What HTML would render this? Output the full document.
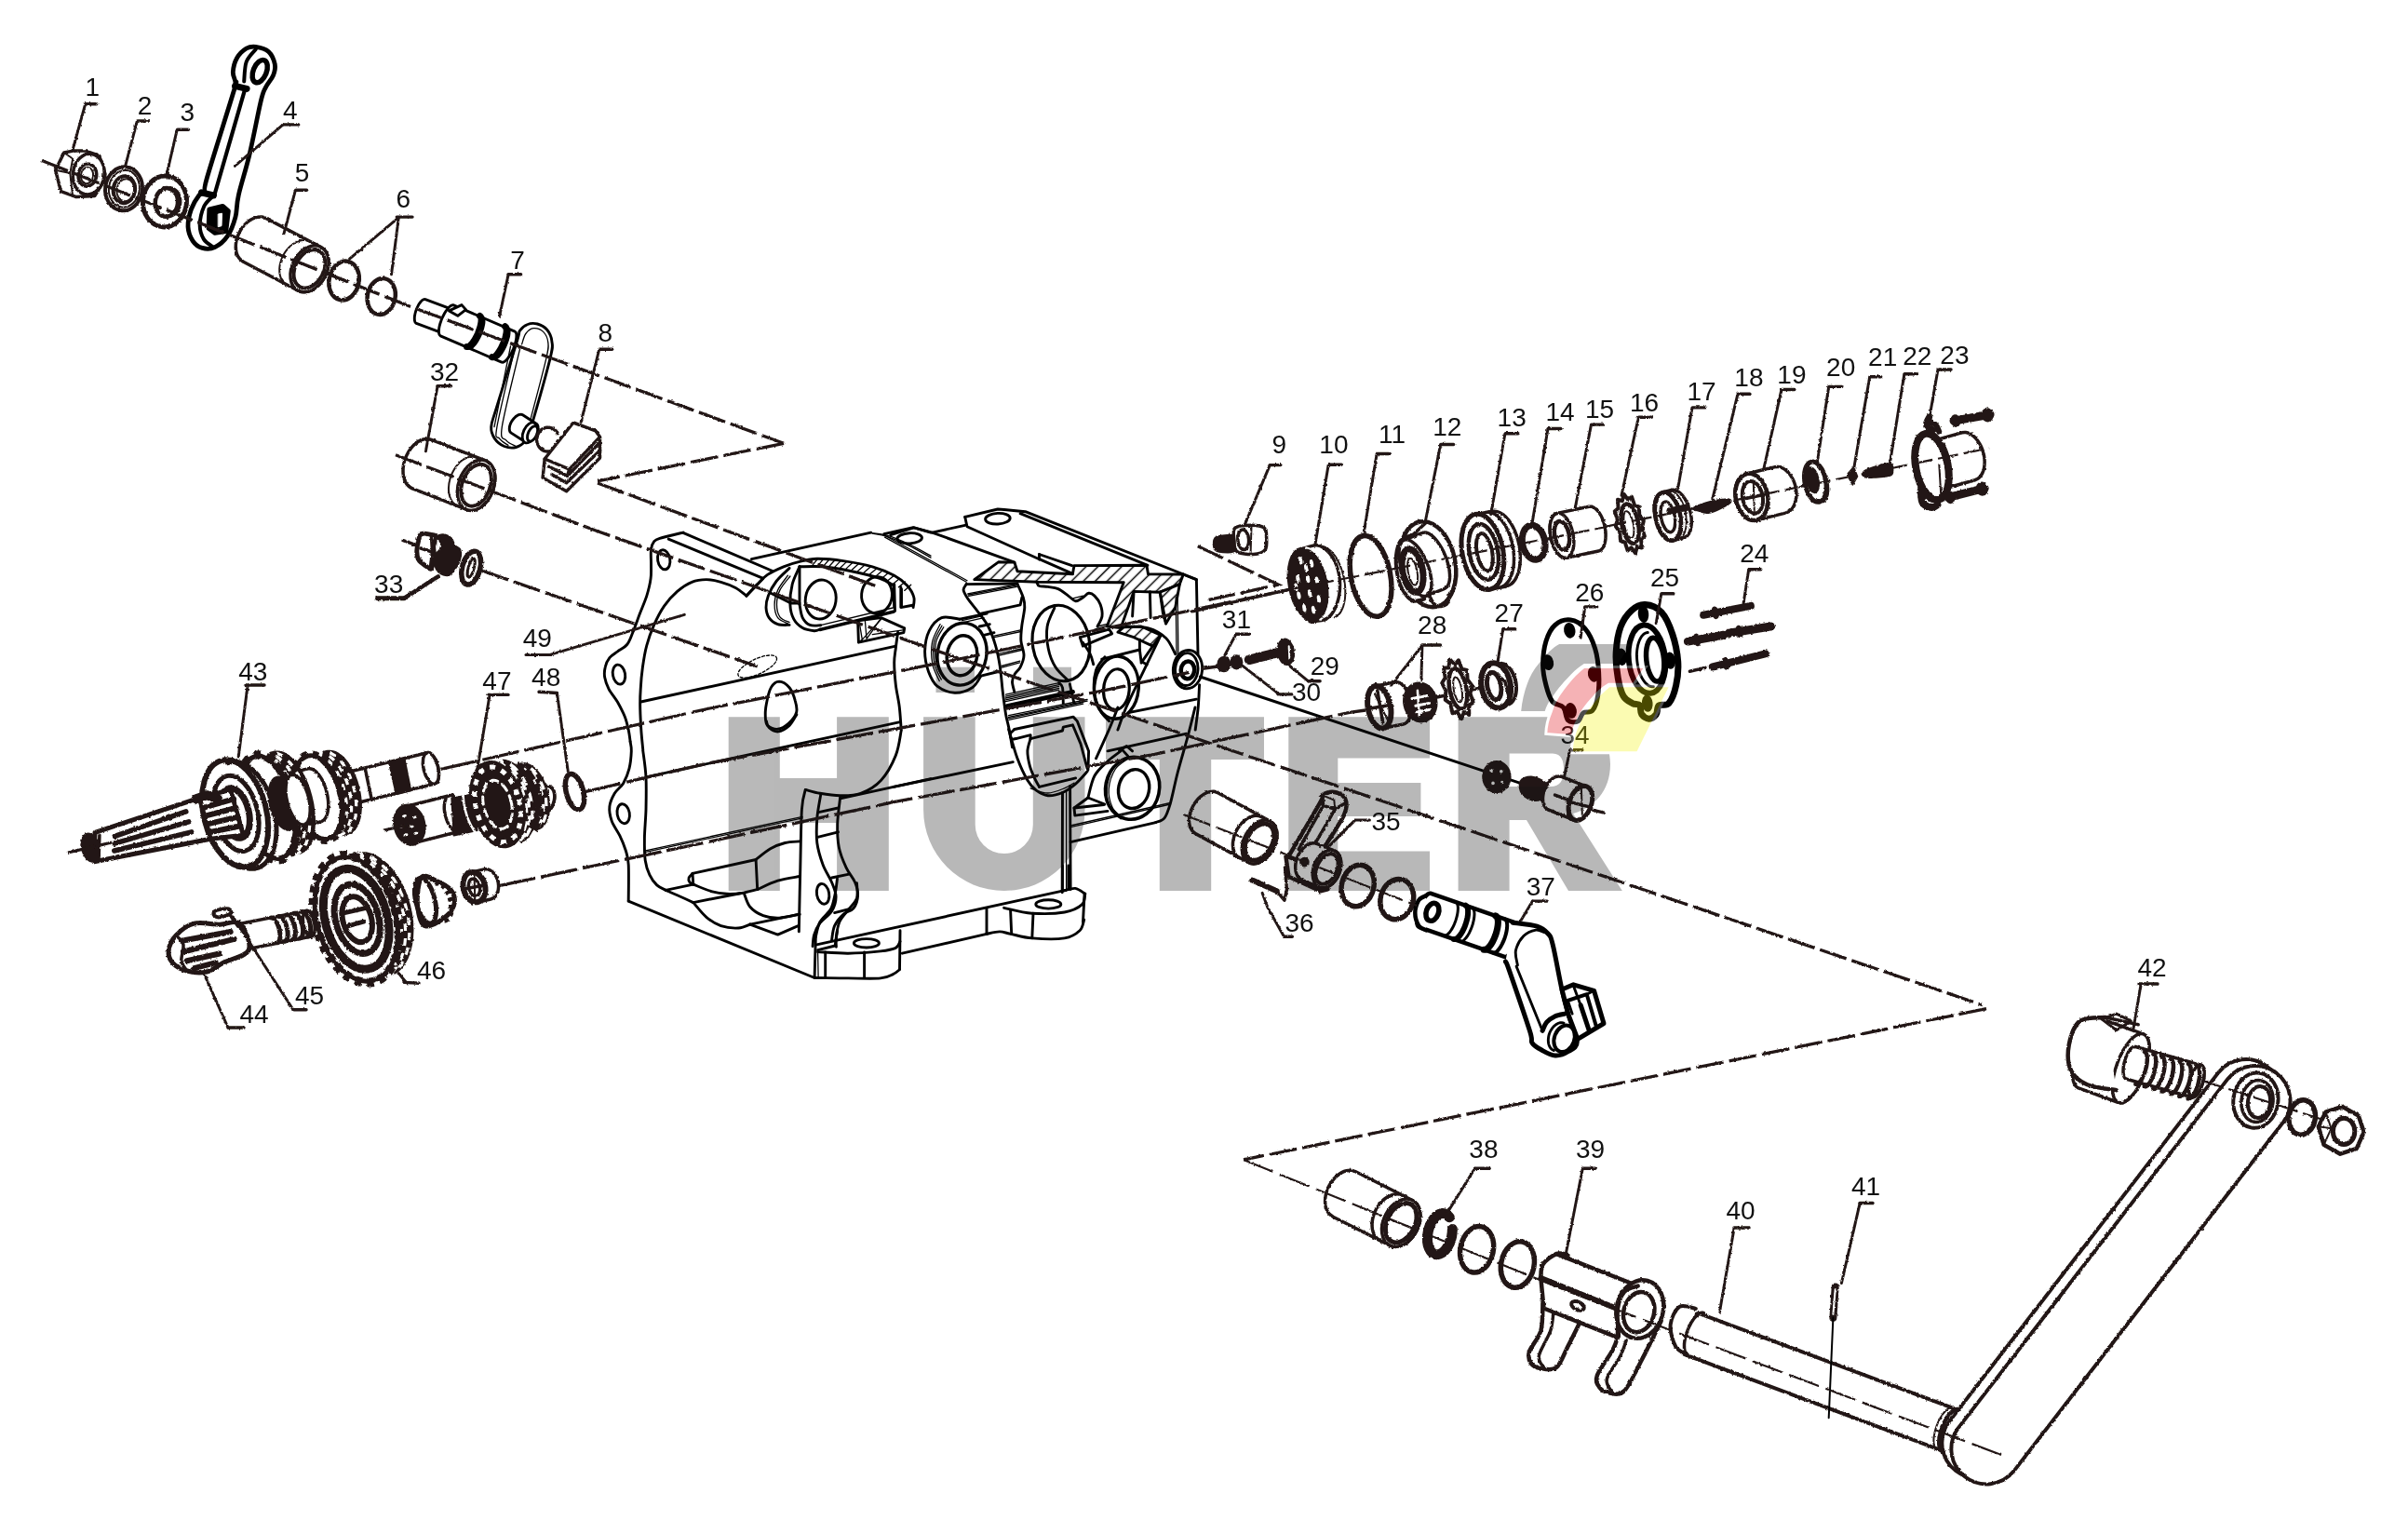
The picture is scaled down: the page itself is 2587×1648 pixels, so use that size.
<!DOCTYPE html>
<html><head><meta charset="utf-8"><title>Parts diagram</title>
<style>
html,body{margin:0;padding:0;background:#fff;}
body{width:2587px;height:1648px;overflow:hidden;font-family:"Liberation Sans",sans-serif;}
svg{display:block;will-change:transform;}
.k{fill:none;stroke:#000;stroke-width:2.9;stroke-linecap:round;stroke-linejoin:round;}
.kt{fill:none;stroke:#000;stroke-width:1.3;stroke-linecap:round;stroke-linejoin:round;}
.kw{fill:#fff;stroke:#000;stroke-width:2.9;stroke-linecap:round;stroke-linejoin:round;}
.s{fill:none;stroke:#231815;stroke-width:3.5;stroke-linecap:round;stroke-linejoin:round;}
.sw{fill:#fff;stroke:#231815;stroke-width:3.5;stroke-linecap:round;stroke-linejoin:round;}
.st{fill:none;stroke:#231815;stroke-width:2;stroke-linecap:round;stroke-linejoin:round;}
.sb{fill:#231815;stroke:#231815;stroke-width:2;stroke-linejoin:round;}
.d{fill:none;stroke:#231815;stroke-width:3.3;stroke-dasharray:30 6;stroke-linecap:butt;}
.dt{fill:none;stroke:#231815;stroke-width:2.2;stroke-dasharray:22 6;}
.ld{fill:none;stroke:#231815;stroke-width:3;stroke-linecap:round;}
.lb{font-family:"Liberation Sans",sans-serif;font-size:28px;fill:#111;}
</style></head><body>
<svg width="2587" height="1648" viewBox="0 0 2587 1648">
<rect width="2587" height="1648" fill="#fff"/>
<defs><filter id="rough" filterUnits="userSpaceOnUse" x="0" y="0" width="2587" height="1648"><feTurbulence type="fractalNoise" baseFrequency="0.35" numOctaves="2" seed="7" result="n"/><feDisplacementMap in="SourceGraphic" in2="n" scale="2.6" xChannelSelector="R" yChannelSelector="G"/></filter></defs>
<g id="10_topleft"><g filter="url(#rough)"><path class="sw" d="M59.6 182.8L68.8 164.0L78.2 162.1L91.9 162.1L106.6 167.2L113.0 187.1L111.5 194.9L101.7 210.6L82.1 211.6L65.5 205.7Z" />
<path class="st" d="M68.8 164.0L78.2 170.5L75.3 186.1L59.6 182.8" />
<path class="st" d="M75.3 186.1L78.2 211.0" />
<ellipse class="sw" cx="95.2" cy="187.1" rx="16.8" ry="21.9" transform="rotate(8 95.2 187.1)" />
<ellipse class="s" cx="93.9" cy="188.1" rx="9.8" ry="12.1" transform="rotate(8 93.9 188.1)" />
<ellipse class="st" cx="93.5" cy="188.5" rx="6.6" ry="8.8" transform="rotate(8 93.5 188.5)" />
<ellipse class="sw" cx="133.0" cy="202.8" rx="19.9" ry="23.5" transform="rotate(8 133.0 202.8)" style="stroke-width:4"/>
<ellipse class="st" cx="133.4" cy="202.8" rx="16.4" ry="19.9" transform="rotate(8 133.4 202.8)" />
<ellipse class="s" cx="133.4" cy="203.7" rx="11.7" ry="14.5" transform="rotate(8 133.4 203.7)" style="stroke-width:4"/>
<ellipse class="st" cx="134.9" cy="204.3" rx="9.4" ry="12.1" transform="rotate(8 134.9 204.3)" />
<ellipse class="sw" cx="177.0" cy="216.5" rx="23.5" ry="27.4" transform="rotate(5 177.0 216.5)" style="stroke-width:5"/>
<ellipse class="s" cx="178.9" cy="217.4" rx="12.1" ry="15.3" transform="rotate(5 178.9 217.4)" style="stroke-width:4.5"/>
<path class="s" d="M182.8 201.8C183.2 201.9 184.4 202.1 185.1 202.3C185.9 202.6 186.6 203.0 187.3 203.4C188.0 203.8 188.7 204.4 189.3 205.0C189.9 205.6 190.5 206.3 191.0 207.0C191.5 207.8 191.9 208.6 192.3 209.5C192.6 210.3 192.9 211.3 193.2 212.2C193.4 213.1 193.5 214.1 193.6 215.1C193.7 216.1 193.7 217.1 193.6 218.1C193.5 219.1 193.3 220.1 193.1 221.0C192.8 222.0 192.5 222.9 192.1 223.8C191.8 224.7 191.3 225.6 190.8 226.4C190.3 227.1 189.7 227.9 189.1 228.5C188.5 229.2 187.8 229.8 187.1 230.3C186.4 230.8 185.6 231.2 184.9 231.5C184.1 231.8 183.3 232.0 182.5 232.2C181.8 232.3 180.6 232.2 180.2 232.2" />
<path class="sw" d="M344.8 265.5C345.4 266.0 347.5 267.2 348.6 268.5C349.7 269.7 350.6 271.3 351.3 272.9C352.0 274.6 352.5 276.5 352.8 278.4C353.0 280.4 353.1 282.5 352.9 284.6C352.6 286.8 352.2 289.0 351.5 291.1C350.9 293.3 350.0 295.5 348.9 297.5C347.8 299.5 346.6 301.5 345.2 303.2C343.8 305.0 342.2 306.6 340.6 308.0C338.9 309.4 337.1 310.6 335.4 311.5C333.6 312.4 331.8 313.0 330.0 313.4C328.3 313.7 326.5 313.8 324.8 313.6C323.2 313.4 320.9 312.4 320.2 312.2L261.5 281.3C260.9 280.8 258.8 279.5 257.7 278.2C256.6 277.0 255.6 275.5 254.9 273.8C254.2 272.2 253.7 270.3 253.5 268.3C253.2 266.4 253.2 264.2 253.4 262.1C253.6 260.0 254.1 257.7 254.7 255.6C255.4 253.5 256.3 251.3 257.4 249.3C258.4 247.2 259.7 245.3 261.1 243.5C262.5 241.8 264.1 240.1 265.7 238.7C267.3 237.4 269.1 236.2 270.9 235.3C272.6 234.4 274.5 233.7 276.2 233.4C278.0 233.0 279.8 232.9 281.4 233.1C283.1 233.3 285.3 234.3 286.1 234.6Z" />
<ellipse class="sw" cx="332.5" cy="288.8" rx="18.6" ry="26.4" transform="rotate(27.8 332.5 288.8)"/>
<path class="st" d="M308.4 306.3C307.9 305.9 306.3 305.0 305.4 304.2C304.6 303.3 303.7 302.3 303.1 301.2C302.4 300.1 301.8 298.9 301.4 297.6C300.9 296.2 300.6 294.8 300.4 293.3C300.2 291.9 300.2 290.3 300.2 288.7C300.3 287.1 300.5 285.5 300.8 283.9C301.2 282.3 301.6 280.6 302.2 279.0C302.8 277.4 303.5 275.8 304.3 274.3C305.1 272.8 306.0 271.3 307.0 269.9C308.0 268.5 309.1 267.2 310.3 266.0C311.4 264.8 312.6 263.7 313.9 262.8C315.2 261.8 316.5 261.0 317.8 260.3C319.1 259.6 320.5 259.1 321.8 258.7C323.2 258.3 324.5 258.1 325.8 258.1C327.1 258.0 328.4 258.1 329.6 258.4C330.8 258.6 332.5 259.4 333.0 259.6" />
<path class="s" d="M346.0 295.9C345.1 297.1 342.9 300.9 341.0 302.8C339.2 304.7 336.9 306.4 334.8 307.5C332.6 308.7 330.3 309.3 328.2 309.4C326.1 309.5 324.0 309.1 322.3 308.2C320.5 307.3 319.0 305.8 317.9 304.0C316.8 302.2 316.0 299.9 315.7 297.5C315.4 295.1 315.5 292.3 316.1 289.7C316.6 287.0 317.7 284.2 319.0 281.7C320.3 279.2 322.0 276.8 323.9 274.8C325.8 272.9 328.0 271.2 330.1 270.1C332.3 269.0 334.7 268.3 336.7 268.2C338.8 268.1 341.0 268.5 342.7 269.4C344.4 270.3 346.0 271.9 347.1 273.6C348.2 275.4 348.9 277.8 349.2 280.1C349.5 282.5 349.4 285.3 348.8 288.0C348.3 290.6 346.4 294.6 346.0 295.9" style="stroke-width:4"/>
<ellipse class="sw" cx="369.6" cy="301.5" rx="16.0" ry="21.1" transform="rotate(12 369.6 301.5)" style="stroke-width:4.5"/>
<ellipse class="sw" cx="409.7" cy="318.5" rx="14.9" ry="19.6" transform="rotate(12 409.7 318.5)" style="stroke-width:4.5"/></g>
<g><path class="kw" d="M252.9 88.5C252.7 85.1 250.1 81.8 250.3 77.5C250.6 73.1 252.2 66.4 254.6 62.2C257.0 58.0 261.4 54.0 264.7 52.0C268.1 50.1 271.0 49.8 274.9 50.3C278.9 50.9 285.1 52.3 288.5 55.4C291.9 58.5 294.4 64.7 295.3 69.0C296.1 73.2 295.3 76.6 293.6 80.8C291.9 85.1 287.3 89.6 285.1 94.4C282.8 99.2 282.8 97.8 280.0 109.7C277.2 121.5 272.1 148.9 268.1 165.6C264.2 182.3 258.8 198.4 256.3 209.7C253.7 221.0 254.9 226.0 252.9 233.4C250.9 240.7 248.1 248.4 244.4 253.7C240.7 259.1 235.4 263.5 230.8 265.6C226.3 267.7 221.2 267.6 217.3 266.4C213.3 265.3 209.7 262.6 207.1 258.8C204.6 255.0 202.3 249.2 202.0 243.6C201.8 237.9 203.4 230.6 205.4 224.9C207.4 219.3 211.5 212.8 213.9 209.7C216.3 206.6 218.4 209.4 219.8 206.3C221.2 203.2 217.1 209.1 222.4 191.0C227.6 172.9 246.1 114.9 251.2 97.8C256.3 80.7 253.0 91.9 252.9 88.5Z" style="stroke-width:4.8"/>
<path class="k" d="M263.1 96.1L230.8 208.0" style="stroke-width:4.2"/>
<path class="k" d="M252.5 92.4L265.1 95.4" style="stroke-width:7"/>
<path class="k" d="M216.4 206.8L229.5 210.0" style="stroke-width:7"/>
<ellipse class="k" cx="279.2" cy="76.6" rx="7.1" ry="12.7" transform="rotate(22 279.2 76.6)" style="stroke-width:5.5"/>
<path class="k" d="M274.9 52.9C273.2 55.1 266.9 60.6 264.7 66.4C262.6 72.2 262.6 84.1 262.2 87.6" style="stroke-width:4"/>
<path class="k" d="M229.5 210.0C227.8 211.9 221.8 216.2 219.3 221.5C216.9 226.8 214.8 235.9 214.7 241.9C214.7 247.8 216.6 253.2 219.0 257.1C221.4 261.1 227.5 264.2 229.2 265.6" style="stroke-width:4"/>
<path class="k" d="M224.9 224.9L239.3 221.5L245.3 226.6L242.7 248.6L230.8 250.3L224.1 245.3Z" style="stroke-width:5;fill:#000"/>
<path class="k" d="M234.6 230.0L238.5 229.2L238.0 242.7L234.6 243.6Z" style="stroke-width:1;fill:#fff;stroke:#fff"/>
<text class="lb" x="99.3" y="103.0" font-size="27" text-anchor="middle" >1</text></g>
<g filter="url(#rough)"><path class="ld" d="M91.9 111.8L103.7 111.8" style="stroke-width:3.4"/>
<path class="ld" d="M91.5 112.4L78.2 160.7" /></g>
<g><text class="lb" x="155.5" y="123.0" font-size="27" text-anchor="middle" >2</text></g>
<g filter="url(#rough)"><path class="ld" d="M147.7 130.0L159.4 130.0" style="stroke-width:3.4"/>
<path class="ld" d="M147.1 130.8L134.9 177.3" /></g>
<g><text class="lb" x="201.4" y="130.4" font-size="27" text-anchor="middle" >3</text></g>
<g filter="url(#rough)"><path class="ld" d="M190.7 139.2L202.4 139.2" style="stroke-width:3.4"/>
<path class="ld" d="M190.1 139.8L178.9 188.1" /></g>
<g><text class="lb" x="311.9" y="128.1" font-size="27" text-anchor="middle" >4</text></g>
<g filter="url(#rough)"><path class="ld" d="M304.1 133.9L320.7 133.9" style="stroke-width:3.4"/>
<path class="ld" d="M304.1 133.9L252.3 178.3" /></g>
<g><text class="lb" x="324.6" y="194.9" font-size="27" text-anchor="middle" >5</text></g>
<g filter="url(#rough)"><path class="ld" d="M317.8 204.3L329.5 204.3" style="stroke-width:3.4"/>
<path class="ld" d="M317.2 205.1L305.1 250.7" /></g>
<g><text class="lb" x="433.2" y="222.7" font-size="27" text-anchor="middle" >6</text></g>
<g filter="url(#rough)"><path class="ld" d="M426.3 233.1L443.0 233.1" style="stroke-width:3.4"/>
<path class="ld" d="M428.3 233.7L375.5 278.1" />
<path class="ld" d="M428.3 233.7L420.5 294.7" /></g>
<g><path class="kw" d="M483.1 331.4C483.3 331.6 483.9 331.9 484.2 332.3C484.5 332.8 484.7 333.3 484.9 334.0C485.0 334.7 485.1 335.6 485.1 336.5C485.1 337.4 485.0 338.4 484.9 339.4C484.7 340.5 484.5 341.6 484.2 342.7C483.9 343.8 483.5 345.0 483.1 346.1C482.7 347.2 482.2 348.4 481.7 349.4C481.2 350.4 480.6 351.4 480.0 352.3C479.5 353.2 478.8 354.0 478.2 354.7C477.7 355.4 477.0 355.9 476.5 356.4C475.9 356.8 475.3 357.1 474.8 357.2C474.3 357.3 473.6 357.2 473.4 357.2L447.3 347.4C447.1 347.2 446.5 346.9 446.2 346.5C445.9 346.0 445.7 345.4 445.5 344.7C445.4 344.0 445.3 343.2 445.3 342.3C445.3 341.4 445.3 340.4 445.5 339.3C445.7 338.3 445.9 337.2 446.2 336.0C446.5 334.9 446.8 333.8 447.3 332.6C447.7 331.5 448.2 330.4 448.7 329.4C449.2 328.3 449.8 327.3 450.3 326.4C450.9 325.6 451.5 324.7 452.1 324.1C452.7 323.4 453.3 322.8 453.9 322.4C454.5 322.0 455.1 321.7 455.6 321.6C456.1 321.4 456.8 321.6 457.0 321.6Z" />
<path class="kw" d="M553.1 356.2C553.3 356.4 554.0 356.8 554.3 357.3C554.6 357.9 554.8 358.7 554.9 359.5C554.9 360.4 554.9 361.5 554.8 362.6C554.7 363.8 554.5 365.1 554.2 366.4C553.9 367.8 553.5 369.2 553.0 370.6C552.6 372.1 552.0 373.5 551.4 375.0C550.8 376.4 550.1 377.8 549.4 379.2C548.6 380.5 547.9 381.8 547.1 382.9C546.3 384.0 545.5 385.1 544.8 385.9C544.0 386.8 543.2 387.5 542.5 388.1C541.8 388.6 541.1 389.0 540.5 389.2C539.9 389.3 539.2 389.1 538.9 389.1L473.2 360.8C473.0 360.6 472.3 360.2 472.1 359.6C471.8 359.0 471.6 358.3 471.5 357.4C471.4 356.5 471.4 355.4 471.5 354.3C471.6 353.1 471.8 351.8 472.1 350.5C472.4 349.2 472.8 347.7 473.3 346.3C473.8 344.9 474.3 343.4 474.9 342.0C475.6 340.5 476.3 339.1 477.0 337.8C477.7 336.5 478.5 335.2 479.2 334.0C480.0 332.9 480.8 331.9 481.5 331.0C482.3 330.1 483.1 329.4 483.8 328.9C484.5 328.3 485.2 328.0 485.8 327.8C486.4 327.6 487.1 327.8 487.4 327.8Z" />
<path class="kw" d="M482.4 333.9L496.0 327.6L500.5 332.6L491.8 339.3L482.4 333.9Z" />
<path class="k" d="M515.5 339.5C515.6 339.6 516.1 339.8 516.3 340.2C516.5 340.5 516.7 341.0 516.9 341.5C517.0 342.1 517.1 342.7 517.1 343.4C517.1 344.1 517.0 344.9 517.0 345.8C516.9 346.6 516.7 347.6 516.5 348.6C516.3 349.5 516.1 350.6 515.8 351.6C515.5 352.6 515.1 353.7 514.7 354.8C514.3 355.9 513.9 357.0 513.5 358.1C513.0 359.2 512.5 360.2 512.0 361.3C511.5 362.3 510.9 363.3 510.4 364.2C509.9 365.2 509.3 366.1 508.7 366.9C508.2 367.7 507.6 368.5 507.0 369.1C506.5 369.8 505.9 370.4 505.4 370.9C504.9 371.4 504.4 371.7 503.9 372.0C503.4 372.3 503.0 372.5 502.6 372.6C502.2 372.6 501.6 372.5 501.5 372.5" style="stroke-width:7"/>
<path class="k" d="M518.4 340.7C518.5 340.8 519.0 341.1 519.2 341.4C519.5 341.8 519.7 342.2 519.8 342.8C519.9 343.3 520.0 344.0 520.0 344.7C520.0 345.4 520.0 346.2 519.9 347.0C519.8 347.9 519.6 348.8 519.4 349.8C519.2 350.8 519.0 351.8 518.7 352.9C518.4 353.9 518.0 355.0 517.7 356.1C517.3 357.2 516.8 358.3 516.4 359.3C515.9 360.4 515.4 361.5 514.9 362.5C514.4 363.5 513.9 364.6 513.3 365.5C512.8 366.4 512.2 367.3 511.6 368.2C511.1 369.0 510.5 369.7 510.0 370.4C509.4 371.1 508.9 371.6 508.3 372.1C507.8 372.6 507.3 373.0 506.8 373.3C506.3 373.6 505.9 373.8 505.5 373.8C505.1 373.9 504.6 373.7 504.4 373.7" />
<path class="k" d="M542.6 350.7C542.7 350.8 543.2 351.1 543.4 351.4C543.7 351.8 543.8 352.2 544.0 352.8C544.1 353.3 544.2 354.0 544.2 354.7C544.2 355.4 544.2 356.2 544.1 357.1C544.0 357.9 543.8 358.8 543.6 359.8C543.4 360.8 543.2 361.8 542.9 362.9C542.6 363.9 542.2 365.0 541.8 366.1C541.5 367.2 541.0 368.3 540.6 369.3C540.1 370.4 539.6 371.5 539.1 372.5C538.6 373.6 538.1 374.6 537.5 375.5C537.0 376.4 536.4 377.3 535.8 378.2C535.3 379.0 534.7 379.7 534.2 380.4C533.6 381.1 533.1 381.7 532.5 382.1C532.0 382.6 531.5 383.0 531.0 383.3C530.5 383.6 530.1 383.8 529.7 383.8C529.3 383.9 528.8 383.8 528.6 383.7" style="stroke-width:7"/>
<path class="k" d="M545.5 352.0C545.7 352.1 546.1 352.4 546.4 352.7C546.6 353.0 546.8 353.5 546.9 354.0C547.0 354.6 547.1 355.2 547.1 355.9C547.1 356.6 547.1 357.4 547.0 358.3C546.9 359.2 546.8 360.1 546.6 361.1C546.4 362.0 546.1 363.1 545.8 364.1C545.5 365.2 545.2 366.3 544.8 367.3C544.4 368.4 544.0 369.5 543.5 370.6C543.0 371.7 542.5 372.8 542.0 373.8C541.5 374.8 541.0 375.8 540.4 376.8C539.9 377.7 539.3 378.6 538.8 379.4C538.2 380.2 537.6 381.0 537.1 381.7C536.5 382.3 536.0 382.9 535.5 383.4C534.9 383.9 534.4 384.3 533.9 384.5C533.5 384.8 533.0 385.0 532.6 385.1C532.2 385.2 531.7 385.0 531.5 385.0" />
<path class="kw" d="M555.4 366.8C559.6 353.1 556.6 358.4 558.5 355.3C560.4 352.3 563.7 349.7 566.9 348.5C570.0 347.2 573.8 347.1 577.3 348.0C580.8 349.0 585.1 351.2 587.7 354.3C590.3 357.4 592.4 361.6 592.9 366.8C593.5 372.0 594.7 369.9 590.9 385.6C587.0 401.2 574.3 446.1 570.0 460.7C565.7 475.3 567.4 469.9 564.8 473.2C562.2 476.5 558.2 479.5 554.4 480.5C550.5 481.5 545.7 481.0 541.8 479.5C538.0 477.9 533.8 474.6 531.4 471.1C529.1 467.6 527.3 464.2 527.7 458.6C528.0 453.0 528.9 453.0 533.5 437.7C538.1 422.4 551.2 380.5 555.4 366.8Z" />
<path class="kt" d="M560.6 369.9C561.3 368.0 562.7 361.4 564.8 358.5C566.9 355.6 570.0 353.0 573.1 352.6C576.3 352.3 581.0 353.8 583.6 356.4C586.2 358.9 588.3 363.0 588.8 367.9C589.3 372.7 589.8 371.9 586.7 385.6C583.6 399.3 572.8 439.5 570.0 450.3" />
<path class="kt" d="M558.5 375.2C555.3 389.1 541.8 442.3 539.3 458.6C536.9 474.9 541.4 469.7 543.9 473.2C546.4 476.7 552.6 478.4 554.4 479.5" />
<path class="kt" d="M553.3 373.1C550.1 387.3 536.7 442.3 533.9 458.6C531.1 474.9 534.6 467.8 536.6 471.1C538.6 474.4 544.5 477.2 546.0 478.4" />
<path class="kt" d="M548.5 372.0L531.0 458.6" />
<path class="kw" d="M576.2 455.2C576.4 455.4 577.1 455.9 577.4 456.4C577.7 456.9 577.9 457.5 578.0 458.2C578.1 458.9 578.2 459.6 578.1 460.4C578.1 461.2 577.9 462.1 577.7 463.0C577.4 463.8 577.1 464.7 576.7 465.6C576.3 466.5 575.8 467.4 575.3 468.2C574.7 469.1 574.1 469.9 573.5 470.6C572.8 471.3 572.2 472.0 571.5 472.6C570.8 473.2 570.0 473.7 569.3 474.1C568.6 474.5 567.9 474.7 567.3 474.9C566.6 475.1 566.0 475.1 565.4 475.0C564.8 475.0 564.1 474.6 563.8 474.5L549.2 465.1C549.0 464.9 548.3 464.4 548.0 463.9C547.7 463.4 547.5 462.8 547.4 462.1C547.3 461.5 547.2 460.7 547.3 459.9C547.4 459.1 547.5 458.2 547.7 457.4C548.0 456.5 548.3 455.6 548.7 454.7C549.1 453.8 549.6 452.9 550.1 452.1C550.7 451.2 551.3 450.4 551.9 449.7C552.6 449.0 553.3 448.3 553.9 447.7C554.6 447.1 555.4 446.6 556.1 446.2C556.8 445.9 557.5 445.6 558.1 445.4C558.8 445.3 559.5 445.2 560.0 445.3C560.6 445.3 561.3 445.7 561.6 445.8Z" />
<ellipse class="kw" cx="569.0" cy="464.9" rx="6.7" ry="11.7" transform="rotate(25 569.0 464.9)" />
<ellipse class="kw" cx="572.1" cy="465.9" rx="4.6" ry="8.8" transform="rotate(25 572.1 465.9)" /></g>
<g filter="url(#rough)"><path class="s" d="M594.8 483.4C594.3 483.6 592.7 484.5 591.5 484.7C590.4 485.0 589.2 485.1 588.0 485.1C586.8 485.0 585.6 484.7 584.5 484.3C583.4 483.8 582.3 483.2 581.4 482.4C580.5 481.7 579.6 480.7 578.9 479.7C578.3 478.7 577.7 477.5 577.3 476.3C576.9 475.1 576.7 473.8 576.7 472.6C576.6 471.3 576.8 470.0 577.1 468.8C577.4 467.6 577.9 466.4 578.5 465.3C579.1 464.3 579.9 463.3 580.8 462.4C581.7 461.6 582.7 460.9 583.8 460.4C584.9 459.9 586.0 459.5 587.2 459.3C588.4 459.2 589.6 459.2 590.7 459.4C591.9 459.6 593.1 460.0 594.1 460.6C595.2 461.1 596.2 461.9 597.0 462.7C597.9 463.6 598.9 465.2 599.3 465.7" />
<path class="sw" d="M615.9 454.0L639.9 462.8L644.5 469.4L611.7 504.1L585.2 493.0Z" />
<path class="s" d="M585.2 493.0L583.1 513.2L608.6 527.8L644.5 492.0L644.5 469.4" />
<path class="s" d="M589.8 501.4L609.6 511.2L643.6 476.3" />
<path class="s" d="M592.9 509.7L608.6 518.7L644.5 484.0" />
<path class="s" d="M611.7 504.1L609.6 511.2" />
<path class="sw" d="M521.7 494.9C522.4 495.3 524.7 496.4 525.9 497.5C527.2 498.7 528.3 500.2 529.1 501.8C530.0 503.4 530.7 505.4 531.1 507.4C531.6 509.4 531.8 511.6 531.8 513.9C531.8 516.1 531.6 518.6 531.1 520.9C530.7 523.2 530.0 525.7 529.1 527.9C528.2 530.2 527.1 532.5 525.9 534.5C524.7 536.5 523.2 538.5 521.7 540.2C520.2 541.8 518.5 543.3 516.8 544.5C515.1 545.7 513.3 546.7 511.6 547.3C509.8 547.9 508.0 548.3 506.3 548.3C504.7 548.3 502.3 547.6 501.5 547.4L443.1 524.9C442.4 524.5 440.1 523.4 438.9 522.3C437.6 521.1 436.5 519.7 435.7 518.0C434.8 516.4 434.1 514.5 433.6 512.4C433.2 510.4 433.0 508.2 433.0 505.9C433.0 503.7 433.2 501.3 433.6 498.9C434.1 496.6 434.8 494.2 435.7 491.9C436.6 489.6 437.7 487.4 438.9 485.3C440.1 483.3 441.6 481.3 443.1 479.7C444.6 478.0 446.3 476.5 448.0 475.3C449.7 474.1 451.5 473.1 453.2 472.5C455.0 471.9 456.8 471.5 458.4 471.5C460.1 471.5 462.5 472.2 463.3 472.4Z" />
<ellipse class="sw" cx="511.6" cy="521.2" rx="18.8" ry="28.2" transform="rotate(21.1 511.6 521.2)"/>
<path class="st" d="M492.1 543.9C491.6 543.6 489.9 542.9 488.9 542.1C487.9 541.3 487.0 540.4 486.2 539.3C485.4 538.3 484.7 537.1 484.1 535.7C483.5 534.4 483.0 533.0 482.7 531.5C482.3 529.9 482.1 528.3 482.0 526.6C481.9 525.0 482.0 523.2 482.2 521.5C482.3 519.7 482.6 517.9 483.1 516.2C483.5 514.4 484.0 512.6 484.7 510.9C485.3 509.2 486.1 507.5 487.0 505.9C487.9 504.3 488.8 502.8 489.9 501.3C490.9 499.9 492.1 498.6 493.2 497.4C494.4 496.2 495.7 495.2 497.0 494.3C498.2 493.4 499.6 492.6 500.9 492.0C502.2 491.4 503.5 491.0 504.8 490.8C506.1 490.5 507.4 490.4 508.7 490.5C509.9 490.6 511.7 491.2 512.3 491.3" />
<path class="s" d="M525.6 526.6C524.9 527.9 523.0 532.2 521.3 534.5C519.7 536.8 517.6 538.9 515.6 540.4C513.6 541.9 511.3 543.0 509.2 543.4C507.2 543.8 505.0 543.7 503.2 543.0C501.4 542.3 499.7 541.0 498.5 539.3C497.3 537.6 496.3 535.2 495.8 532.8C495.3 530.3 495.1 527.4 495.4 524.5C495.7 521.7 496.5 518.6 497.6 515.8C498.6 513.0 500.2 510.2 501.8 507.9C503.5 505.5 505.6 503.4 507.6 501.9C509.6 500.5 511.9 499.4 514.0 499.0C516.0 498.5 518.2 498.7 520.0 499.4C521.8 500.0 523.5 501.4 524.7 503.1C525.9 504.8 526.9 507.1 527.4 509.6C527.9 512.0 528.1 515.0 527.8 517.8C527.5 520.6 526.0 525.1 525.6 526.6" style="stroke-width:4"/></g>
<g><text class="lb" x="556.0" y="288.6" font-size="27" text-anchor="middle" >7</text></g>
<g filter="url(#rough)"><path class="ld" d="M546.0 294.8L559.6 294.8" style="stroke-width:3.4"/>
<path class="ld" d="M546.0 295.5L536.6 339.7" /></g>
<g><text class="lb" x="650.3" y="366.8" font-size="27" text-anchor="middle" >8</text></g>
<g filter="url(#rough)"><path class="ld" d="M644.1 375.2L657.6 375.2" style="stroke-width:3.4"/>
<path class="ld" d="M643.6 376.0L624.2 453.4" /></g>
<g><text class="lb" x="477.6" y="408.5" font-size="27" text-anchor="middle" >32</text></g>
<g filter="url(#rough)"><path class="ld" d="M469.9 414.8L484.5 414.8" style="stroke-width:3.4"/>
<path class="ld" d="M469.9 415.8L457.4 484.7" />
<path class="d" d="M45.0 172.5L440.0 329.0L842.0 476.3" />
<path class="d" d="M842.0 476.3L642.0 517.0" /></g></g>
<g id="20_housing"><g><path class="k" d="M733.9 572.1C729.7 573.1 714.1 576.7 708.8 578.3C703.6 580.0 704.1 580.0 702.6 581.9C701.0 583.9 700.0 586.1 699.5 590.1C698.9 594.0 699.5 600.5 699.5 605.7C699.4 610.9 699.9 615.6 699.1 621.4C698.4 627.1 696.8 633.6 694.8 640.1C692.7 646.6 689.4 653.9 686.9 660.5C684.5 667.0 682.1 673.9 679.9 679.2C677.7 684.6 676.4 689.1 673.6 692.5C670.9 696.0 666.6 697.5 663.5 699.9C660.3 702.2 657.1 703.8 654.9 706.6C652.6 709.4 651.0 713.3 650.2 716.8C649.3 720.3 649.0 723.8 649.7 727.7C650.4 731.7 651.8 735.8 654.1 740.3C656.4 744.7 660.6 749.4 663.5 754.3C666.3 759.3 669.3 765.0 671.3 770.0C673.2 774.9 674.2 779.6 675.2 784.1C676.2 788.5 676.8 794.5 677.1 796.6" />
<ellipse class="k" cx="713.2" cy="601.3" rx="6.6" ry="10.6" transform="rotate(-10 713.2 601.3)" />
<ellipse class="k" cx="665.0" cy="724.6" rx="6.6" ry="10.6" transform="rotate(-10 665.0 724.6)" />
<path class="k" d="M733.9 572.4L830.1 613.5" />
<path class="k" d="M718.2 579.1L819.9 621.4L801.9 640.1" />
<path class="k" d="M807.4 600.7L935.7 572.1" />
<path class="kt" d="M935.7 572.4C938.6 572.9 946.1 573.2 952.9 575.2C959.7 577.2 968.5 580.9 976.4 584.6C984.2 588.2 996.1 595.0 1000.0 597.1" />
<path class="kt" d="M937.3 573.2C939.9 573.7 946.4 574.1 952.9 576.3C959.4 578.5 968.5 582.3 976.4 586.2C984.2 590.0 996.1 597.0 1000.0 599.1" />
<path class="k" d="M949.8 573.6L981.1 566.6L1000.0 572.1" />
<path class="k" d="M801.9 640.1C800.0 638.7 794.8 634.0 790.2 631.5C785.6 629.0 779.8 626.8 774.5 625.3C769.3 623.8 764.1 622.6 758.9 622.6C753.7 622.6 748.5 623.1 743.3 625.3C738.0 627.4 732.6 631.1 727.6 635.4C722.7 639.7 717.7 645.1 713.5 651.1C709.4 657.1 705.7 664.4 702.6 671.4C699.5 678.5 696.8 685.8 694.8 693.3C692.7 700.9 691.5 709.0 690.4 716.8C689.3 724.6 688.6 733.2 688.2 740.3C687.7 747.3 687.6 751.7 687.7 759.0C687.8 766.3 688.3 776.2 688.8 784.1C689.3 791.9 690.5 802.3 690.8 806.0" />
<path class="k" d="M801.9 640.1C803.9 638.0 809.9 631.4 813.7 627.6C817.4 623.8 819.9 620.6 824.6 617.4C829.3 614.3 836.1 611.2 841.8 608.8C847.6 606.5 853.0 604.8 859.0 603.4C865.0 601.9 870.0 600.4 877.8 600.2C885.6 600.1 896.1 601.1 906.0 602.6C915.9 604.0 928.1 606.2 937.3 608.8C946.4 611.4 954.5 614.8 960.7 618.2C967.0 621.6 971.3 625.3 974.8 629.2C978.3 633.1 980.8 637.8 981.8 641.7C982.9 645.6 981.2 650.8 981.1 652.6" />
<path class="k" d="M688.5 754.0L962.3 694.1" />
<path class="k" d="M859.0 608.8C863.2 608.8 874.9 608.1 884.1 608.8C893.2 609.6 903.6 611.4 913.8 613.5C924.0 615.6 937.3 618.7 945.1 621.4C952.9 624.0 958.1 627.9 960.7 629.2" />
<path class="k" d="M848.1 610.4C845.7 612.8 837.8 619.5 834.0 624.5C830.2 629.4 827.2 635.4 825.4 640.1C823.6 644.8 822.9 648.7 823.0 652.6C823.2 656.6 824.1 660.6 826.2 663.6C828.3 666.6 831.9 669.3 835.6 670.6C839.2 671.9 846.0 671.3 848.1 671.4" />
<path class="kt" d="M846.5 618.2C844.7 620.8 838.0 628.7 835.6 633.9C833.2 639.1 832.1 644.6 832.1 649.5C832.1 654.5 833.2 660.2 835.6 663.6C838.0 667.0 844.7 668.8 846.5 669.9" />
<path class="kt" d="M848.9 619.0C847.0 621.5 840.3 628.8 837.9 633.9C835.5 639.0 834.5 644.7 834.5 649.5C834.5 654.3 835.6 659.6 837.9 662.8C840.2 666.0 846.4 667.6 848.1 668.6" />
<path class="k" d="M859.0 608.8C857.7 612.0 852.9 620.8 851.2 627.6C849.5 634.4 848.6 643.3 848.9 649.5C849.1 655.8 850.6 661.0 852.8 665.2C855.0 669.3 858.5 672.5 862.2 674.5C865.8 676.6 871.6 677.4 874.7 677.7C877.8 677.9 879.9 676.4 880.9 676.1" />
<path class="k" d="M859.0 608.8L859.0 649.5" />
<path class="k" d="M859.0 649.5C859.6 651.9 860.3 659.9 862.2 663.6C864.0 667.2 866.7 670.1 870.0 671.4C873.2 672.8 879.8 671.7 881.7 671.7" />
<path class="k" d="M827.7 637.0L849.6 648.0L859.0 648.0" />
<ellipse class="k" cx="881.7" cy="644.0" rx="16.4" ry="21.1" transform="rotate(8 881.7 644.0)" />
<ellipse class="k" cx="942.0" cy="639.3" rx="16.4" ry="19.6" transform="rotate(5 942.0 639.3)" />
<path class="k" d="M880.9 676.1L960.7 656.6" />
<path class="kt" d="M881.7 671.7L959.2 653.0" />
<path class="kt" d="M880.9 677.7L960.7 658.1" />
<path class="k" d="M960.7 627.6L961.5 656.6" />
<path class="kt" d="M959.2 627.6L959.9 653.0" />
<path class="k" d="M967.8 630.7L967.8 652.6L980.3 650.3" />
<path class="kt" d="M969.3 632.3L969.3 651.1" />
<path class="kt" d="M871.6 608.8L878.6 600.2" />
<path class="kt" d="M877.8 608.8L884.8 600.4" />
<path class="kt" d="M884.1 608.8L891.1 600.7" />
<path class="kt" d="M890.3 609.0L897.4 601.3" />
<path class="kt" d="M896.6 609.4L903.6 602.1" />
<path class="kt" d="M902.8 610.0L909.9 603.1" />
<path class="kt" d="M909.1 610.9L916.1 604.3" />
<path class="kt" d="M915.4 612.1L922.4 605.7" />
<path class="kt" d="M921.6 613.5L928.7 607.3" />
<path class="kt" d="M927.9 615.2L934.9 609.2" />
<path class="kt" d="M934.1 617.2L941.2 611.3" />
<path class="kt" d="M940.4 619.4L947.4 613.6" />
<path class="kt" d="M946.6 621.9L953.7 616.1" />
<path class="kt" d="M952.9 624.6L959.9 618.8" />
<path class="kt" d="M959.2 627.6L966.2 621.7" />
<path class="kt" d="M965.4 630.8L972.5 624.9" />
<path class="kt" d="M971.7 634.4L978.7 628.2" />
<path class="k" d="M921.6 666.7L946.6 663.6L971.7 674.9L970.9 679.6L922.4 690.2Z" />
<path class="kt" d="M923.2 668.3L926.3 687.1L946.6 665.2" />
<path class="kt" d="M929.4 666.7L931.0 686.3L937.3 677.7L946.6 663.9" />
<path class="kt" d="M922.4 690.2L926.3 687.1" />
<path class="kt" d="M937.3 681.6L970.1 676.9" />
<path class="k" d="M964.6 679.2C964.2 682.1 962.9 691.0 962.3 696.5C961.6 701.9 960.7 705.6 960.7 712.1C960.7 718.6 961.4 727.7 962.3 735.6C963.2 743.4 965.2 751.0 966.2 759.0C967.2 767.1 967.9 779.9 968.2 784.1" />
<ellipse class="kt" cx="813.7" cy="716.0" rx="22.7" ry="8.1" transform="rotate(-25 813.7 716.0)" stroke-dasharray="3 2"/>
<path class="k" d="M837.1 732.1C833.9 732.1 830.8 734.4 828.5 738.4C826.2 742.3 824.4 750.6 823.4 755.9C822.3 761.2 822.1 766.1 822.3 770.0C822.5 773.9 822.4 777.2 824.6 779.4C826.8 781.6 831.8 783.7 835.6 783.3C839.3 782.9 844.0 780.0 847.3 777.0C850.6 774.0 854.4 769.3 855.6 765.3C856.8 761.3 855.6 757.2 854.3 752.8C853.1 748.3 851.0 742.1 848.1 738.7C845.2 735.3 840.4 732.2 837.1 732.1Z" />
<path class="k" d="M823.4 774.7C823.8 775.9 824.0 779.8 826.2 781.7C828.3 783.6 832.7 786.3 836.3 785.9C840.0 785.6 844.8 782.4 848.1 779.4C851.3 776.3 854.6 769.6 855.9 767.6" />
<path class="k" d="M677.1 796.8C677.3 798.5 678.5 802.1 678.3 806.9C678.1 811.8 677.4 820.0 676.0 825.7C674.6 831.4 672.3 836.9 669.7 841.4C667.1 845.8 662.8 848.1 660.3 852.3C657.9 856.5 655.4 861.4 654.9 866.4C654.3 871.3 655.4 876.8 657.2 882.0C659.0 887.2 663.3 892.5 665.8 897.7C668.3 902.9 670.5 908.1 672.1 913.3C673.6 918.5 674.7 919.8 675.2 929.0C675.7 938.1 675.2 961.6 675.2 968.1" />
<path class="k" d="M675.2 968.1L875.1 1050.5" />
<ellipse class="k" cx="669.7" cy="874.2" rx="6.6" ry="10.6" transform="rotate(-10 669.7 874.2)" />
<path class="k" d="M690.8 806.9C691.4 811.6 693.5 824.7 694.0 835.1C694.5 845.5 694.2 858.6 694.0 869.5C693.7 880.5 692.5 891.7 692.4 900.8C692.3 909.9 692.3 917.8 693.2 924.3C694.1 930.8 695.8 935.5 697.9 939.9C700.0 944.4 702.8 948.1 705.7 950.9C708.6 953.6 713.5 955.4 715.1 956.3" />
<path class="k" d="M694.0 834.8L967.0 775.6" />
<path class="kt" d="M692.4 914.1L862.2 877.3" />
<path class="kt" d="M692.4 915.7L862.2 878.9" />
<path class="k" d="M968.2 785.0C967.2 789.5 965.9 802.8 962.3 811.6C958.7 820.5 952.9 831.4 946.6 838.2C940.4 845.0 932.0 849.6 924.7 852.3C917.4 855.0 910.1 854.7 902.8 854.7C895.5 854.7 887.2 853.4 880.9 852.3C874.7 851.3 867.9 849.0 865.3 848.4" />
<path class="k" d="M865.3 848.4C864.6 851.9 862.3 855.6 861.4 869.5C860.5 883.5 860.3 910.2 859.8 932.1C859.3 954.0 858.5 989.5 858.3 1000.9" />
<path class="k" d="M881.7 853.9C881.1 858.0 878.5 870.3 877.8 878.9C877.2 887.5 876.8 897.2 877.8 905.5C878.9 913.8 881.5 921.9 884.1 929.0C886.7 936.0 891.1 942.0 893.5 947.7C895.8 953.5 898.1 958.2 898.1 963.4C898.1 968.6 896.3 974.3 893.5 979.0C890.6 983.7 884.1 987.4 880.9 991.6C877.8 995.7 876.0 999.9 874.7 1004.1C873.4 1008.2 873.4 1014.5 873.1 1016.6" />
<path class="k" d="M902.8 855.4C902.3 860.4 900.0 876.0 899.7 885.2C899.5 894.3 899.7 902.4 901.3 910.2C902.8 918.0 906.2 925.8 909.1 932.1C912.0 938.4 916.4 942.8 918.5 947.7C920.6 952.7 921.9 957.1 921.6 961.8C921.4 966.5 919.5 972.5 916.9 975.9C914.3 979.3 909.4 979.0 906.0 982.2C902.6 985.3 898.7 990.0 896.6 994.7C894.5 999.4 894.0 1007.7 893.5 1010.3" />
<path class="k" d="M879.4 872.6L900.5 868.0" />
<path class="k" d="M879.4 899.2L900.5 893.8" />
<path class="k" d="M893.5 943.0L912.2 939.1" />
<path class="k" d="M896.6 980.6L912.2 976.7" />
<ellipse class="k" cx="884.1" cy="960.3" rx="6.6" ry="11.0" transform="rotate(-10 884.1 960.3)" />
<path class="k" d="M902.8 857.8L1000.0 836.7" />
<path class="k" d="M744.0 938.4L812.1 923.5L813.7 955.6" />
<path class="k" d="M812.1 923.5C814.7 921.5 822.5 914.8 827.7 911.8C833.0 908.8 838.2 906.8 843.4 905.5C848.6 904.2 856.4 904.2 859.0 903.9" />
<path class="k" d="M813.7 955.6C817.3 954.0 828.0 948.5 835.6 946.2C843.1 943.8 855.1 942.3 859.0 941.5" />
<path class="k" d="M744.0 938.4C743.4 939.1 740.7 941.5 740.1 943.0C739.6 944.6 740.1 946.6 740.9 947.7C741.7 948.9 744.2 949.7 744.8 950.1" />
<path class="k" d="M744.0 938.4L744.8 950.1" />
<path class="k" d="M744.8 950.1C748.2 951.4 759.2 956.2 765.2 957.9C771.2 959.6 775.6 960.0 780.8 960.3C786.0 960.5 791.0 960.3 796.5 959.5C801.9 958.7 810.8 956.2 813.7 955.6" />
<path class="k" d="M715.1 956.3L744.8 950.1" />
<path class="k" d="M715.1 956.3C717.2 957.3 722.7 959.6 727.6 961.8C732.6 964.0 742.0 968.3 744.8 969.6" />
<path class="k" d="M744.8 969.6L796.5 959.5" />
<path class="k" d="M744.8 969.6C747.2 972.3 753.9 981.1 758.9 985.3C763.9 989.5 768.8 992.7 774.5 994.7C780.3 996.6 788.1 997.3 793.3 997.0C798.5 996.8 803.8 993.8 805.8 993.1" />
<path class="k" d="M799.6 960.3C800.6 962.6 802.5 970.4 805.8 974.3C809.2 978.3 814.7 981.8 819.9 983.7C825.1 985.7 830.6 986.3 837.1 986.1C843.6 985.8 855.4 982.8 859.0 982.2" />
<path class="k" d="M805.8 993.1L859.0 982.2" />
<path class="k" d="M805.8 993.1L835.6 1004.1L857.5 994.7" />
<path class="k" d="M878.6 1022.6C884.0 1022.8 899.9 1024.3 911.2 1024.2C922.4 1024.1 937.5 1022.8 946.0 1021.9C954.6 1020.9 958.8 1020.1 962.3 1018.4C965.8 1016.6 966.2 1012.6 967.0 1011.4" />
<path class="k" d="M967.0 999.8L966.5 1041.6" />
<path class="k" d="M875.1 1050.5C881.1 1050.5 899.3 1050.9 911.2 1050.9C923.0 1051.0 937.9 1051.7 946.0 1050.9C954.2 1050.2 956.6 1047.8 960.0 1046.3C963.4 1044.7 965.4 1042.4 966.5 1041.6" />
<path class="k" d="M886.7 1023.0L886.7 1049.8" />
<path class="k" d="M928.6 1023.0L928.6 1050.5" />
<path class="kt" d="M878.6 1022.6L879.1 1049.8" />
<ellipse class="k" cx="930.9" cy="1013.3" rx="13.5" ry="4.7" transform="rotate(0 930.9 1013.3)" />
<path class="k" d="M875.1 1050.5L876.3 1006.7" />
<path class="k" d="M877.4 1014.9L1143.7 956.7" />
<path class="k" d="M878.6 1020.7L897.2 1016.0L899.5 999.8" />
<path class="k" d="M969.3 1024.2L1060.0 1003.3" />
<path class="k" d="M1060.0 976.5L1060.0 1003.3" />
<path class="k" d="M1060.0 1003.3C1062.3 1002.9 1069.7 1000.9 1074.0 1000.9C1078.2 1000.9 1079.8 1002.1 1085.6 1003.3C1091.4 1004.4 1099.1 1007.1 1108.8 1007.9C1118.5 1008.7 1135.2 1009.3 1143.7 1007.9C1152.2 1006.6 1156.5 1003.1 1160.0 999.8C1163.5 996.5 1163.9 990.1 1164.7 988.1" />
<path class="k" d="M1165.1 960.2L1163.5 990.5" />
<path class="k" d="M1085.6 977.7L1086.7 1003.3" />
<path class="k" d="M1110.0 981.2L1108.8 1007.9" />
<path class="k" d="M1078.6 975.3C1083.6 976.3 1098.0 980.4 1108.8 981.2C1119.7 981.9 1134.8 981.6 1143.7 980.0C1152.6 978.4 1158.6 975.2 1162.3 971.9C1166.0 968.6 1165.2 962.2 1165.8 960.2" />
<path class="k" d="M1143.7 956.7C1145.7 956.4 1151.7 953.8 1155.3 954.4C1159.0 955.0 1164.1 959.3 1165.8 960.2" />
<ellipse class="k" cx="1126.3" cy="971.4" rx="13.5" ry="4.7" transform="rotate(0 1126.3 971.4)" />
<path class="k" d="M899.5 944.0C899.1 946.7 898.4 954.8 897.2 960.2C896.0 965.7 895.3 971.5 892.6 976.5C889.8 981.6 883.6 985.4 880.9 990.5C878.2 995.5 877.1 1004.0 876.3 1006.7" />
<path class="k" d="M920.5 948.6C920.5 951.3 922.0 960.0 920.5 964.9C918.9 969.7 914.3 973.4 911.2 977.7C908.1 981.9 904.0 985.6 901.9 990.5C899.7 995.3 899.0 1002.3 898.4 1006.7C897.8 1011.2 898.4 1015.5 898.4 1017.2" />
<path class="k" d="M1141.4 930.0L1141.4 957.4" />
<path class="k" d="M1147.9 930.0L1147.9 955.6" />
<defs><pattern id="hat" width="9" height="9" patternUnits="userSpaceOnUse" patternTransform="rotate(-45)"><rect width="9" height="9" fill="#fff"/><line x1="0" y1="4.5" x2="9" y2="4.5" stroke="#000" stroke-width="1.5"/></pattern></defs>
<path class="k" d="M1046.8 622.6L1072.6 603.8L1089.9 604.1L1093.0 613.8L1152.4 616.7L1154.0 607.6L1231.9 607.3L1233.5 616.7L1271.3 617.0L1267.4 627.6L1246.3 636.2L1218.1 635.4L1204.1 674.5L1189.2 673.0L1207.2 625.7L1114.9 625.3Z" style="fill:url(#hat)"/>
<path class="k" d="M1246.3 636.2L1267.4 627.6L1262.7 652.6L1252.6 669.9L1249.4 658.9Z" style="fill:url(#hat)"/>
<path class="k" d="M1200.9 679.2L1207.2 673.8L1226.0 673.0L1247.1 682.4L1238.5 694.1L1218.1 684.7Z" style="fill:url(#hat)"/>
<path class="k" d="M956.9 574.7L981.9 566.9L1001.5 572.1L1089.9 604.1" />
<path class="k" d="M1001.5 572.1L1036.7 564.3" />
<path class="kt" d="M950.6 575.2L1039.0 623.7" />
<path class="kt" d="M950.6 577.1L1038.2 625.3" />
<ellipse class="k" cx="977.2" cy="578.3" rx="13.3" ry="5.6" transform="rotate(-3 977.2 578.3)" />
<path class="k" d="M1036.7 555.3L1071.9 547.0L1078.9 547.5L1101.6 549.7L1285.4 622.6" />
<path class="k" d="M1096.1 551.7L1233.0 607.3" />
<path class="k" d="M1036.7 555.3L1039.0 565.8L1116.5 600.7" />
<path class="k" d="M1116.5 595.5L1116.5 601.0" />
<path class="k" d="M1116.5 595.5L1151.7 607.6" />
<path class="k" d="M1116.5 600.7L1152.4 616.3" />
<ellipse class="k" cx="1071.9" cy="557.2" rx="13.3" ry="5.8" transform="rotate(-3 1071.9 557.2)" />
<path class="k" d="M1271.3 617.0L1285.4 622.6L1287.0 702.7" />
<path class="kt" d="M1263.2 641.7L1264.0 702.7" />
<path class="kt" d="M1265.1 641.7L1265.9 702.7" />
<path class="k" d="M1218.1 635.4L1216.6 662.0" />
<path class="k" d="M1235.4 635.7L1236.1 663.6" />
<path class="k" d="M1246.3 636.2L1252.6 669.9" />
<ellipse class="k" cx="1276.0" cy="719.1" rx="15.6" ry="20.7" transform="rotate(5 1276.0 719.1)" />
<ellipse class="k" cx="1274.8" cy="719.1" rx="12.2" ry="17.5" transform="rotate(5 1274.8 719.1)" />
<ellipse class="k" cx="1276.0" cy="719.9" rx="7.2" ry="9.4" transform="rotate(5 1276.0 719.9)" style="stroke-width:4.5"/>
<path class="k" d="M1031.2 665.2C1027.9 664.9 1017.1 661.5 1011.6 663.6C1006.2 665.7 1001.3 671.7 998.3 677.7C995.3 683.7 993.8 692.3 993.6 699.6C993.5 706.9 995.3 715.2 997.5 721.5C999.8 727.7 1002.2 733.3 1006.9 737.1C1011.6 740.9 1019.5 743.9 1025.7 744.2C1032.0 744.4 1039.8 741.7 1044.5 738.7C1049.2 735.7 1052.3 728.3 1053.9 726.2" />
<path class="kt" d="M1010.1 670.6C1008.6 673.9 1002.8 683.0 1001.5 690.2C1000.1 697.4 1000.6 706.8 1001.9 713.7C1003.2 720.6 1008.1 728.7 1009.3 731.7" />
<path class="kt" d="M1011.9 672.2C1010.5 675.2 1004.8 683.3 1003.5 690.2C1002.2 697.1 1002.7 707.0 1004.0 713.7C1005.3 720.3 1010.1 727.4 1011.3 730.1" />
<path class="kt" d="M1013.8 673.8C1012.4 676.5 1006.8 683.5 1005.5 690.2C1004.2 696.8 1004.7 707.3 1006.0 713.7C1007.3 720.1 1012.1 726.0 1013.4 728.5" />
<ellipse class="k" cx="1033.5" cy="702.7" rx="26.3" ry="33.6" transform="rotate(10 1033.5 702.7)" style="stroke-width:3.4"/>
<ellipse class="k" cx="1033.5" cy="704.3" rx="16.1" ry="21.6" transform="rotate(10 1033.5 704.3)" style="stroke-width:3.4"/>
<path class="k" d="M1031.2 665.2L1060.1 659.2" />
<path class="k" d="M1052.3 673.0L1063.3 670.6" />
<path class="k" d="M1056.2 682.7L1068.0 679.7" />
<path class="kt" d="M1033.5 666.7L1055.4 661.7" />
<path class="kt" d="M1035.1 668.6L1057.0 663.6" />
<path class="k" d="M1053.9 726.2L1072.6 721.5" />
<path class="k" d="M1038.2 627.6C1037.7 628.7 1034.8 631.3 1035.1 633.9C1035.4 636.5 1037.2 639.3 1039.8 643.3C1042.4 647.2 1047.1 652.4 1050.7 657.3C1054.4 662.3 1058.6 667.0 1061.7 673.0C1064.8 679.0 1067.4 686.3 1069.5 693.3C1071.6 700.4 1072.9 706.9 1074.2 715.2C1075.5 723.6 1076.3 734.8 1077.3 743.4C1078.4 752.0 1079.4 760.6 1080.5 766.9C1081.5 773.1 1082.4 774.9 1083.6 780.9C1084.8 786.9 1086.9 799.2 1087.5 802.8" />
<path class="k" d="M1038.2 627.6L1093.0 627.0" />
<path class="kt" d="M1039.8 637.8L1091.4 627.9" />
<path class="kt" d="M1040.1 639.0L1091.7 629.2" />
<path class="kt" d="M1040.7 640.3L1092.4 630.4" />
<path class="k" d="M1053.9 659.2L1096.1 649.8L1098.0 641.7" />
<path class="k" d="M1093.0 627.3C1094.0 629.7 1097.9 637.5 1099.2 641.7C1100.5 645.9 1101.1 647.4 1100.8 652.6C1100.5 657.9 1098.3 667.0 1097.7 673.0C1097.0 679.0 1096.5 683.4 1096.9 688.6C1097.3 693.8 1100.2 699.6 1100.0 704.3C1099.9 709.0 1097.8 713.4 1096.1 716.8C1094.4 720.2 1091.3 722.0 1089.9 724.6C1088.4 727.2 1087.5 729.3 1087.5 732.4C1087.5 735.6 1089.5 741.6 1089.9 743.4" />
<path class="kt" d="M1068.0 683.2L1096.4 676.9" />
<path class="kt" d="M1068.3 684.7L1096.7 678.5" />
<path class="kt" d="M1072.3 702.7L1099.2 696.5" />
<path class="kt" d="M1072.6 704.3L1099.2 698.0" />
<path class="kt" d="M1076.1 715.5L1095.8 710.2" />
<path class="kt" d="M1076.4 717.1L1095.5 711.8" />
<ellipse class="k" cx="1139.9" cy="691.0" rx="30.5" ry="41.0" transform="rotate(-10 1139.9 691.0)" style="stroke-width:3.2"/>
<path class="k" d="M1132.9 653.0C1131.6 656.3 1126.2 665.7 1125.1 673.0C1123.9 680.2 1124.7 689.2 1126.2 696.5C1127.6 703.8 1130.4 711.0 1134.0 716.8C1137.6 722.6 1145.4 728.8 1147.7 731.2" />
<path class="k" d="M1114.1 626.0C1114.5 626.6 1114.5 628.8 1116.5 629.5C1118.4 630.2 1122.5 629.9 1125.8 630.4C1129.2 631.0 1133.1 631.0 1136.8 632.6C1140.4 634.2 1144.6 637.9 1147.7 640.1C1150.9 642.3 1153.0 645.4 1155.6 645.8C1158.2 646.1 1161.0 643.4 1163.4 642.0C1165.7 640.6 1167.6 637.6 1169.6 637.3C1171.7 637.0 1173.8 638.1 1175.9 640.1C1178.0 642.2 1180.8 645.9 1182.2 649.5C1183.5 653.2 1184.6 658.1 1184.0 662.0C1183.5 665.9 1179.9 671.2 1179.0 673.0" />
<path class="kt" d="M1152.7 642.8L1163.4 640.1" />
<path class="k" d="M1163.4 690.2C1164.7 692.3 1169.3 698.8 1171.2 702.7C1173.1 706.6 1174.1 711.8 1174.7 713.7" />
<path class="k" d="M1160.3 684.7L1191.6 676.1L1194.7 680.8L1163.4 694.1Z" />
<path class="kt" d="M1179.0 673.0L1191.6 669.9" />
<path class="kt" d="M1175.9 676.1L1190.0 672.2" />
<ellipse class="k" cx="1199.4" cy="738.7" rx="23.8" ry="33.6" transform="rotate(5 1199.4 738.7)" style="stroke-width:3.4"/>
<path class="k" d="M1186.9 705.8C1185.3 708.2 1179.3 713.7 1177.5 719.9C1175.6 726.2 1174.8 736.1 1175.6 743.4C1176.4 750.7 1179.5 758.5 1182.2 763.7C1184.8 768.9 1190.0 772.9 1191.6 774.7" />
<ellipse class="k" cx="1199.4" cy="740.6" rx="13.8" ry="21.9" transform="rotate(5 1199.4 740.6)" style="stroke-width:3.2"/>
<path class="k" d="M1183.7 708.2L1224.4 698.0L1226.0 710.5L1232.2 714.0" />
<path class="k" d="M1224.4 687.1L1224.4 698.0" />
<path class="k" d="M1210.3 673.0C1214.2 673.3 1226.8 672.8 1233.8 674.9C1240.8 676.9 1247.7 680.9 1252.6 685.5C1257.4 690.1 1261.0 699.8 1262.7 702.7" />
<path class="k" d="M1247.1 682.4C1244.1 688.6 1235.2 707.1 1229.1 719.9C1223.0 732.7 1215.0 748.3 1210.3 759.0C1205.6 769.7 1202.5 779.9 1200.9 784.1" />
<path class="k" d="M1238.5 694.1L1226.0 712.1" />
<path class="kt" d="M1080.5 746.2L1137.6 733.7" />
<path class="kt" d="M1080.5 748.1L1137.6 735.6" />
<path class="kt" d="M1080.5 750.0L1137.6 737.4" />
<path class="kt" d="M1080.5 751.8L1137.6 739.3" />
<path class="kt" d="M1080.5 753.7L1137.6 741.2" />
<path class="k" d="M1137.6 733.7C1138.2 734.5 1140.7 735.0 1141.5 738.7C1142.3 742.4 1142.1 753.0 1142.3 755.9" />
<path class="k" d="M1149.3 734.8L1154.0 755.9" />
<path class="k" d="M1082.0 758.7L1152.4 743.4" style="stroke-width:5"/>
<path class="kt" d="M1083.6 768.7L1168.1 751.5" />
<path class="kt" d="M1083.6 770.3L1168.1 753.1" />
<path class="k" d="M1213.5 765.3L1285.4 751.2" />
<path class="k" d="M1288.6 735.6C1288.3 739.5 1288.0 751.0 1287.3 759.0C1286.6 767.1 1284.7 779.9 1284.2 784.1" />
<path class="k" d="M1083.6 783.5C1085.2 788.7 1089.6 805.6 1093.0 814.8C1096.4 823.9 1100.5 832.5 1103.9 838.2C1107.3 844.0 1109.7 846.4 1113.3 849.2C1117.0 851.9 1121.1 854.3 1125.8 854.7C1130.5 855.0 1136.5 853.6 1141.5 851.5C1146.4 849.4 1151.1 845.9 1155.6 842.1C1160.0 838.4 1166.0 831.1 1168.1 828.8" />
<path class="kt" d="M1107.1 846.8C1110.2 847.7 1119.6 852.1 1125.8 852.0C1132.1 851.9 1139.9 848.2 1144.6 846.4C1149.3 844.5 1152.4 841.9 1154.0 841.0" />
<path class="kt" d="M1083.6 771.7L1163.4 754.5" />
<path class="kt" d="M1083.9 773.3L1163.7 756.1" />
<path class="k" d="M1089.9 783.5L1153.2 770.2L1157.4 774.9L1169.6 806.9L1168.9 827.3" />
<path class="k" d="M1107.1 793.6L1141.5 785.0L1142.3 781.1L1152.4 778.8L1161.0 799.1L1168.1 825.7" />
<path class="k" d="M1091.4 793.6L1107.1 789.7L1107.1 793.6" />
<path class="k" d="M1107.1 793.6C1106.5 795.9 1104.1 802.1 1103.9 806.9C1103.8 811.8 1105.0 817.6 1106.3 822.6C1107.6 827.5 1110.1 832.9 1111.8 836.7C1113.5 840.4 1115.7 843.8 1116.5 845.3" />
<path class="k" d="M1089.9 783.5C1089.1 784.3 1086.0 786.5 1085.5 788.2C1085.0 789.9 1085.7 792.7 1086.7 793.6C1087.7 794.6 1090.6 793.6 1091.4 793.6" />
<path class="k" d="M1116.5 845.3L1155.6 835.9" />
<path class="k" d="M960.0 845.3L1088.3 818.7" />
<path class="k" d="M1141.5 851.5L1141.2 958.7" />
<path class="k" d="M1149.6 844.5L1150.1 955.6" />
<path class="kt" d="M1145.6 850.0L1145.6 957.4" />
<ellipse class="k" cx="1216.6" cy="846.8" rx="28.9" ry="33.6" transform="rotate(12 1216.6 846.8)" style="stroke-width:3.6"/>
<ellipse class="k" cx="1218.1" cy="847.6" rx="16.4" ry="21.1" transform="rotate(12 1218.1 847.6)" style="stroke-width:3.4"/>
<path class="kt" d="M1210.3 814.0C1208.0 815.9 1199.8 820.1 1196.2 825.7C1192.7 831.3 1189.7 840.6 1189.2 847.6C1188.7 854.7 1190.6 862.6 1193.1 868.0C1195.6 873.3 1202.2 877.7 1204.1 879.7" />
<path class="kt" d="M1211.9 815.1C1209.6 817.0 1201.6 821.1 1198.1 826.5C1194.7 831.9 1191.8 840.8 1191.2 847.6C1190.7 854.4 1192.6 862.0 1195.0 867.2C1197.4 872.3 1203.9 876.7 1205.6 878.6" />
<path class="k" d="M1204.1 806.9C1201.7 808.8 1194.7 813.5 1190.0 817.9C1185.3 822.3 1179.4 827.0 1175.9 833.5C1172.4 840.1 1170.0 853.1 1168.9 857.0" />
<path class="k" d="M1168.9 857.0L1154.0 868.0L1154.8 876.1L1190.0 871.4" />
<path class="k" d="M1154.0 868.0L1186.1 864.5" />
<path class="k" d="M1168.9 857.0L1186.9 864.0" />
<path class="k" d="M1202.5 806.2L1210.3 801.5L1216.6 806.9" />
<path class="k" d="M1205.6 805.4L1211.9 812.4" />
<path class="k" d="M1283.9 760.0C1282.6 765.2 1279.2 779.6 1276.0 791.3C1272.9 803.0 1268.2 818.4 1265.1 830.4C1262.0 842.4 1259.6 855.2 1257.3 863.3C1254.9 871.3 1253.6 875.5 1251.0 878.9C1248.4 882.3 1243.2 882.8 1241.6 883.6" />
<path class="k" d="M1241.6 883.6L1150.1 904.7" />
<path class="k" d="M1190.0 806.9L1274.5 788.2" />
<path class="k" d="M1200.9 760.0C1199.4 763.9 1195.5 774.3 1191.6 783.5C1187.6 792.6 1179.8 809.5 1177.5 814.8" />
<path class="kt" d="M1150.1 887.0L1257.3 862.5" />
<path class="kt" d="M1150.1 888.6L1257.3 864.0" /></g></g>
<g id="30_right"><g filter="url(#rough)"><path class="sb" d="M1305.4 577.9C1307.7 575.3 1315.4 575.1 1319.1 574.9C1322.9 574.8 1326.4 574.3 1327.9 576.9C1329.4 579.5 1329.4 587.8 1327.9 590.6C1326.4 593.4 1322.9 593.5 1319.1 593.5C1315.4 593.5 1307.7 593.2 1305.4 590.6C1303.1 588.0 1303.1 580.5 1305.4 577.9Z" />
<path class="sw" d="M1326.9 567.1C1330.0 564.3 1339.3 564.2 1344.5 564.2C1349.8 564.2 1355.6 565.0 1358.2 567.1C1360.9 569.2 1360.4 573.0 1360.6 576.9C1360.7 580.8 1361.6 587.5 1359.2 590.6C1356.9 593.7 1351.5 595.2 1346.5 595.5C1341.4 595.8 1332.3 595.0 1328.9 592.5C1325.5 590.1 1326.3 585.0 1326.0 580.8C1325.6 576.6 1323.8 569.9 1326.9 567.1Z" />
<ellipse class="s" cx="1335.7" cy="579.8" rx="5.9" ry="10.8" transform="rotate(-5 1335.7 579.8)" />
<path class="st" d="M1344.5 565.2L1343.6 594.5" />
<path class="sw" d="M1397.3 590.6C1400.3 589.8 1409.7 585.0 1414.9 585.7C1420.2 586.4 1424.9 590.1 1428.6 594.5C1432.4 598.9 1435.6 605.6 1437.4 612.1C1439.2 618.6 1439.9 626.8 1439.4 633.6C1438.9 640.5 1436.9 648.0 1434.5 653.2C1432.1 658.4 1429.3 662.5 1424.7 664.9C1420.2 667.3 1410.1 667.3 1407.1 667.8" />
<ellipse class="sb" cx="1405.2" cy="628.1" rx="20.5" ry="40.1" transform="rotate(-11 1405.2 628.1)" />
<ellipse class="st" cx="1397.3" cy="602.3" rx="2.0" ry="4.3" transform="rotate(-11 1397.3 602.3)" style="fill:#fff;stroke:none"/>
<ellipse class="st" cx="1409.1" cy="605.3" rx="2.0" ry="4.3" transform="rotate(-11 1409.1 605.3)" style="fill:#fff;stroke:none"/>
<ellipse class="st" cx="1394.4" cy="621.9" rx="2.0" ry="4.3" transform="rotate(-11 1394.4 621.9)" style="fill:#fff;stroke:none"/>
<ellipse class="st" cx="1405.2" cy="621.9" rx="2.0" ry="4.3" transform="rotate(-11 1405.2 621.9)" style="fill:#fff;stroke:none"/>
<ellipse class="st" cx="1414.9" cy="623.8" rx="2.0" ry="4.3" transform="rotate(-11 1414.9 623.8)" style="fill:#fff;stroke:none"/>
<ellipse class="st" cx="1395.4" cy="639.5" rx="2.0" ry="4.3" transform="rotate(-11 1395.4 639.5)" style="fill:#fff;stroke:none"/>
<ellipse class="st" cx="1407.1" cy="637.5" rx="2.0" ry="4.3" transform="rotate(-11 1407.1 637.5)" style="fill:#fff;stroke:none"/>
<ellipse class="st" cx="1416.9" cy="643.4" rx="2.0" ry="4.3" transform="rotate(-11 1416.9 643.4)" style="fill:#fff;stroke:none"/>
<ellipse class="st" cx="1401.3" cy="653.2" rx="2.0" ry="4.3" transform="rotate(-11 1401.3 653.2)" style="fill:#fff;stroke:none"/>
<ellipse class="st" cx="1411.0" cy="655.1" rx="2.0" ry="4.3" transform="rotate(-11 1411.0 655.1)" style="fill:#fff;stroke:none"/>
<ellipse class="st" cx="1403.2" cy="610.1" rx="2.0" ry="4.3" transform="rotate(-11 1403.2 610.1)" style="fill:#fff;stroke:none"/>
<ellipse class="st" cx="1392.5" cy="630.7" rx="2.0" ry="4.3" transform="rotate(-11 1392.5 630.7)" style="fill:#fff;stroke:none"/>
<path class="s" d="M1403.1 588.3C1403.7 588.5 1405.6 588.9 1406.8 589.4C1408.1 590.0 1409.3 590.8 1410.6 591.7C1411.8 592.6 1413.0 593.8 1414.2 595.1C1415.4 596.4 1416.6 597.8 1417.6 599.4C1418.7 601.0 1419.8 602.8 1420.8 604.7C1421.7 606.5 1422.6 608.5 1423.4 610.6C1424.3 612.7 1425.0 614.8 1425.6 617.1C1426.3 619.3 1426.8 621.5 1427.3 623.8C1427.7 626.1 1428.1 628.4 1428.3 630.7C1428.5 633.0 1428.7 635.3 1428.7 637.5C1428.7 639.7 1428.6 641.9 1428.4 644.0C1428.2 646.1 1427.9 648.2 1427.5 650.0C1427.1 651.9 1426.5 653.7 1425.9 655.4C1425.3 657.0 1424.6 658.5 1423.8 659.9C1423.0 661.2 1422.1 662.4 1421.2 663.4C1420.3 664.4 1418.7 665.4 1418.2 665.8" style="stroke:#fff;stroke-width:2"/>
<path class="st" d="M1419.0 586.8C1419.6 586.9 1421.4 587.0 1422.7 587.4C1424.0 587.8 1425.3 588.5 1426.5 589.3C1427.8 590.2 1429.1 591.2 1430.3 592.4C1431.5 593.7 1432.7 595.1 1433.8 596.7C1435.0 598.3 1436.1 600.1 1437.1 602.0C1438.1 603.8 1439.1 605.9 1439.9 608.0C1440.8 610.1 1441.5 612.4 1442.2 614.7C1442.9 616.9 1443.5 619.3 1443.9 621.7C1444.4 624.0 1444.7 626.4 1445.0 628.8C1445.2 631.2 1445.3 633.6 1445.3 635.8C1445.3 638.1 1445.2 640.4 1445.0 642.5C1444.7 644.6 1444.4 646.7 1443.9 648.6C1443.5 650.5 1442.9 652.3 1442.2 653.9C1441.5 655.5 1440.8 656.9 1439.9 658.2C1439.0 659.4 1438.1 660.5 1437.1 661.4C1436.1 662.2 1434.4 663.0 1433.8 663.3" />
<ellipse class="sw" cx="1472.6" cy="618.9" rx="21.1" ry="44.0" transform="rotate(-11 1472.6 618.9)" style="stroke-width:5.5"/>
<ellipse class="sw" cx="1534.2" cy="606.2" rx="29.3" ry="46.5" transform="rotate(-11 1534.2 606.2)" style="stroke-width:4.5"/>
<path class="sw" d="M1516.6 574.9C1514.7 575.9 1507.7 577.2 1504.9 580.8C1502.1 584.4 1500.7 590.6 1500.0 596.5C1499.4 602.3 1499.9 609.8 1501.0 616.0C1502.1 622.2 1504.1 628.7 1506.9 633.6C1509.6 638.5 1513.7 643.7 1517.6 645.3C1521.5 647.0 1528.2 643.7 1530.3 643.4" style="stroke-width:4"/>
<path class="sw" d="M1532.5 640.1C1531.9 640.2 1530.2 640.6 1528.8 640.4C1527.5 640.2 1526.0 639.5 1524.6 638.6C1523.1 637.7 1521.5 636.4 1520.0 634.9C1518.5 633.4 1517.0 631.5 1515.5 629.5C1514.1 627.5 1512.7 625.2 1511.4 622.8C1510.1 620.4 1508.9 617.8 1507.8 615.2C1506.8 612.6 1505.9 609.9 1505.2 607.3C1504.5 604.7 1503.9 602.0 1503.5 599.6C1503.2 597.1 1503.0 594.7 1503.1 592.6C1503.1 590.4 1503.4 588.4 1503.8 586.7C1504.2 585.1 1504.9 583.6 1505.7 582.5C1506.5 581.4 1508.1 580.6 1508.6 580.2L1528.1 572.4C1528.7 572.3 1530.5 571.8 1531.8 572.1C1533.1 572.3 1534.6 572.9 1536.1 573.8C1537.5 574.7 1539.1 576.0 1540.6 577.5C1542.1 579.1 1543.7 580.9 1545.1 582.9C1546.6 585.0 1548.0 587.3 1549.3 589.7C1550.6 592.0 1551.8 594.7 1552.8 597.2C1553.9 599.8 1554.8 602.6 1555.5 605.2C1556.2 607.8 1556.8 610.4 1557.1 612.9C1557.5 615.4 1557.6 617.8 1557.6 619.9C1557.5 622.1 1557.3 624.1 1556.8 625.7C1556.4 627.4 1555.8 628.9 1555.0 629.9C1554.2 631.0 1552.6 631.9 1552.1 632.3Z" />
<ellipse class="sw" cx="1520.5" cy="610.1" rx="13.7" ry="32.3" transform="rotate(158.2 1520.5 610.1)"/>
<ellipse class="s" cx="1517.6" cy="613.1" rx="10.8" ry="23.5" transform="rotate(-11 1517.6 613.1)" style="stroke-width:7"/>
<ellipse class="st" cx="1517.6" cy="614.1" rx="4.9" ry="14.7" transform="rotate(-11 1517.6 614.1)" />
<path class="s" d="M1534.2 637.5C1535.5 639.6 1538.8 648.3 1542.1 650.2C1545.3 652.2 1551.2 651.4 1553.8 649.3C1556.4 647.1 1557.1 639.5 1557.7 637.5" style="stroke-width:4"/>
<path class="s" d="M1517.6 574.9L1532.3 561.3" />
<path class="sw" d="M1600.5 633.3C1599.6 633.2 1596.7 633.5 1594.7 633.0C1592.7 632.4 1590.7 631.4 1588.7 629.9C1586.8 628.5 1584.9 626.6 1583.1 624.3C1581.3 622.1 1579.6 619.5 1578.1 616.6C1576.6 613.8 1575.2 610.6 1574.1 607.3C1573.0 604.0 1572.0 600.5 1571.4 597.0C1570.7 593.5 1570.3 589.9 1570.1 586.4C1570.0 583.0 1570.1 579.5 1570.5 576.3C1570.8 573.1 1571.5 570.0 1572.3 567.3C1573.1 564.6 1574.3 562.1 1575.5 560.0C1576.8 558.0 1578.4 556.2 1580.0 555.0C1581.6 553.8 1584.4 553.0 1585.3 552.6L1602.9 549.3C1603.9 549.3 1606.8 549.0 1608.7 549.6C1610.7 550.1 1612.7 551.2 1614.7 552.6C1616.6 554.1 1618.6 556.0 1620.3 558.2C1622.1 560.4 1623.8 563.1 1625.3 565.9C1626.8 568.8 1628.2 572.0 1629.3 575.2C1630.4 578.5 1631.4 582.1 1632.0 585.5C1632.7 589.0 1633.1 592.7 1633.3 596.1C1633.4 599.6 1633.3 603.1 1633.0 606.3C1632.6 609.5 1632.0 612.6 1631.1 615.3C1630.3 618.0 1629.2 620.5 1627.9 622.5C1626.6 624.6 1625.1 626.3 1623.4 627.5C1621.8 628.8 1619.0 629.6 1618.1 630.0Z" />
<ellipse class="sw" cx="1592.9" cy="592.9" rx="21.9" ry="41.1" transform="rotate(169.3 1592.9 592.9)"/>
<ellipse class="s" cx="1592.9" cy="592.9" rx="21.9" ry="41.1" transform="rotate(-11 1592.9 592.9)" style="stroke-width:5"/>
<ellipse class="s" cx="1593.9" cy="592.9" rx="15.3" ry="30.3" transform="rotate(-11 1593.9 592.9)" style="stroke-width:4.5"/>
<ellipse class="s" cx="1594.9" cy="593.3" rx="8.2" ry="20.5" transform="rotate(-11 1594.9 593.3)" style="stroke-width:4"/>
<path class="s" d="M1597.7 550.1C1598.4 550.2 1600.5 550.2 1601.9 550.6C1603.3 551.1 1604.7 551.7 1606.1 552.6C1607.5 553.4 1609.0 554.5 1610.3 555.8C1611.6 557.1 1613.0 558.6 1614.2 560.3C1615.5 561.9 1616.7 563.8 1617.8 565.7C1618.9 567.7 1619.9 569.9 1620.9 572.1C1621.8 574.3 1622.6 576.7 1623.4 579.0C1624.1 581.4 1624.7 583.9 1625.2 586.4C1625.6 588.9 1626.0 591.4 1626.2 593.9C1626.5 596.4 1626.6 598.9 1626.5 601.3C1626.5 603.7 1626.4 606.1 1626.1 608.3C1625.8 610.6 1625.3 612.7 1624.8 614.7C1624.3 616.7 1623.6 618.6 1622.8 620.3C1622.1 622.0 1621.2 623.6 1620.2 624.9C1619.2 626.2 1618.1 627.4 1617.0 628.3C1615.9 629.2 1614.0 630.0 1613.3 630.4" />
<ellipse class="sw" cx="1647.7" cy="582.8" rx="12.1" ry="18.6" transform="rotate(-11 1647.7 582.8)" style="stroke-width:7"/>
<path class="sw" d="M1683.0 599.3C1682.5 599.2 1680.9 599.4 1679.8 599.1C1678.7 598.8 1677.5 598.1 1676.4 597.3C1675.3 596.5 1674.2 595.3 1673.2 594.0C1672.1 592.7 1671.1 591.1 1670.2 589.5C1669.3 587.8 1668.5 585.9 1667.8 583.9C1667.1 582.0 1666.6 579.9 1666.1 577.8C1665.7 575.8 1665.4 573.6 1665.2 571.6C1665.1 569.5 1665.0 567.4 1665.2 565.5C1665.3 563.7 1665.6 561.8 1666.0 560.2C1666.4 558.6 1667.0 557.1 1667.7 555.9C1668.3 554.7 1669.2 553.6 1670.0 552.9C1670.9 552.1 1672.4 551.7 1672.9 551.4L1707.1 544.2C1707.7 544.2 1709.3 544.0 1710.4 544.3C1711.5 544.7 1712.7 545.3 1713.8 546.1C1714.9 547.0 1716.0 548.1 1717.0 549.4C1718.1 550.7 1719.1 552.3 1720.0 554.0C1720.8 555.6 1721.7 557.5 1722.4 559.5C1723.0 561.4 1723.6 563.5 1724.1 565.6C1724.5 567.7 1724.8 569.8 1725.0 571.9C1725.1 573.9 1725.1 576.0 1725.0 577.9C1724.9 579.8 1724.6 581.6 1724.2 583.2C1723.8 584.8 1723.2 586.3 1722.5 587.6C1721.8 588.8 1721.0 589.8 1720.2 590.6C1719.3 591.3 1717.7 591.8 1717.3 592.0Z" />
<ellipse class="sw" cx="1678.0" cy="575.3" rx="12.1" ry="24.4" transform="rotate(168.1 1678.0 575.3)"/>
<ellipse class="s" cx="1678.0" cy="575.3" rx="7.8" ry="15.6" transform="rotate(-11 1678.0 575.3)" style="stroke-width:4.5"/>
<path class="sw" d="M1765.8 559.7L1764.0 567.1L1766.9 576.0L1763.1 579.3L1763.7 588.6L1758.9 587.1L1757.0 594.3L1752.5 588.3L1748.7 591.5L1745.7 582.7L1741.0 581.0L1740.3 571.7L1735.9 565.5L1737.7 558.2L1734.8 549.3L1738.6 546.0L1738.0 536.7L1742.8 538.2L1744.7 531.0L1749.1 536.9L1753.0 533.7L1756.0 542.6L1760.7 544.3L1761.4 553.6Z" style="stroke-width:4"/>
<ellipse class="s" cx="1751.2" cy="562.6" rx="8.8" ry="21.5" transform="rotate(-11 1751.2 562.6)" style="stroke-width:4.5"/>
<ellipse class="st" cx="1749.9" cy="563.6" rx="4.9" ry="14.7" transform="rotate(-11 1749.9 563.6)" />
<path class="sw" d="M1798.9 580.3C1798.3 580.3 1796.5 580.6 1795.3 580.3C1794.1 580.0 1792.8 579.5 1791.5 578.6C1790.3 577.8 1789.0 576.6 1787.8 575.3C1786.6 574.0 1785.4 572.3 1784.3 570.6C1783.2 568.8 1782.2 566.8 1781.3 564.8C1780.5 562.7 1779.7 560.5 1779.1 558.3C1778.5 556.1 1778.0 553.8 1777.7 551.6C1777.4 549.4 1777.3 547.2 1777.3 545.1C1777.4 543.1 1777.6 541.0 1777.9 539.3C1778.3 537.5 1778.8 535.9 1779.5 534.5C1780.1 533.1 1781.0 532.0 1781.9 531.1C1782.8 530.3 1784.5 529.6 1785.0 529.3L1795.7 526.4C1796.3 526.4 1798.1 526.1 1799.3 526.4C1800.5 526.6 1801.8 527.2 1803.1 528.1C1804.3 528.9 1805.6 530.1 1806.8 531.4C1808.0 532.7 1809.2 534.4 1810.3 536.1C1811.4 537.9 1812.4 539.9 1813.3 541.9C1814.1 544.0 1814.9 546.2 1815.5 548.4C1816.1 550.6 1816.6 552.9 1816.9 555.1C1817.2 557.3 1817.3 559.5 1817.3 561.6C1817.2 563.6 1817.0 565.6 1816.7 567.4C1816.3 569.2 1815.8 570.8 1815.1 572.2C1814.4 573.5 1813.6 574.7 1812.7 575.6C1811.8 576.4 1810.1 577.1 1809.6 577.4Z" />
<ellipse class="sw" cx="1791.9" cy="554.8" rx="13.3" ry="26.4" transform="rotate(164.7 1791.9 554.8)"/>
<ellipse class="s" cx="1791.9" cy="554.8" rx="13.3" ry="26.4" transform="rotate(-11 1791.9 554.8)" style="stroke-width:4.5"/>
<ellipse class="s" cx="1791.9" cy="555.4" rx="7.4" ry="16.6" transform="rotate(-11 1791.9 555.4)" />
<path class="st" d="M1795.1 527.5C1795.5 527.6 1796.7 527.8 1797.5 528.2C1798.3 528.6 1799.1 529.1 1799.9 529.7C1800.7 530.4 1801.5 531.1 1802.3 532.0C1803.1 532.8 1803.8 533.8 1804.5 534.8C1805.3 535.9 1805.9 537.1 1806.6 538.3C1807.2 539.5 1807.8 540.8 1808.3 542.2C1808.9 543.6 1809.3 545.0 1809.8 546.4C1810.2 547.9 1810.5 549.4 1810.8 550.9C1811.1 552.4 1811.4 553.9 1811.5 555.4C1811.7 556.9 1811.8 558.5 1811.8 559.9C1811.8 561.4 1811.7 562.8 1811.6 564.2C1811.5 565.6 1811.3 566.9 1811.0 568.2C1810.8 569.4 1810.4 570.6 1810.0 571.7C1809.6 572.7 1809.2 573.7 1808.7 574.6C1808.2 575.5 1807.6 576.3 1807.0 576.9C1806.4 577.6 1805.3 578.3 1805.0 578.5" />
<path class="s" d="M1793.9 548.9L1811.5 545.0" style="stroke-width:7"/>
<path class="sb" d="M1819.3 546.0C1820.6 544.5 1827.1 541.8 1833.0 540.1C1838.9 538.5 1850.1 536.4 1854.5 536.2C1858.9 536.1 1860.4 537.5 1859.4 539.2C1858.4 540.8 1852.7 544.1 1848.6 546.0C1844.6 548.0 1838.9 550.4 1834.9 550.9C1831.0 551.4 1827.8 549.8 1825.2 548.9C1822.6 548.1 1818.0 547.5 1819.3 546.0Z" />
<path class="sw" d="M1887.9 558.6C1887.2 558.6 1884.9 559.0 1883.4 558.8C1881.9 558.6 1880.3 558.1 1878.8 557.3C1877.3 556.6 1875.7 555.5 1874.3 554.2C1873.0 553.0 1871.6 551.4 1870.4 549.8C1869.3 548.1 1868.2 546.2 1867.3 544.2C1866.4 542.3 1865.7 540.1 1865.2 538.0C1864.6 535.9 1864.3 533.6 1864.2 531.5C1864.0 529.3 1864.1 527.1 1864.4 525.1C1864.6 523.1 1865.1 521.1 1865.8 519.3C1866.4 517.6 1867.3 515.9 1868.3 514.6C1869.3 513.2 1870.4 512.0 1871.7 511.1C1873.0 510.2 1875.1 509.5 1875.8 509.2L1906.1 501.8C1906.9 501.7 1909.1 501.3 1910.7 501.5C1912.2 501.8 1913.8 502.3 1915.3 503.0C1916.8 503.8 1918.3 504.8 1919.7 506.1C1921.1 507.4 1922.5 508.9 1923.6 510.6C1924.8 512.2 1925.9 514.1 1926.8 516.1C1927.6 518.1 1928.4 520.2 1928.9 522.4C1929.4 524.5 1929.8 526.7 1929.9 528.9C1930.0 531.0 1930.0 533.2 1929.7 535.3C1929.4 537.3 1928.9 539.3 1928.3 541.0C1927.6 542.8 1926.8 544.4 1925.8 545.8C1924.8 547.2 1923.6 548.4 1922.4 549.2C1921.1 550.1 1918.9 550.8 1918.2 551.1Z" />
<ellipse class="sw" cx="1881.9" cy="533.9" rx="17.2" ry="25.4" transform="rotate(166.2 1881.9 533.9)"/>
<ellipse class="s" cx="1881.9" cy="533.9" rx="17.2" ry="25.4" transform="rotate(-11 1881.9 533.9)" style="stroke-width:4.5"/>
<ellipse class="s" cx="1882.9" cy="534.3" rx="10.8" ry="17.6" transform="rotate(-11 1882.9 534.3)" style="stroke-width:4"/>
<path class="s" d="M1872.1 536.2L1895.6 531.3" />
<path class="st" d="M1883.8 518.6L1884.8 549.9" />
<ellipse class="sw" cx="1950.3" cy="517.7" rx="11.3" ry="21.9" transform="rotate(-11 1950.3 517.7)" style="stroke-width:5"/>
<ellipse class="sb" cx="1947.4" cy="515.7" rx="6.3" ry="13.7" transform="rotate(-11 1947.4 515.7)" />
<path class="s" d="M1955.5 504.0C1955.8 504.3 1956.7 505.1 1957.3 505.8C1957.8 506.5 1958.4 507.3 1958.9 508.2C1959.5 509.0 1960.0 510.0 1960.4 511.0C1960.9 512.0 1961.3 513.1 1961.7 514.2C1962.0 515.4 1962.4 516.5 1962.6 517.7C1962.9 518.9 1963.1 520.1 1963.3 521.3C1963.4 522.5 1963.5 523.7 1963.6 524.9C1963.6 526.0 1963.6 527.2 1963.5 528.3C1963.4 529.3 1963.3 530.4 1963.1 531.4C1962.9 532.3 1962.6 533.2 1962.3 534.0C1962.0 534.8 1961.6 535.6 1961.2 536.2C1960.8 536.8 1960.4 537.4 1959.9 537.8C1959.4 538.2 1958.9 538.5 1958.3 538.7C1957.8 538.9 1957.2 538.9 1956.6 538.9C1956.0 538.8 1955.4 538.7 1954.8 538.4C1954.2 538.1 1953.3 537.4 1953.0 537.2" />
<path class="sb" d="M1984.6 509.8L1991.4 502.0L1995.3 511.8L1990.4 520.6Z" />
<path class="sb" d="M2002.2 506.9C2003.6 505.2 2008.2 503.5 2012.9 502.0C2017.6 500.5 2027.1 497.6 2030.5 498.1C2033.9 498.6 2033.4 502.8 2033.4 504.9C2033.4 507.1 2033.9 509.5 2030.5 510.8C2027.1 512.1 2017.3 512.5 2012.9 512.8C2008.5 513.0 2005.9 513.4 2004.1 512.4C2002.3 511.4 2000.7 508.6 2002.2 506.9Z" />
<path class="sw" d="M2107.5 464.9C2108.2 464.8 2110.3 464.4 2111.8 464.6C2113.3 464.8 2114.9 465.3 2116.4 466.0C2117.9 466.8 2119.5 467.8 2120.9 469.1C2122.3 470.4 2123.7 472.0 2124.9 473.7C2126.1 475.4 2127.3 477.3 2128.2 479.3C2129.2 481.4 2130.0 483.6 2130.6 485.8C2131.2 488.0 2131.7 490.3 2131.9 492.5C2132.2 494.7 2132.2 497.0 2132.0 499.1C2131.9 501.2 2131.5 503.2 2131.0 505.1C2130.4 506.9 2129.7 508.6 2128.8 510.0C2127.9 511.5 2126.8 512.7 2125.7 513.7C2124.5 514.6 2122.4 515.4 2121.8 515.7L2090.5 524.5C2089.7 524.5 2087.6 525.0 2086.1 524.8C2084.6 524.6 2083.0 524.1 2081.5 523.3C2080.0 522.6 2078.5 521.5 2077.1 520.2C2075.6 519.0 2074.3 517.4 2073.0 515.7C2071.8 514.0 2070.7 512.0 2069.7 510.0C2068.8 508.0 2067.9 505.8 2067.3 503.6C2066.7 501.4 2066.2 499.1 2066.0 496.8C2065.8 494.6 2065.7 492.4 2065.9 490.3C2066.0 488.2 2066.4 486.1 2066.9 484.3C2067.5 482.5 2068.2 480.7 2069.1 479.3C2070.0 477.9 2071.1 476.6 2072.3 475.7C2073.4 474.7 2075.5 474.0 2076.2 473.7Z" />
<path class="s" d="M2071.6 452.1C2072.9 452.8 2077.4 454.1 2079.4 456.1C2081.4 458.0 2082.7 462.6 2083.3 463.9" style="stroke-width:6"/>
<ellipse class="sw" cx="2075.5" cy="501.4" rx="17.2" ry="36.2" transform="rotate(-11 2075.5 501.4)" style="stroke-width:8"/>
<path class="s" d="M2063.8 526.5C2064.1 528.7 2063.8 537.0 2065.7 540.1C2067.7 543.2 2072.9 544.7 2075.5 545.0C2078.1 545.4 2080.4 542.6 2081.4 542.1" style="stroke-width:8"/>
<path class="s" d="M2072.6 448.2C2072.1 449.5 2069.0 453.8 2069.6 456.1C2070.3 458.3 2075.3 460.9 2076.5 461.9" style="stroke-width:7"/>
<path class="st" d="M2083.3 499.1L2085.3 532.3" />
<path class="s" d="M2099.0 452.1L2138.1 445.3" style="stroke-width:9"/>
<ellipse class="sb" cx="2135.1" cy="445.9" rx="5.5" ry="6.6" transform="rotate(-11 2135.1 445.9)" />
<ellipse class="sb" cx="2100.9" cy="452.1" rx="4.3" ry="5.9" transform="rotate(-11 2100.9 452.1)" />
<path class="s" d="M2093.1 534.3L2132.2 524.5" style="stroke-width:9"/>
<ellipse class="sb" cx="2129.3" cy="525.1" rx="5.5" ry="6.6" transform="rotate(-11 2129.3 525.1)" />
<ellipse class="sb" cx="2095.0" cy="534.3" rx="4.3" ry="5.9" transform="rotate(-11 2095.0 534.3)" />
<path class="s" d="M1280.0 657.1L1383.7 633.6" style="stroke-width:3.5"/>
<path class="d" d="M1286.8 586.7L1373.5 628.1L1298.6 644.4" />
<path class="dt" d="M1383.7 633.6L1729.8 565.2" stroke-dasharray="40 8"/>
<path class="dt" d="M1725.4 565.6L2137.1 481.5" stroke-dasharray="46 9"/></g>
<g><text class="lb" x="1374.3" y="486.9" font-size="27" text-anchor="middle" >9</text></g>
<g filter="url(#rough)"><path class="ld" d="M1364.1 499.6L1375.8 499.6" style="stroke-width:3.4"/>
<path class="ld" d="M1364.1 500.2L1336.7 565.2" /></g>
<g><text class="lb" x="1432.9" y="486.5" font-size="27" text-anchor="middle" >10</text></g>
<g filter="url(#rough)"><path class="ld" d="M1427.7 499.3L1441.3 499.3" style="stroke-width:3.4"/>
<path class="ld" d="M1427.1 499.8L1413.0 584.7" /></g>
<g><text class="lb" x="1495.5" y="476.2" font-size="27" text-anchor="middle" >11</text></g>
<g filter="url(#rough)"><path class="ld" d="M1479.5 487.5L1493.2 487.5" style="stroke-width:3.4"/>
<path class="ld" d="M1479.1 488.1L1464.8 574.9" /></g>
<g><text class="lb" x="1554.8" y="467.8" font-size="27" text-anchor="middle" >12</text></g>
<g filter="url(#rough)"><path class="ld" d="M1547.9 477.5L1561.6 477.5" style="stroke-width:3.4"/>
<path class="ld" d="M1547.5 478.1L1531.3 560.3" /></g>
<g><text class="lb" x="1624.2" y="458.0" font-size="27" text-anchor="middle" >13</text></g>
<g filter="url(#rough)"><path class="ld" d="M1617.4 465.8L1631.0 465.8" style="stroke-width:3.4"/>
<path class="ld" d="M1616.8 466.4L1601.7 552.5" /></g>
<g><text class="lb" x="1676.0" y="452.1" font-size="27" text-anchor="middle" >14</text></g>
<g filter="url(#rough)"><path class="ld" d="M1663.3 460.5L1677.0 460.5" style="stroke-width:3.4"/>
<path class="ld" d="M1662.9 461.1L1645.7 564.2" /></g>
<g><text class="lb" x="1718.6" y="449.2" font-size="27" text-anchor="middle" >15</text></g>
<g filter="url(#rough)"><path class="ld" d="M1709.8 456.1L1722.5 456.1" style="stroke-width:3.4"/>
<path class="ld" d="M1709.4 456.6L1692.2 546.0" /></g>
<g><text class="lb" x="1766.5" y="442.4" font-size="27" text-anchor="middle" >16</text></g>
<g filter="url(#rough)"><path class="ld" d="M1760.6 448.2L1774.3 448.2" style="stroke-width:3.4"/>
<path class="ld" d="M1760.2 448.8L1742.0 532.3" /></g>
<g><text class="lb" x="1828.1" y="429.6" font-size="27" text-anchor="middle" >17</text></g>
<g filter="url(#rough)"><path class="ld" d="M1818.3 437.9L1832.0 437.9" style="stroke-width:3.4"/>
<path class="ld" d="M1817.9 438.4L1802.7 524.5" /></g>
<g><text class="lb" x="1878.9" y="414.6" font-size="27" text-anchor="middle" >18</text></g>
<g filter="url(#rough)"><path class="ld" d="M1867.2 423.2L1879.9 423.2" style="stroke-width:3.4"/>
<path class="ld" d="M1866.8 423.8L1839.8 536.2" /></g>
<g><text class="lb" x="1924.9" y="411.5" font-size="27" text-anchor="middle" >19</text></g>
<g filter="url(#rough)"><path class="ld" d="M1914.1 418.5L1927.8 418.5" style="stroke-width:3.4"/>
<path class="ld" d="M1913.8 419.1L1894.6 504.9" /></g>
<g><text class="lb" x="1977.7" y="403.6" font-size="27" text-anchor="middle" >20</text></g>
<g filter="url(#rough)"><path class="ld" d="M1965.0 415.4L1978.7 415.4" style="stroke-width:3.4"/>
<path class="ld" d="M1964.6 416.0L1952.3 497.1" /></g>
<g><text class="lb" x="2022.7" y="392.5" font-size="27" text-anchor="middle" >21</text></g>
<g filter="url(#rough)"><path class="ld" d="M2009.0 404.8L2020.7 404.8" style="stroke-width:3.4"/>
<path class="ld" d="M2008.6 405.4L1991.4 504.9" /></g>
<g><text class="lb" x="2059.8" y="391.9" font-size="27" text-anchor="middle" >22</text></g>
<g filter="url(#rough)"><path class="ld" d="M2046.2 401.7L2058.9 401.7" style="stroke-width:3.4"/>
<path class="ld" d="M2045.8 402.3L2030.5 497.1" /></g>
<g><text class="lb" x="2099.9" y="390.5" font-size="27" text-anchor="middle" >23</text></g>
<g filter="url(#rough)"><path class="ld" d="M2082.3 397.0L2096.0 397.0" style="stroke-width:3.4"/>
<path class="ld" d="M2081.9 397.6L2072.6 450.2" /></g></g>
<g id="40_mid"><g><path class="k" d="M1687.3 666.0C1692.7 666.6 1698.5 670.2 1702.9 675.4C1707.3 680.5 1711.3 689.1 1713.7 696.9C1716.1 704.7 1717.1 713.8 1717.6 722.3C1718.1 730.8 1717.8 740.9 1716.6 747.7C1715.5 754.6 1713.4 760.4 1710.8 763.4C1708.2 766.4 1703.6 763.8 1701.0 765.7C1698.4 767.7 1697.9 773.8 1695.1 775.1C1692.4 776.4 1687.0 776.1 1684.4 773.6C1681.8 771.0 1682.3 763.2 1679.5 759.9C1676.7 756.5 1670.8 757.6 1667.7 753.6C1664.6 749.6 1662.6 742.5 1660.9 736.0C1659.2 729.5 1657.6 722.3 1657.6 714.5C1657.6 706.7 1658.7 696.2 1660.9 689.1C1663.1 681.9 1666.3 675.3 1670.7 671.5C1675.1 667.6 1681.9 665.3 1687.3 666.0Z" style="stroke-width:5"/>
<ellipse class="k" cx="1686.3" cy="677.3" rx="4.7" ry="7.0" transform="rotate(-11 1686.3 677.3)" style="fill:#000"/>
<ellipse class="k" cx="1662.9" cy="711.6" rx="4.7" ry="7.0" transform="rotate(-11 1662.9 711.6)" style="fill:#000"/>
<ellipse class="k" cx="1712.1" cy="724.3" rx="4.7" ry="7.0" transform="rotate(-11 1712.1 724.3)" style="fill:#000"/>
<ellipse class="k" cx="1687.7" cy="763.4" rx="4.7" ry="7.0" transform="rotate(-11 1687.7 763.4)" style="fill:#000"/>
<path class="k" d="M1767.5 649.6C1772.9 649.9 1780.2 652.5 1785.1 657.8C1790.0 663.1 1793.9 672.5 1796.8 681.3C1799.8 690.1 1802.0 701.5 1802.7 710.6C1803.3 719.7 1802.4 728.5 1800.7 736.0C1799.1 743.5 1796.0 751.9 1792.9 755.6C1789.8 759.2 1784.4 755.9 1782.2 757.9C1779.9 759.9 1781.0 765.3 1779.2 767.7C1777.4 770.1 1774.0 772.3 1771.4 772.2C1768.8 772.1 1765.2 769.7 1763.6 767.3C1761.9 764.9 1763.2 759.5 1761.6 757.5C1760.0 755.6 1756.7 757.2 1753.8 755.6C1750.9 753.9 1746.6 752.3 1744.0 747.7C1741.4 743.2 1739.5 736.0 1738.2 728.2C1736.8 720.4 1735.7 709.9 1736.2 700.8C1736.7 691.7 1738.3 680.9 1741.1 673.4C1743.9 665.9 1748.4 659.8 1752.8 655.8C1757.2 651.9 1762.1 649.2 1767.5 649.6Z" style="stroke-width:7"/>
<ellipse class="k" cx="1769.4" cy="708.2" rx="19.6" ry="36.8" transform="rotate(-6 1769.4 708.2)" style="stroke-width:6"/>
<ellipse class="k" cx="1778.2" cy="708.6" rx="9.4" ry="23.5" transform="rotate(-6 1778.2 708.6)" style="stroke-width:5.5"/>
<path class="k" d="M1776.4 737.8C1775.9 737.8 1774.5 737.8 1773.5 737.5C1772.5 737.3 1771.6 736.8 1770.6 736.2C1769.7 735.5 1768.7 734.7 1767.8 733.7C1766.9 732.8 1766.0 731.6 1765.2 730.3C1764.4 729.1 1763.6 727.6 1762.9 726.1C1762.2 724.6 1761.6 722.9 1761.0 721.2C1760.5 719.5 1760.0 717.7 1759.6 715.8C1759.3 714.0 1759.0 712.1 1758.8 710.2C1758.6 708.3 1758.5 706.3 1758.4 704.4C1758.4 702.6 1758.5 700.7 1758.7 698.9C1758.9 697.1 1759.2 695.3 1759.5 693.7C1759.9 692.1 1760.3 690.5 1760.9 689.1C1761.4 687.7 1762.0 686.4 1762.7 685.2C1763.4 684.1 1764.1 683.1 1764.9 682.3C1765.7 681.4 1766.6 680.8 1767.5 680.3C1768.4 679.8 1769.8 679.6 1770.3 679.5" />
<ellipse class="k" cx="1765.5" cy="659.7" rx="4.3" ry="7.8" transform="rotate(-6 1765.5 659.7)" style="fill:#000"/>
<ellipse class="k" cx="1742.1" cy="705.7" rx="4.3" ry="7.8" transform="rotate(-6 1742.1 705.7)" style="fill:#000"/>
<ellipse class="k" cx="1794.3" cy="709.6" rx="4.3" ry="7.8" transform="rotate(-6 1794.3 709.6)" style="fill:#000"/>
<ellipse class="k" cx="1769.8" cy="755.6" rx="4.3" ry="7.8" transform="rotate(-6 1769.8 755.6)" style="fill:#000"/></g>
<g filter="url(#rough)"><path class="s" d="M1830.1 660.7L1880.9 650.9" style="stroke-width:8"/>
<ellipse class="sb" cx="1842.8" cy="658.3" rx="2.7" ry="5.9" transform="rotate(-11 1842.8 658.3)" />
<path class="s" d="M1813.4 689.1L1851.6 682.2" style="stroke-width:9"/>
<ellipse class="sb" cx="1823.0" cy="687.4" rx="2.7" ry="5.9" transform="rotate(-11 1823.0 687.4)" />
<path class="s" d="M1857.4 680.3L1902.4 673.0" style="stroke-width:9"/>
<ellipse class="sb" cx="1868.7" cy="678.5" rx="2.7" ry="5.9" transform="rotate(-11 1868.7 678.5)" />
<path class="s" d="M1839.8 716.5L1896.6 702.4" style="stroke-width:8"/>
<ellipse class="sb" cx="1854.0" cy="712.9" rx="2.7" ry="5.9" transform="rotate(-11 1854.0 712.9)" />
<path class="s" d="M1815.4 721.3L1832.0 717.4" />
<ellipse class="sw" cx="1607.1" cy="736.4" rx="15.6" ry="24.4" transform="rotate(-11 1607.1 736.4)" style="stroke-width:6"/>
<path class="s" d="M1613.0 712.8C1613.5 712.9 1614.7 713.1 1615.5 713.4C1616.3 713.7 1617.1 714.1 1617.9 714.6C1618.7 715.1 1619.5 715.7 1620.3 716.4C1621.0 717.1 1621.8 718.0 1622.5 718.8C1623.2 719.7 1623.8 720.7 1624.4 721.7C1625.0 722.8 1625.6 723.9 1626.1 725.0C1626.6 726.2 1627.1 727.4 1627.4 728.6C1627.8 729.9 1628.1 731.1 1628.4 732.4C1628.6 733.7 1628.8 735.0 1628.9 736.3C1629.0 737.6 1629.1 738.9 1629.0 740.1C1629.0 741.4 1628.9 742.6 1628.7 743.8C1628.6 745.0 1628.3 746.1 1628.0 747.2C1627.7 748.3 1627.3 749.3 1626.9 750.3C1626.4 751.2 1625.9 752.1 1625.4 752.8C1624.8 753.6 1624.2 754.3 1623.6 754.9C1622.9 755.5 1621.8 756.1 1621.5 756.3" style="stroke-width:4"/>
<ellipse class="s" cx="1605.2" cy="737.0" rx="7.4" ry="14.7" transform="rotate(-11 1605.2 737.0)" style="stroke-width:5"/>
<path class="s" d="M1605.2 722.3L1616.9 732.1L1620.8 747.7" />
<path class="sw" d="M1581.8 736.9L1579.5 744.8L1582.7 754.8L1578.1 757.8L1578.3 768.0L1572.8 765.1L1570.0 772.3L1565.4 764.4L1560.5 766.3L1558.2 755.9L1552.7 751.9L1553.5 742.4L1549.2 733.8L1552.7 728.0L1551.0 717.6L1556.3 717.5L1557.6 708.4L1562.9 714.0L1566.9 709.3L1570.5 718.8L1575.9 719.9L1576.7 730.3Z" style="stroke-width:4"/>
<ellipse class="s" cx="1566.4" cy="739.9" rx="9.0" ry="21.9" transform="rotate(-11 1566.4 739.9)" style="stroke-width:4.5"/>
<ellipse class="st" cx="1566.1" cy="740.9" rx="4.3" ry="13.7" transform="rotate(-11 1566.1 740.9)" />
<path class="sw" d="M1486.3 782.3C1485.8 782.3 1484.2 782.5 1483.1 782.2C1482.0 781.9 1480.8 781.3 1479.8 780.5C1478.7 779.7 1477.6 778.6 1476.6 777.4C1475.6 776.1 1474.6 774.6 1473.8 773.1C1472.9 771.5 1472.1 769.7 1471.5 767.8C1470.8 766.0 1470.3 764.0 1469.9 762.1C1469.5 760.1 1469.2 758.1 1469.1 756.1C1469.0 754.2 1469.1 752.2 1469.2 750.4C1469.4 748.6 1469.7 746.9 1470.2 745.4C1470.6 743.8 1471.2 742.4 1471.9 741.3C1472.6 740.1 1473.4 739.1 1474.3 738.4C1475.2 737.7 1476.8 737.3 1477.3 737.1L1498.8 732.8C1499.3 732.8 1500.9 732.6 1502.0 732.9C1503.1 733.2 1504.2 733.8 1505.3 734.6C1506.4 735.4 1507.5 736.5 1508.5 737.7C1509.5 738.9 1510.5 740.4 1511.3 742.0C1512.2 743.6 1513.0 745.4 1513.6 747.2C1514.3 749.1 1514.8 751.1 1515.2 753.0C1515.6 755.0 1515.8 757.0 1516.0 758.9C1516.1 760.9 1516.0 762.8 1515.9 764.6C1515.7 766.4 1515.4 768.2 1514.9 769.7C1514.5 771.2 1513.9 772.6 1513.2 773.8C1512.5 774.9 1511.6 775.9 1510.7 776.6C1509.9 777.3 1508.3 777.8 1507.8 778.0Z" />
<ellipse class="sw" cx="1481.8" cy="759.7" rx="12.1" ry="23.1" transform="rotate(168.7 1481.8 759.7)"/>
<ellipse class="s" cx="1481.8" cy="759.7" rx="12.1" ry="23.1" transform="rotate(-11 1481.8 759.7)" style="stroke-width:6"/>
<path class="s" d="M1471.0 761.3L1494.5 757.3" />
<path class="s" d="M1479.8 741.7L1485.7 776.9" />
<path class="st" d="M1476.9 745.6L1490.6 773.0" />
<ellipse class="sb" cx="1525.8" cy="754.4" rx="17.6" ry="21.1" transform="rotate(-11 1525.8 754.4)" />
<path class="st" d="M1517.0 750.5L1532.6 747.6" style="stroke:#fff;stroke-width:3"/>
<path class="st" d="M1520.9 758.3L1535.6 755.4" style="stroke:#fff;stroke-width:3"/>
<path class="st" d="M1521.9 765.2L1536.5 762.2" style="stroke:#fff;stroke-width:3"/>
<path class="st" d="M1522.9 741.7L1524.8 769.1" style="stroke:#fff;stroke-width:2.5"/>
<ellipse class="sb" cx="1314.9" cy="713.5" rx="6.5" ry="7.8" transform="rotate(0 1314.9 713.5)" />
<ellipse class="sb" cx="1328.4" cy="711.4" rx="6.0" ry="7.1" transform="rotate(0 1328.4 711.4)" />
<path class="s" d="M1342.0 708.8L1373.3 701.0" style="stroke-width:10.5"/>
<ellipse class="sb" cx="1381.4" cy="700.3" rx="8.6" ry="13.8" transform="rotate(-8 1381.4 700.3)" />
<path class="st" d="M1384.7 694.2L1385.3 706.8" style="stroke:#fff;stroke-width:2"/>
<path class="s" d="M1291.9 718.2L1308.1 715.9" /></g>
<g><text class="lb" x="1328.4" y="674.9" font-size="27" text-anchor="middle" >31</text></g>
<g filter="url(#rough)"><path class="ld" d="M1327.9 681.2L1342.0 681.2" style="stroke-width:3.4"/>
<path class="ld" d="M1327.9 681.2L1315.9 703.6" /></g>
<g><text class="lb" x="1423.3" y="725.0" font-size="27" text-anchor="middle" >29</text></g>
<g filter="url(#rough)"><path class="ld" d="M1405.6 731.8L1418.1 731.8" style="stroke-width:3.4"/>
<path class="ld" d="M1405.6 731.8L1383.2 713.5" /></g>
<g><text class="lb" x="1403.5" y="753.2" font-size="27" text-anchor="middle" >30</text></g>
<g filter="url(#rough)"><path class="ld" d="M1374.3 745.9L1387.9 745.9" style="stroke-width:3.4"/>
<path class="ld" d="M1374.3 745.9L1334.7 715.1" /></g>
<g><path class="k" d="M1289.3 727.0L1633.4 841.4" /></g>
<g filter="url(#rough)"><ellipse class="sb" cx="1607.9" cy="834.6" rx="14.7" ry="16.6" transform="rotate(0 1607.9 834.6)" />
<ellipse class="st" cx="1602.1" cy="827.7" rx="1.8" ry="1.8" transform="rotate(0 1602.1 827.7)" style="fill:#fff;stroke:none"/>
<ellipse class="st" cx="1612.8" cy="828.7" rx="1.8" ry="1.8" transform="rotate(0 1612.8 828.7)" style="fill:#fff;stroke:none"/>
<ellipse class="st" cx="1604.0" cy="841.4" rx="1.8" ry="1.8" transform="rotate(0 1604.0 841.4)" style="fill:#fff;stroke:none"/>
<ellipse class="st" cx="1613.8" cy="840.5" rx="1.8" ry="1.8" transform="rotate(0 1613.8 840.5)" style="fill:#fff;stroke:none"/>
<path class="sb" d="M1633.4 839.5C1635.0 836.4 1640.5 834.3 1645.1 834.6C1649.6 834.9 1658.1 838.0 1660.7 841.4C1663.3 844.9 1662.7 852.0 1660.7 855.1C1658.8 858.2 1653.2 860.3 1649.0 860.0C1644.8 859.7 1637.9 856.6 1635.3 853.2C1632.7 849.7 1631.7 842.6 1633.4 839.5Z" />
<path class="sw" d="M1704.9 845.1C1705.3 845.4 1706.7 846.1 1707.5 846.8C1708.2 847.6 1708.9 848.6 1709.4 849.6C1709.9 850.7 1710.3 852.0 1710.6 853.4C1710.8 854.7 1710.9 856.2 1710.9 857.7C1710.8 859.3 1710.6 860.9 1710.3 862.5C1709.9 864.1 1709.4 865.7 1708.8 867.2C1708.2 868.8 1707.5 870.3 1706.6 871.7C1705.8 873.1 1704.8 874.4 1703.8 875.6C1702.8 876.7 1701.8 877.8 1700.7 878.6C1699.6 879.4 1698.4 880.1 1697.3 880.5C1696.2 881.0 1695.0 881.2 1693.9 881.3C1692.9 881.3 1691.4 880.9 1690.9 880.8L1663.5 870.0C1663.1 869.7 1661.7 869.1 1660.9 868.3C1660.2 867.6 1659.5 866.6 1659.0 865.5C1658.5 864.4 1658.1 863.1 1657.8 861.8C1657.6 860.4 1657.5 858.9 1657.5 857.4C1657.6 855.9 1657.8 854.2 1658.1 852.7C1658.5 851.1 1659.0 849.4 1659.6 847.9C1660.2 846.4 1660.9 844.8 1661.8 843.4C1662.6 842.0 1663.6 840.7 1664.6 839.6C1665.6 838.4 1666.6 837.4 1667.7 836.5C1668.8 835.7 1670.0 835.0 1671.1 834.6C1672.2 834.1 1673.4 833.9 1674.5 833.9C1675.5 833.8 1677.0 834.3 1677.5 834.4Z" />
<ellipse class="sw" cx="1697.9" cy="862.9" rx="11.7" ry="19.2" transform="rotate(21.4 1697.9 862.9)"/>
<ellipse class="s" cx="1697.9" cy="862.9" rx="11.7" ry="19.2" transform="rotate(20 1697.9 862.9)" style="stroke-width:5"/>
<path class="s" d="M1684.2 861.0L1707.7 866.9" />
<path class="st" d="M1698.9 847.3L1699.8 874.7" />
<path class="s" d="M1670.5 854.1L1684.2 859.0" />
<path class="s" d="M1711.6 870.4L1723.3 873.1" /></g>
<g><text class="lb" x="1692.0" y="798.8" font-size="27" text-anchor="middle" >34</text></g>
<g filter="url(#rough)"><path class="ld" d="M1687.1 805.8L1699.8 805.8" style="stroke-width:3.4"/>
<path class="ld" d="M1686.5 806.6L1680.3 835.6" />
<path class="s" d="M1541.4 749.5L1552.2 747.2" />
<path class="s" d="M1582.5 740.7L1592.3 738.8" /></g>
<g><text class="lb" x="1884.8" y="604.0" font-size="27" text-anchor="middle" >24</text></g>
<g filter="url(#rough)"><path class="ld" d="M1879.0 611.8L1891.7 611.8" style="stroke-width:3.4"/>
<path class="ld" d="M1878.6 612.4L1873.1 648.0" /></g>
<g><text class="lb" x="1788.6" y="629.8" font-size="27" text-anchor="middle" >25</text></g>
<g filter="url(#rough)"><path class="ld" d="M1785.1 637.8L1797.8 637.8" style="stroke-width:3.4"/>
<path class="ld" d="M1784.7 638.4L1779.2 669.5" /></g>
<g><text class="lb" x="1707.8" y="645.5" font-size="27" text-anchor="middle" >26</text></g>
<g filter="url(#rough)"><path class="ld" d="M1702.9 651.9L1715.7 651.9" style="stroke-width:3.4"/>
<path class="ld" d="M1702.6 652.5L1698.1 685.2" /></g>
<g><text class="lb" x="1621.2" y="668.0" font-size="27" text-anchor="middle" >27</text></g>
<g filter="url(#rough)"><path class="ld" d="M1614.9 675.8L1627.7 675.8" style="stroke-width:3.4"/>
<path class="ld" d="M1614.6 676.4L1609.1 710.6" /></g>
<g><text class="lb" x="1538.7" y="680.9" font-size="27" text-anchor="middle" >28</text></g>
<g filter="url(#rough)"><path class="ld" d="M1527.9 693.0L1547.5 693.0" style="stroke-width:3.4"/>
<path class="ld" d="M1527.9 693.4L1494.7 736.0" />
<path class="ld" d="M1527.9 693.4L1526.9 730.1" /></g></g>
<g id="50_left"><g filter="url(#rough)"><path class="sw" d="M102.0 894.4L214.5 857.2L226.2 901.3L101.1 925.7Z" style="stroke-width:5"/>
<path class="s" d="M123.3 898.3L199.8 871.8" style="stroke-width:5.5"/>
<path class="s" d="M123.1 906.1L202.8 882.8" style="stroke-width:5.5"/>
<path class="s" d="M122.8 914.0L205.7 893.8" style="stroke-width:5.5"/>
<ellipse class="sb" cx="97.2" cy="910.6" rx="9.4" ry="15.3" transform="rotate(-14 97.2 910.6)" />
<path class="s" d="M106.9 897.3L106.0 924.7" />
<path class="sw" d="M458.8 808.7C459.1 808.7 460.2 808.5 460.9 808.7C461.6 809.0 462.4 809.4 463.1 810.0C463.9 810.5 464.6 811.3 465.3 812.2C466.1 813.1 466.8 814.2 467.4 815.4C468.0 816.6 468.6 817.9 469.1 819.2C469.7 820.6 470.1 822.1 470.5 823.5C470.8 825.0 471.1 826.5 471.3 827.9C471.4 829.3 471.5 830.8 471.5 832.1C471.5 833.4 471.4 834.7 471.1 835.9C470.9 837.0 470.6 838.1 470.2 838.9C469.8 839.8 469.3 840.5 468.8 841.0C468.3 841.6 467.3 841.9 467.0 842.1L384.8 862.2C384.5 862.2 383.4 862.4 382.7 862.1C382.0 861.9 381.2 861.5 380.5 860.9C379.7 860.3 379.0 859.6 378.3 858.7C377.5 857.7 376.8 856.7 376.2 855.5C375.6 854.3 375.0 853.0 374.5 851.6C373.9 850.3 373.5 848.8 373.1 847.4C372.8 845.9 372.5 844.4 372.3 843.0C372.2 841.6 372.1 840.1 372.1 838.8C372.1 837.4 372.2 836.1 372.5 835.0C372.7 833.9 373.0 832.8 373.4 832.0C373.8 831.1 374.3 830.4 374.8 829.9C375.3 829.3 376.3 829.0 376.6 828.8Z" />
<ellipse class="sw" cx="462.9" cy="825.4" rx="7.8" ry="17.2" transform="rotate(-13.8 462.9 825.4)"/>
<path class="sb" d="M417.9 819.1L425.7 853.3L441.4 849.4L434.5 815.2Z" />
<path class="s" d="M392.5 826.9L399.3 859.2" />
<path class="sb" d="M353.1 901.2C352.0 901.2 348.9 901.7 346.7 901.2C344.5 900.7 342.2 899.7 340.0 898.2C337.8 896.7 335.5 894.7 333.4 892.3C331.3 890.0 329.2 887.1 327.3 884.1C325.5 881.0 323.7 877.5 322.3 873.9C320.8 870.3 319.5 866.4 318.5 862.6C317.5 858.8 316.8 854.7 316.3 850.9C315.9 847.0 315.7 843.1 315.9 839.6C316.0 836.0 316.5 832.5 317.2 829.4C317.9 826.3 318.9 823.5 320.2 821.1C321.4 818.7 322.9 816.7 324.6 815.2C326.3 813.7 329.2 812.7 330.2 812.2L350.7 806.9C351.8 806.9 354.9 806.4 357.1 806.9C359.3 807.3 361.6 808.4 363.8 809.9C366.0 811.3 368.3 813.4 370.4 815.7C372.5 818.1 374.6 820.9 376.4 824.0C378.3 827.1 380.0 830.5 381.5 834.1C383.0 837.7 384.3 841.6 385.3 845.4C386.2 849.3 387.0 853.3 387.4 857.2C387.9 861.0 388.0 864.9 387.9 868.5C387.7 872.1 387.3 875.6 386.6 878.7C385.9 881.7 384.9 884.6 383.6 887.0C382.4 889.3 380.9 891.3 379.2 892.8C377.5 894.3 374.5 895.4 373.6 895.9Z" />
<path class="st" d="M330.0 813.8C330.4 813.5 331.5 812.5 332.4 812.1C333.2 811.6 334.0 811.2 334.9 811.0C335.7 810.7 336.6 810.5 337.6 810.4C338.5 810.3 339.4 810.4 340.4 810.5C341.3 810.6 342.3 810.8 343.2 811.1C344.2 811.4 345.2 811.8 346.2 812.3C347.2 812.8 348.1 813.4 349.1 814.1C350.1 814.8 351.1 815.6 352.0 816.5C353.0 817.3 353.9 818.3 354.9 819.3C355.8 820.3 356.7 821.4 357.6 822.6C358.5 823.8 359.4 825.0 360.2 826.3C361.0 827.6 361.8 829.0 362.6 830.4C363.4 831.9 364.1 833.4 364.8 834.9C365.5 836.4 366.2 838.0 366.8 839.6C367.4 841.2 368.0 842.8 368.5 844.5C369.0 846.2 369.5 847.9 369.9 849.6C370.3 851.3 370.7 853.0 371.0 854.7C371.3 856.4 371.6 858.1 371.8 859.8C372.0 861.6 372.2 863.3 372.3 864.9C372.4 866.6 372.4 868.3 372.4 869.9C372.4 871.5 372.4 873.1 372.2 874.7C372.1 876.2 371.9 877.7 371.7 879.2C371.5 880.6 371.2 882.0 370.8 883.4C370.5 884.7 370.1 886.0 369.7 887.2C369.2 888.4 368.7 889.6 368.2 890.6C367.7 891.7 367.1 892.7 366.4 893.6C365.8 894.5 365.1 895.3 364.4 896.0C363.7 896.8 363.0 897.4 362.2 898.0C361.4 898.5 360.6 899.0 359.7 899.3C358.9 899.7 358.0 899.9 357.1 900.1C356.2 900.3 355.3 900.3 354.4 900.3C353.4 900.3 352.0 900.0 351.5 899.9" style="stroke:#fff;stroke-width:3.2;stroke-dasharray:7 8;stroke-dashoffset:5;stroke-linecap:butt"/>
<path class="st" d="M335.2 812.4C335.5 812.2 336.7 811.2 337.5 810.8C338.3 810.3 339.1 809.9 340.0 809.6C340.9 809.4 341.8 809.2 342.7 809.1C343.6 809.0 344.5 809.0 345.5 809.2C346.4 809.3 347.4 809.5 348.4 809.8C349.4 810.1 350.3 810.5 351.3 811.0C352.3 811.5 353.3 812.1 354.3 812.8C355.2 813.5 356.2 814.3 357.2 815.1C358.1 816.0 359.1 816.9 360.0 818.0C360.9 819.0 361.8 820.1 362.7 821.3C363.6 822.4 364.5 823.7 365.3 825.0C366.2 826.3 367.0 827.7 367.7 829.1C368.5 830.5 369.2 832.0 369.9 833.6C370.6 835.1 371.3 836.7 371.9 838.3C372.5 839.9 373.1 841.5 373.6 843.2C374.1 844.9 374.6 846.6 375.0 848.3C375.5 849.9 375.8 851.7 376.2 853.4C376.5 855.1 376.7 856.8 377.0 858.5C377.2 860.2 377.3 861.9 377.4 863.6C377.5 865.3 377.6 866.9 377.6 868.6C377.6 870.2 377.5 871.8 377.4 873.3C377.2 874.9 377.1 876.4 376.8 877.9C376.6 879.3 376.3 880.7 376.0 882.1C375.6 883.4 375.2 884.7 374.8 885.9C374.4 887.1 373.9 888.2 373.3 889.3C372.8 890.4 372.2 891.4 371.6 892.3C370.9 893.2 370.3 894.0 369.6 894.7C368.8 895.4 368.1 896.1 367.3 896.6C366.5 897.2 365.7 897.6 364.9 898.0C364.0 898.4 363.1 898.6 362.2 898.8C361.3 898.9 360.4 899.0 359.5 899.0C358.6 898.9 357.1 898.7 356.6 898.6" style="stroke:#fff;stroke-width:3.2;stroke-dasharray:7 8;stroke-dashoffset:10;stroke-linecap:butt"/>
<path class="st" d="M340.3 811.1C340.7 810.8 341.8 809.9 342.6 809.4C343.4 809.0 344.3 808.6 345.1 808.3C346.0 808.0 346.9 807.9 347.8 807.8C348.7 807.7 349.7 807.7 350.6 807.8C351.6 808.0 352.5 808.2 353.5 808.5C354.5 808.8 355.5 809.2 356.4 809.7C357.4 810.2 358.4 810.8 359.4 811.5C360.4 812.2 361.3 813.0 362.3 813.8C363.2 814.7 364.2 815.6 365.1 816.6C366.1 817.7 367.0 818.8 367.9 820.0C368.7 821.1 369.6 822.4 370.5 823.7C371.3 825.0 372.1 826.4 372.9 827.8C373.6 829.2 374.4 830.7 375.1 832.2C375.8 833.8 376.4 835.4 377.0 837.0C377.7 838.6 378.2 840.2 378.7 841.9C379.3 843.5 379.7 845.2 380.2 846.9C380.6 848.6 381.0 850.4 381.3 852.1C381.6 853.8 381.9 855.5 382.1 857.2C382.3 858.9 382.5 860.6 382.6 862.3C382.7 864.0 382.7 865.6 382.7 867.2C382.7 868.9 382.6 870.5 382.5 872.0C382.4 873.6 382.2 875.1 382.0 876.5C381.7 878.0 381.4 879.4 381.1 880.7C380.8 882.1 380.4 883.4 379.9 884.6C379.5 885.8 379.0 886.9 378.5 888.0C377.9 889.0 377.3 890.0 376.7 890.9C376.1 891.8 375.4 892.7 374.7 893.4C374.0 894.1 373.2 894.8 372.4 895.3C371.7 895.9 370.8 896.3 370.0 896.7C369.1 897.0 368.3 897.3 367.4 897.5C366.5 897.6 365.6 897.7 364.6 897.7C363.7 897.6 362.2 897.3 361.8 897.3" style="stroke:#fff;stroke-width:3.2;stroke-dasharray:7 8;stroke-dashoffset:15;stroke-linecap:butt"/>
<ellipse class="sw" cx="341.6" cy="856.7" rx="23.9" ry="46.0" transform="rotate(-14 341.6 856.7)" style="stroke-width:5"/>
<path class="s" d="M365.9 850.6C366.2 852.1 367.3 856.7 367.7 859.7C368.1 862.7 368.4 865.7 368.4 868.6C368.5 871.6 368.4 874.4 368.2 877.1C367.9 879.8 367.5 882.5 366.9 884.9C366.3 887.2 365.5 889.5 364.6 891.5C363.7 893.5 362.7 895.3 361.5 896.8C360.3 898.3 359.0 899.6 357.6 900.5C356.2 901.5 354.6 902.2 353.1 902.6C351.5 903.0 349.8 903.1 348.1 902.9C346.4 902.7 344.6 902.2 342.9 901.4C341.2 900.6 339.4 899.5 337.6 898.2C335.9 896.9 334.2 895.2 332.5 893.4C330.9 891.6 329.3 889.5 327.8 887.2C326.3 884.9 324.9 882.4 323.6 879.8C322.3 877.2 321.1 874.4 320.0 871.6C319.0 868.7 318.1 865.7 317.3 862.7C316.6 859.7 316.0 856.6 315.6 853.6C315.1 850.6 314.9 847.6 314.8 844.7C314.7 841.8 314.8 838.9 315.1 836.2C315.3 833.5 315.8 830.9 316.3 828.5C316.9 826.1 317.7 823.8 318.6 821.8C319.5 819.9 320.6 818.1 321.7 816.6C322.9 815.0 324.2 813.8 325.7 812.8C327.1 811.8 328.6 811.1 330.2 810.7C331.7 810.3 333.4 810.2 335.1 810.4C336.8 810.6 338.6 811.1 340.3 811.9C342.1 812.7 343.9 813.8 345.6 815.1C347.3 816.4 349.1 818.1 350.7 819.9C352.3 821.7 354.0 823.9 355.5 826.1C356.9 828.4 358.4 830.9 359.7 833.5C361.0 836.1 362.2 838.9 363.2 841.8C364.2 844.6 365.5 849.1 365.9 850.6" style="stroke-width:8;stroke-dasharray:6 6;stroke-linecap:butt"/>
<path class="sw" d="M313.5 890.6C312.9 890.6 311.1 890.8 309.9 890.5C308.6 890.1 307.2 889.4 305.9 888.4C304.6 887.5 303.3 886.1 302.1 884.6C300.8 883.1 299.6 881.2 298.5 879.2C297.4 877.3 296.3 875.0 295.4 872.7C294.5 870.4 293.7 867.9 293.1 865.5C292.5 863.0 292.0 860.4 291.7 858.0C291.4 855.5 291.3 853.1 291.4 850.8C291.4 848.5 291.6 846.3 292.0 844.4C292.4 842.4 292.9 840.6 293.6 839.2C294.3 837.7 295.2 836.4 296.1 835.5C297.1 834.6 298.8 834.0 299.3 833.7L330.6 825.9C331.2 825.9 333.0 825.6 334.3 826.0C335.5 826.3 336.9 827.0 338.2 828.0C339.5 829.0 340.8 830.3 342.1 831.8C343.3 833.4 344.5 835.2 345.7 837.2C346.8 839.2 347.8 841.4 348.7 843.7C349.6 846.0 350.4 848.5 351.0 851.0C351.6 853.5 352.1 856.0 352.4 858.5C352.7 860.9 352.8 863.4 352.8 865.7C352.7 867.9 352.5 870.2 352.1 872.1C351.8 874.0 351.2 875.8 350.5 877.3C349.8 878.8 349.0 880.0 348.0 880.9C347.1 881.9 345.4 882.5 344.8 882.8Z" />
<ellipse class="sw" cx="306.4" cy="862.1" rx="13.7" ry="29.3" transform="rotate(166.0 306.4 862.1)"/>
<path class="sb" d="M301.9 922.0C300.7 921.9 297.1 922.5 294.6 921.8C292.1 921.2 289.5 919.9 286.9 918.0C284.4 916.2 281.7 913.7 279.3 910.7C276.8 907.8 274.4 904.3 272.2 900.5C270.0 896.7 268.0 892.4 266.2 888.0C264.5 883.6 262.9 878.8 261.7 874.1C260.5 869.4 259.5 864.5 259.0 859.8C258.4 855.1 258.1 850.3 258.2 846.0C258.3 841.6 258.7 837.3 259.4 833.6C260.2 829.9 261.3 826.4 262.6 823.5C264.0 820.7 265.7 818.2 267.5 816.5C269.4 814.7 272.8 813.5 273.8 812.9L294.3 807.6C295.6 807.6 299.1 807.1 301.6 807.7C304.1 808.4 306.7 809.7 309.3 811.5C311.9 813.4 314.5 815.9 316.9 818.8C319.4 821.7 321.8 825.3 324.0 829.0C326.2 832.8 328.2 837.1 330.0 841.5C331.7 845.9 333.3 850.7 334.5 855.4C335.7 860.1 336.7 865.1 337.2 869.8C337.8 874.5 338.1 879.2 338.0 883.6C337.9 888.0 337.5 892.2 336.8 896.0C336.0 899.7 334.9 903.2 333.6 906.0C332.2 908.9 330.6 911.3 328.7 913.1C326.8 914.9 323.4 916.1 322.4 916.7Z" />
<path class="st" d="M273.0 815.0C273.5 814.7 274.7 813.5 275.7 813.0C276.6 812.4 277.5 812.0 278.5 811.7C279.5 811.4 280.5 811.2 281.5 811.1C282.6 811.0 283.6 811.1 284.7 811.2C285.8 811.4 286.9 811.7 288.0 812.1C289.1 812.5 290.2 813.0 291.4 813.6C292.5 814.3 293.6 815.0 294.7 815.9C295.9 816.7 297.0 817.7 298.1 818.8C299.2 819.8 300.3 821.0 301.4 822.3C302.5 823.6 303.5 824.9 304.6 826.4C305.6 827.8 306.6 829.4 307.6 831.0C308.6 832.6 309.5 834.3 310.4 836.1C311.3 837.8 312.2 839.7 313.0 841.5C313.9 843.4 314.6 845.4 315.4 847.3C316.1 849.3 316.8 851.3 317.4 853.4C318.1 855.4 318.6 857.5 319.2 859.6C319.7 861.7 320.1 863.8 320.5 865.9C320.9 868.0 321.3 870.1 321.6 872.2C321.8 874.2 322.1 876.3 322.2 878.4C322.4 880.4 322.5 882.4 322.5 884.4C322.5 886.4 322.5 888.3 322.4 890.2C322.3 892.1 322.1 894.0 321.9 895.7C321.6 897.5 321.3 899.2 321.0 900.8C320.6 902.5 320.2 904.0 319.7 905.5C319.2 906.9 318.7 908.3 318.1 909.6C317.5 910.9 316.9 912.1 316.2 913.2C315.5 914.3 314.7 915.3 314.0 916.1C313.2 917.0 312.3 917.8 311.4 918.4C310.6 919.1 309.6 919.6 308.7 920.0C307.7 920.5 306.7 920.8 305.7 920.9C304.7 921.1 303.7 921.2 302.6 921.1C301.5 921.1 299.9 920.7 299.4 920.6" style="stroke:#fff;stroke-width:3.2;stroke-dasharray:7 8;stroke-dashoffset:5;stroke-linecap:butt"/>
<path class="st" d="M278.2 813.7C278.6 813.3 279.9 812.2 280.8 811.7C281.7 811.1 282.6 810.7 283.6 810.4C284.6 810.1 285.6 809.9 286.7 809.8C287.7 809.7 288.8 809.7 289.8 809.9C290.9 810.1 292.0 810.4 293.1 810.8C294.3 811.2 295.4 811.7 296.5 812.3C297.6 812.9 298.8 813.7 299.9 814.5C301.0 815.4 302.1 816.4 303.2 817.4C304.3 818.5 305.4 819.7 306.5 821.0C307.6 822.2 308.7 823.6 309.7 825.1C310.7 826.5 311.8 828.1 312.7 829.7C313.7 831.3 314.7 833.0 315.6 834.8C316.5 836.5 317.3 838.3 318.2 840.2C319.0 842.1 319.8 844.0 320.5 846.0C321.2 848.0 321.9 850.0 322.6 852.0C323.2 854.1 323.8 856.2 324.3 858.2C324.8 860.3 325.3 862.4 325.7 864.5C326.1 866.6 326.4 868.7 326.7 870.8C327.0 872.9 327.2 875.0 327.4 877.0C327.5 879.1 327.6 881.1 327.6 883.1C327.6 885.1 327.6 887.0 327.5 888.9C327.4 890.8 327.2 892.6 327.0 894.4C326.8 896.2 326.5 897.9 326.1 899.5C325.8 901.1 325.3 902.7 324.9 904.2C324.4 905.6 323.8 907.0 323.3 908.3C322.7 909.6 322.0 910.8 321.3 911.9C320.6 912.9 319.9 913.9 319.1 914.8C318.3 915.7 317.5 916.5 316.6 917.1C315.7 917.8 314.8 918.3 313.8 918.7C312.9 919.1 311.9 919.4 310.9 919.6C309.9 919.8 308.8 919.9 307.7 919.8C306.7 919.7 305.0 919.3 304.5 919.3" style="stroke:#fff;stroke-width:3.2;stroke-dasharray:7 8;stroke-dashoffset:10;stroke-linecap:butt"/>
<path class="st" d="M283.3 812.4C283.7 812.0 285.0 810.9 285.9 810.4C286.8 809.8 287.8 809.4 288.8 809.1C289.7 808.7 290.8 808.5 291.8 808.5C292.8 808.4 293.9 808.4 295.0 808.6C296.1 808.7 297.2 809.0 298.3 809.4C299.4 809.8 300.5 810.4 301.6 811.0C302.8 811.6 303.9 812.4 305.0 813.2C306.1 814.1 307.3 815.1 308.4 816.1C309.5 817.2 310.6 818.4 311.7 819.6C312.7 820.9 313.8 822.3 314.8 823.7C315.9 825.2 316.9 826.7 317.9 828.4C318.8 830.0 319.8 831.7 320.7 833.4C321.6 835.2 322.5 837.0 323.3 838.9C324.1 840.8 324.9 842.7 325.6 844.7C326.4 846.7 327.1 848.7 327.7 850.7C328.3 852.8 328.9 854.8 329.4 856.9C329.9 859.0 330.4 861.1 330.8 863.2C331.2 865.3 331.6 867.4 331.8 869.5C332.1 871.6 332.3 873.7 332.5 875.7C332.6 877.8 332.7 879.8 332.8 881.8C332.8 883.8 332.7 885.7 332.6 887.6C332.5 889.5 332.4 891.3 332.1 893.1C331.9 894.8 331.6 896.6 331.2 898.2C330.9 899.8 330.5 901.4 330.0 902.8C329.5 904.3 329.0 905.7 328.4 907.0C327.8 908.3 327.2 909.5 326.5 910.5C325.8 911.6 325.0 912.6 324.2 913.5C323.4 914.4 322.6 915.1 321.7 915.8C320.8 916.4 319.9 917.0 319.0 917.4C318.0 917.8 317.0 918.1 316.0 918.3C315.0 918.5 313.9 918.5 312.9 918.5C311.8 918.4 310.2 918.0 309.6 917.9" style="stroke:#fff;stroke-width:3.2;stroke-dasharray:7 8;stroke-dashoffset:15;stroke-linecap:butt"/>
<ellipse class="sw" cx="287.8" cy="867.4" rx="27.0" ry="56.3" transform="rotate(-14 287.8 867.4)" style="stroke-width:5"/>
<path class="s" d="M315.4 860.6C315.7 862.4 317.0 868.0 317.6 871.6C318.1 875.3 318.5 879.0 318.6 882.6C318.8 886.1 318.7 889.6 318.5 892.9C318.3 896.2 317.8 899.4 317.2 902.3C316.6 905.2 315.7 907.9 314.8 910.3C313.8 912.7 312.6 914.9 311.3 916.7C310.0 918.5 308.5 920.0 306.9 921.2C305.4 922.3 303.6 923.1 301.8 923.6C300.1 924.0 298.1 924.1 296.2 923.8C294.3 923.6 292.2 922.9 290.2 921.9C288.2 921.0 286.2 919.6 284.2 917.9C282.2 916.3 280.2 914.3 278.3 912.0C276.4 909.7 274.5 907.1 272.7 904.3C271.0 901.5 269.3 898.5 267.8 895.3C266.2 892.0 264.8 888.6 263.6 885.1C262.3 881.6 261.2 877.9 260.3 874.3C259.4 870.6 258.7 866.9 258.1 863.2C257.6 859.5 257.2 855.8 257.1 852.3C256.9 848.7 256.9 845.2 257.2 841.9C257.4 838.6 257.9 835.5 258.5 832.6C259.1 829.7 259.9 826.9 260.9 824.5C261.9 822.1 263.1 820.0 264.4 818.2C265.7 816.3 267.2 814.8 268.7 813.7C270.3 812.5 272.0 811.7 273.8 811.3C275.6 810.8 277.5 810.7 279.5 811.0C281.4 811.3 283.4 811.9 285.4 812.9C287.4 813.9 289.5 815.2 291.5 816.9C293.5 818.6 295.5 820.6 297.4 822.9C299.3 825.1 301.2 827.7 302.9 830.5C304.7 833.3 306.4 836.4 307.9 839.6C309.4 842.8 310.8 846.2 312.1 849.7C313.3 853.2 314.8 858.8 315.4 860.6" style="stroke-width:9;stroke-dasharray:7 6;stroke-linecap:butt"/>
<ellipse class="sb" cx="304.5" cy="863.1" rx="14.7" ry="29.3" transform="rotate(-14 304.5 863.1)" />
<ellipse class="sw" cx="320.1" cy="859.2" rx="11.7" ry="27.4" transform="rotate(-14 320.1 859.2)" />
<ellipse class="sw" cx="252.6" cy="873.9" rx="33.6" ry="58.7" transform="rotate(-14 252.6 873.9)" style="stroke-width:6"/>
<path class="s" d="M244.5 819.8C245.7 819.6 249.5 818.3 252.2 818.3C254.8 818.3 257.7 818.9 260.4 820.0C263.2 821.0 266.0 822.6 268.7 824.7C271.4 826.7 274.1 829.3 276.6 832.2C279.1 835.1 281.5 838.5 283.7 842.1C285.8 845.7 287.8 849.7 289.5 853.8C291.2 857.9 292.7 862.4 293.8 866.8C295.0 871.2 295.8 875.8 296.4 880.2C296.9 884.6 297.1 889.2 297.0 893.4C296.9 897.7 296.4 901.8 295.7 905.7C294.9 909.5 293.8 913.1 292.5 916.3C291.1 919.4 289.4 922.3 287.6 924.7C285.7 927.0 283.5 929.0 281.2 930.4C279.0 931.8 276.4 932.7 273.8 933.1C271.2 933.5 268.5 933.4 265.7 932.7C263.0 932.1 258.8 929.8 257.4 929.2" style="stroke-width:5"/>
<ellipse class="s" cx="253.6" cy="873.9" rx="23.1" ry="41.5" transform="rotate(-14 253.6 873.9)" style="stroke-width:5"/>
<ellipse class="s" cx="252.6" cy="873.5" rx="14.7" ry="27.4" transform="rotate(-14 252.6 873.5)" style="stroke-width:7"/>
<path class="sw" d="M214.5 857.2L247.7 848.4L261.4 897.3L226.2 901.3Z" style="stroke-width:5"/>
<path class="s" d="M218.8 867.6L251.1 858.4" style="stroke-width:6"/>
<path class="s" d="M221.1 876.4L253.6 868.0" style="stroke-width:6"/>
<path class="s" d="M223.5 885.2L256.0 877.6" style="stroke-width:6"/>
<path class="s" d="M225.8 894.0L258.4 887.2" style="stroke-width:6"/>
<path class="s" d="M210.6 858.2L222.3 854.3L234.1 858.2" style="stroke-width:10"/>
<path class="sb" d="M399.8 1053.6C398.0 1053.6 392.5 1054.6 388.7 1054.0C384.9 1053.4 381.0 1052.0 377.2 1050.0C373.4 1047.9 369.6 1045.0 366.0 1041.6C362.5 1038.2 359.0 1034.1 356.0 1029.6C353.0 1025.1 350.1 1019.9 347.8 1014.6C345.5 1009.3 343.5 1003.6 342.0 997.8C340.5 992.1 339.5 986.1 338.9 980.3C338.4 974.6 338.4 968.7 338.9 963.3C339.3 957.9 340.3 952.6 341.8 947.9C343.2 943.2 345.2 938.8 347.5 935.2C349.8 931.5 352.6 928.4 355.6 926.0C358.6 923.7 363.9 921.9 365.5 921.0L382.2 916.7C384.0 916.7 389.5 915.7 393.3 916.3C397.1 916.9 401.0 918.3 404.8 920.3C408.6 922.4 412.4 925.3 416.0 928.7C419.5 932.1 423.0 936.2 426.0 940.7C429.0 945.2 431.9 950.4 434.2 955.7C436.5 961.0 438.5 966.7 440.0 972.5C441.5 978.2 442.5 984.2 443.1 990.0C443.6 995.7 443.6 1001.6 443.1 1007.0C442.7 1012.4 441.7 1017.7 440.2 1022.4C438.8 1027.1 436.8 1031.5 434.5 1035.1C432.2 1038.8 429.4 1041.9 426.4 1044.3C423.4 1046.6 418.1 1048.4 416.5 1049.3Z" />
<path class="st" d="M358.2 925.7C358.8 925.2 360.8 923.6 362.3 922.8C363.7 922.0 365.1 921.4 366.7 920.8C368.2 920.3 369.7 919.9 371.3 919.7C372.9 919.5 374.6 919.4 376.2 919.4C377.9 919.5 379.6 919.7 381.2 920.0C382.9 920.4 384.6 920.9 386.3 921.5C388.0 922.1 389.7 922.9 391.4 923.8C393.1 924.7 394.8 925.8 396.5 927.0C398.1 928.1 399.8 929.5 401.4 930.9C403.0 932.3 404.6 933.9 406.1 935.5C407.7 937.2 409.2 939.0 410.6 940.8C412.0 942.7 413.4 944.7 414.7 946.7C416.1 948.8 417.3 950.9 418.5 953.1C419.7 955.4 420.9 957.7 421.9 960.0C423.0 962.3 424.0 964.8 424.8 967.2C425.7 969.6 426.5 972.1 427.3 974.6C428.0 977.1 428.6 979.7 429.2 982.2C429.7 984.8 430.1 987.3 430.5 989.9C430.8 992.4 431.1 995.0 431.3 997.5C431.4 1000.0 431.5 1002.5 431.4 1004.9C431.4 1007.4 431.3 1009.8 431.0 1012.1C430.8 1014.5 430.5 1016.8 430.1 1019.0C429.6 1021.2 429.1 1023.4 428.5 1025.4C427.9 1027.5 427.2 1029.5 426.4 1031.4C425.6 1033.2 424.8 1035.0 423.8 1036.7C422.9 1038.4 421.8 1039.9 420.7 1041.4C419.6 1042.8 418.4 1044.1 417.2 1045.3C415.9 1046.5 414.6 1047.6 413.2 1048.5C411.9 1049.4 410.4 1050.2 409.0 1050.9C407.5 1051.5 405.9 1052.0 404.4 1052.4C402.8 1052.7 401.2 1052.9 399.6 1053.0C397.9 1053.1 395.4 1052.8 394.6 1052.8" style="stroke:#fff;stroke-width:3.2;stroke-dasharray:8 8;stroke-dashoffset:5;stroke-linecap:butt"/>
<path class="st" d="M362.3 924.6C363.0 924.1 365.0 922.6 366.4 921.8C367.8 921.0 369.3 920.3 370.8 919.8C372.3 919.2 373.9 918.9 375.5 918.6C377.1 918.4 378.7 918.3 380.4 918.4C382.0 918.4 383.7 918.6 385.4 919.0C387.1 919.3 388.8 919.8 390.5 920.4C392.2 921.1 393.9 921.8 395.6 922.8C397.3 923.7 399.0 924.7 400.6 925.9C402.3 927.1 403.9 928.4 405.6 929.8C407.2 931.2 408.7 932.8 410.3 934.5C411.8 936.1 413.3 937.9 414.7 939.8C416.2 941.6 417.6 943.6 418.9 945.7C420.2 947.7 421.5 949.9 422.7 952.1C423.9 954.3 425.0 956.6 426.1 958.9C427.1 961.3 428.1 963.7 429.0 966.1C429.9 968.6 430.7 971.1 431.4 973.6C432.1 976.1 432.8 978.6 433.3 981.2C433.8 983.7 434.3 986.3 434.6 988.8C435.0 991.3 435.3 993.9 435.4 996.4C435.6 998.9 435.6 1001.4 435.6 1003.9C435.6 1006.3 435.4 1008.7 435.2 1011.1C435.0 1013.4 434.6 1015.7 434.2 1017.9C433.8 1020.2 433.3 1022.3 432.7 1024.4C432.1 1026.4 431.4 1028.4 430.6 1030.3C429.8 1032.2 428.9 1034.0 428.0 1035.6C427.0 1037.3 426.0 1038.9 424.9 1040.3C423.8 1041.7 422.6 1043.1 421.3 1044.2C420.1 1045.4 418.8 1046.5 417.4 1047.4C416.0 1048.3 414.6 1049.1 413.1 1049.8C411.6 1050.4 410.1 1050.9 408.5 1051.3C407.0 1051.7 405.4 1051.9 403.7 1051.9C402.1 1052.0 399.6 1051.7 398.8 1051.7" style="stroke:#fff;stroke-width:3.2;stroke-dasharray:8 8;stroke-dashoffset:10;stroke-linecap:butt"/>
<path class="st" d="M366.5 923.5C367.2 923.0 369.1 921.5 370.6 920.7C372.0 919.9 373.5 919.2 375.0 918.7C376.5 918.2 378.1 917.8 379.7 917.6C381.2 917.3 382.9 917.2 384.5 917.3C386.2 917.3 387.9 917.5 389.6 917.9C391.2 918.2 393.0 918.7 394.7 919.4C396.4 920.0 398.1 920.8 399.8 921.7C401.4 922.6 403.1 923.6 404.8 924.8C406.5 926.0 408.1 927.3 409.7 928.7C411.3 930.2 412.9 931.7 414.4 933.4C416.0 935.0 417.5 936.8 418.9 938.7C420.3 940.5 421.7 942.5 423.1 944.6C424.4 946.6 425.7 948.8 426.9 951.0C428.1 953.2 429.2 955.5 430.2 957.8C431.3 960.2 432.3 962.6 433.2 965.0C434.0 967.5 434.9 970.0 435.6 972.5C436.3 975.0 436.9 977.5 437.5 980.1C438.0 982.6 438.5 985.2 438.8 987.7C439.2 990.3 439.4 992.8 439.6 995.3C439.7 997.8 439.8 1000.3 439.8 1002.8C439.7 1005.2 439.6 1007.6 439.3 1010.0C439.1 1012.3 438.8 1014.6 438.4 1016.9C437.9 1019.1 437.4 1021.2 436.8 1023.3C436.2 1025.4 435.5 1027.3 434.7 1029.2C433.9 1031.1 433.1 1032.9 432.1 1034.6C431.2 1036.2 430.1 1037.8 429.0 1039.2C427.9 1040.7 426.7 1042.0 425.5 1043.2C424.2 1044.4 422.9 1045.4 421.5 1046.3C420.2 1047.3 418.7 1048.1 417.3 1048.7C415.8 1049.4 414.3 1049.9 412.7 1050.2C411.1 1050.6 409.5 1050.8 407.9 1050.9C406.3 1050.9 403.7 1050.7 402.9 1050.6" style="stroke:#fff;stroke-width:3.2;stroke-dasharray:8 8;stroke-dashoffset:15;stroke-linecap:butt"/>
<ellipse class="sw" cx="382.7" cy="987.3" rx="42.0" ry="68.4" transform="rotate(-16 382.7 987.3)" style="stroke-width:5"/>
<path class="s" d="M424.4 975.3C424.9 977.6 426.7 984.3 427.4 988.7C428.1 993.1 428.5 997.7 428.6 1002.0C428.8 1006.3 428.6 1010.7 428.1 1014.7C427.6 1018.8 426.9 1022.8 425.8 1026.4C424.8 1030.1 423.5 1033.5 421.9 1036.6C420.4 1039.7 418.5 1042.5 416.5 1044.9C414.5 1047.3 412.2 1049.4 409.8 1051.0C407.3 1052.6 404.7 1053.8 402.0 1054.6C399.3 1055.4 396.4 1055.7 393.5 1055.6C390.6 1055.6 387.5 1055.0 384.5 1054.1C381.6 1053.1 378.5 1051.7 375.5 1049.9C372.6 1048.1 369.6 1045.9 366.8 1043.4C364.0 1040.8 361.3 1037.9 358.7 1034.6C356.2 1031.4 353.7 1027.9 351.5 1024.1C349.3 1020.4 347.3 1016.3 345.5 1012.2C343.8 1008.0 342.2 1003.6 341.0 999.3C339.7 994.9 338.7 990.4 338.0 985.9C337.3 981.5 336.9 976.9 336.7 972.6C336.6 968.3 336.8 963.9 337.3 959.9C337.7 955.8 338.5 951.8 339.5 948.2C340.6 944.5 341.9 941.1 343.5 938.0C345.0 934.9 346.9 932.1 348.9 929.7C350.9 927.3 353.2 925.2 355.6 923.6C358.0 922.0 360.7 920.8 363.4 920.0C366.1 919.2 369.0 918.9 371.9 919.0C374.8 919.1 377.8 919.6 380.8 920.5C383.8 921.5 386.9 922.9 389.8 924.7C392.8 926.5 395.7 928.7 398.6 931.3C401.4 933.8 404.1 936.8 406.7 940.0C409.2 943.2 411.7 946.7 413.9 950.5C416.1 954.2 418.1 958.3 419.9 962.4C421.6 966.6 423.7 973.2 424.4 975.3" style="stroke-width:10;stroke-dasharray:7 6;stroke-linecap:butt"/>
<ellipse class="s" cx="382.7" cy="987.3" rx="33.2" ry="55.2" transform="rotate(-16 382.7 987.3)" style="stroke-width:9"/>
<ellipse class="s" cx="383.7" cy="987.3" rx="23.1" ry="38.1" transform="rotate(-16 383.7 987.3)" style="stroke-width:7"/>
<ellipse class="s" cx="383.7" cy="987.7" rx="15.3" ry="25.0" transform="rotate(-16 383.7 987.7)" style="stroke-width:6"/>
<path class="s" d="M367.0 981.4L392.5 975.6" style="stroke-width:5"/>
<path class="s" d="M372.9 995.1L390.5 990.2" style="stroke-width:5"/>
<path class="sw" d="M329.1 978.4C329.4 978.4 330.2 978.3 330.7 978.6C331.2 978.8 331.8 979.1 332.4 979.7C332.9 980.2 333.5 980.8 334.0 981.6C334.5 982.4 335.0 983.3 335.5 984.3C335.9 985.3 336.3 986.4 336.7 987.5C337.1 988.6 337.4 989.9 337.6 991.1C337.8 992.2 338.0 993.5 338.1 994.7C338.2 995.8 338.2 997.0 338.2 998.1C338.1 999.2 338.0 1000.2 337.8 1001.2C337.7 1002.1 337.4 1002.9 337.1 1003.6C336.8 1004.3 336.4 1004.8 336.0 1005.2C335.5 1005.6 334.8 1005.9 334.6 1006.0L260.3 1020.7C260.0 1020.6 259.2 1020.7 258.7 1020.5C258.1 1020.3 257.6 1019.9 257.0 1019.4C256.5 1018.9 255.9 1018.2 255.4 1017.4C254.9 1016.7 254.4 1015.7 253.9 1014.8C253.5 1013.8 253.0 1012.7 252.7 1011.5C252.3 1010.4 252.0 1009.2 251.8 1008.0C251.5 1006.8 251.4 1005.6 251.3 1004.4C251.2 1003.2 251.1 1002.0 251.2 1000.9C251.2 999.9 251.3 998.8 251.5 997.9C251.7 997.0 252.0 996.1 252.3 995.5C252.6 994.8 253.0 994.2 253.4 993.8C253.8 993.4 254.6 993.2 254.8 993.0Z" />
<ellipse class="sw" cx="331.8" cy="992.2" rx="5.9" ry="14.1" transform="rotate(-11.2 331.8 992.2)"/>
<path class="s" d="M291.4 986.1C291.6 986.1 292.1 986.1 292.5 986.1C292.9 986.2 293.3 986.4 293.7 986.6C294.1 986.9 294.5 987.2 294.9 987.6C295.3 988.1 295.7 988.5 296.1 989.1C296.5 989.6 296.9 990.3 297.3 990.9C297.6 991.6 298.0 992.4 298.3 993.1C298.7 993.9 299.0 994.7 299.2 995.5C299.5 996.4 299.8 997.2 300.0 998.1C300.2 999.0 300.4 999.9 300.5 1000.7C300.7 1001.6 300.8 1002.5 300.9 1003.3C300.9 1004.1 301.0 1004.9 300.9 1005.7C300.9 1006.5 300.9 1007.2 300.8 1007.9C300.7 1008.6 300.6 1009.2 300.4 1009.7C300.2 1010.3 300.0 1010.8 299.8 1011.2C299.5 1011.6 299.3 1011.9 299.0 1012.2C298.7 1012.5 298.2 1012.6 298.0 1012.7" style="stroke-width:5"/>
<path class="s" d="M299.6 984.5C299.8 984.5 300.3 984.4 300.7 984.5C301.1 984.6 301.5 984.8 301.9 985.0C302.3 985.3 302.7 985.6 303.1 986.0C303.5 986.4 303.9 986.9 304.3 987.5C304.7 988.0 305.1 988.6 305.5 989.3C305.8 990.0 306.2 990.7 306.5 991.5C306.9 992.2 307.2 993.1 307.5 993.9C307.7 994.7 308.0 995.6 308.2 996.5C308.4 997.3 308.6 998.2 308.8 999.1C308.9 999.9 309.0 1000.8 309.1 1001.6C309.1 1002.5 309.2 1003.3 309.2 1004.1C309.1 1004.8 309.1 1005.6 309.0 1006.2C308.9 1006.9 308.8 1007.5 308.6 1008.1C308.4 1008.6 308.2 1009.1 308.0 1009.6C307.8 1010.0 307.5 1010.3 307.2 1010.6C306.9 1010.8 306.4 1011.0 306.2 1011.1" style="stroke-width:5"/>
<path class="s" d="M307.8 982.9C308.0 982.9 308.5 982.8 308.9 982.9C309.3 982.9 309.7 983.1 310.1 983.4C310.5 983.6 310.9 984.0 311.3 984.4C311.7 984.8 312.1 985.3 312.5 985.8C312.9 986.4 313.3 987.0 313.7 987.7C314.1 988.3 314.4 989.1 314.8 989.8C315.1 990.6 315.4 991.4 315.7 992.3C316.0 993.1 316.2 994.0 316.4 994.8C316.6 995.7 316.8 996.6 317.0 997.4C317.1 998.3 317.2 999.2 317.3 1000.0C317.4 1000.8 317.4 1001.7 317.4 1002.4C317.4 1003.2 317.3 1003.9 317.2 1004.6C317.1 1005.3 317.0 1005.9 316.8 1006.5C316.6 1007.0 316.4 1007.5 316.2 1007.9C316.0 1008.3 315.7 1008.7 315.4 1008.9C315.1 1009.2 314.6 1009.3 314.4 1009.4" style="stroke-width:5"/>
<path class="s" d="M316.0 981.2C316.2 981.2 316.7 981.1 317.1 981.2C317.5 981.3 317.9 981.5 318.3 981.7C318.7 982.0 319.1 982.3 319.5 982.7C319.9 983.1 320.3 983.6 320.7 984.2C321.1 984.7 321.5 985.3 321.9 986.0C322.3 986.7 322.6 987.4 323.0 988.2C323.3 989.0 323.6 989.8 323.9 990.6C324.2 991.4 324.4 992.3 324.6 993.2C324.9 994.0 325.0 994.9 325.2 995.8C325.3 996.7 325.4 997.5 325.5 998.4C325.6 999.2 325.6 1000.0 325.6 1000.8C325.6 1001.5 325.5 1002.3 325.4 1003.0C325.3 1003.6 325.2 1004.3 325.0 1004.8C324.9 1005.4 324.7 1005.9 324.4 1006.3C324.2 1006.7 323.9 1007.0 323.6 1007.3C323.3 1007.5 322.8 1007.7 322.6 1007.8" style="stroke-width:5"/>
<path class="s" d="M324.2 979.6C324.4 979.6 324.9 979.5 325.3 979.6C325.7 979.7 326.1 979.8 326.5 980.1C326.9 980.3 327.3 980.7 327.7 981.1C328.1 981.5 328.6 982.0 329.0 982.5C329.3 983.1 329.7 983.7 330.1 984.4C330.5 985.0 330.8 985.8 331.2 986.5C331.5 987.3 331.8 988.1 332.1 989.0C332.4 989.8 332.6 990.7 332.9 991.5C333.1 992.4 333.3 993.3 333.4 994.1C333.5 995.0 333.6 995.9 333.7 996.7C333.8 997.5 333.8 998.4 333.8 999.1C333.8 999.9 333.7 1000.6 333.6 1001.3C333.5 1002.0 333.4 1002.6 333.2 1003.2C333.1 1003.7 332.9 1004.2 332.6 1004.6C332.4 1005.0 332.1 1005.4 331.8 1005.6C331.5 1005.9 331.0 1006.1 330.8 1006.1" style="stroke-width:5"/>
<path class="s" d="M257.5 993.2L267.3 1019.6" style="stroke-width:5"/>
<path class="sw" d="M257.5 992.2C252.3 987.6 244.2 993.2 236.0 993.2C227.9 993.2 216.5 990.2 208.6 992.2C200.8 994.1 193.6 1000.2 189.1 1004.9C184.5 1009.6 181.9 1015.7 181.3 1020.5C180.6 1025.4 181.9 1030.5 185.2 1034.2C188.4 1038.0 194.6 1041.4 200.8 1043.0C207.0 1044.7 215.8 1045.5 222.3 1044.0C228.8 1042.6 232.4 1038.2 239.9 1034.2C247.4 1030.3 264.4 1027.6 267.3 1020.5C270.2 1013.5 262.7 996.8 257.5 992.2Z" style="stroke-width:5"/>
<path class="s" d="M194.9 1010.8L247.7 1001.0" style="stroke-width:6"/>
<path class="s" d="M196.9 1022.5L251.7 1008.8" style="stroke-width:6"/>
<path class="s" d="M200.8 1032.3L236.0 1024.5" style="stroke-width:6"/>
<path class="s" d="M208.6 1040.1L232.1 1034.2" style="stroke-width:6"/>
<path class="s" d="M189.1 1004.9C190.4 1006.5 195.9 1010.1 196.9 1014.7C197.9 1019.2 194.3 1027.6 194.9 1032.3C195.6 1037.0 199.8 1041.2 200.8 1043.0" />
<path class="s" d="M230.1 979.5C231.1 978.4 233.4 977.6 236.0 977.1C238.6 976.6 243.8 975.8 245.8 976.5C247.7 977.3 249.4 980.0 247.7 981.4C246.1 982.9 238.9 985.0 236.0 985.3C233.1 985.7 231.1 984.4 230.1 983.4C229.2 982.4 229.2 980.5 230.1 979.5Z" style="stroke-width:4"/>
<path class="s" d="M246.8 982.4L255.6 995.1" />
<path class="sw" d="M453.1 942.3C456.5 938.7 463.5 944.0 468.7 946.2C474.0 948.5 481.1 952.1 484.4 956.0C487.6 959.9 488.9 965.1 488.3 969.7C487.6 974.3 484.7 979.3 480.5 983.4C476.2 987.5 467.4 992.8 462.9 994.1C458.3 995.5 455.5 995.6 453.1 991.2C450.6 986.8 448.2 975.9 448.2 967.7C448.2 959.6 449.7 945.9 453.1 942.3Z" style="stroke-width:5"/>
<ellipse class="s" cx="457.0" cy="967.7" rx="10.2" ry="25.0" transform="rotate(-14 457.0 967.7)" style="stroke-width:5"/>
<path class="s" d="M467.7 948.8C467.9 948.8 468.4 948.6 468.8 948.6C469.2 948.6 469.6 948.6 470.0 948.6C470.4 948.7 470.8 948.7 471.2 948.8C471.6 948.9 472.0 949.1 472.4 949.2C472.8 949.4 473.2 949.6 473.6 949.8C474.0 950.0 474.4 950.3 474.8 950.6C475.2 950.9 475.6 951.2 476.0 951.5C476.4 951.9 476.8 952.2 477.2 952.6C477.6 953.0 477.9 953.4 478.3 953.9C478.7 954.3 479.0 954.8 479.4 955.3C479.7 955.8 480.0 956.3 480.3 956.8C480.7 957.4 481.0 957.9 481.3 958.5C481.6 959.0 481.8 959.6 482.1 960.2C482.4 960.8 482.6 961.4 482.8 962.1C483.1 962.7 483.3 963.3 483.5 963.9C483.7 964.6 483.9 965.2 484.0 965.9C484.2 966.5 484.3 967.2 484.5 967.9C484.6 968.5 484.7 969.2 484.8 969.8C484.9 970.5 484.9 971.1 485.0 971.8C485.0 972.4 485.1 973.1 485.1 973.7C485.1 974.4 485.1 975.0 485.0 975.6C485.0 976.2 484.9 976.8 484.9 977.4C484.8 978.0 484.7 978.6 484.6 979.2C484.5 979.7 484.4 980.3 484.2 980.8C484.1 981.3 483.9 981.8 483.7 982.3C483.5 982.8 483.3 983.3 483.1 983.7C482.9 984.2 482.6 984.6 482.4 985.0C482.1 985.3 481.9 985.7 481.6 986.0C481.3 986.4 481.0 986.7 480.7 987.0C480.4 987.2 480.1 987.5 479.7 987.7C479.4 987.9 479.1 988.1 478.7 988.3C478.4 988.4 477.8 988.6 477.6 988.6" style="stroke-width:6;stroke-dasharray:4 4;stroke-linecap:butt"/>
<path class="sw" d="M513.1 969.2C512.6 969.2 511.0 969.4 510.0 969.3C509.0 969.1 507.9 968.8 506.9 968.3C505.9 967.8 504.9 967.1 503.9 966.3C503.0 965.4 502.1 964.4 501.4 963.3C500.6 962.2 499.9 961.0 499.4 959.7C498.8 958.4 498.4 957.0 498.1 955.7C497.8 954.3 497.6 952.8 497.5 951.4C497.5 950.0 497.6 948.6 497.8 947.3C498.0 946.0 498.4 944.7 498.9 943.6C499.4 942.4 500.0 941.4 500.7 940.5C501.4 939.6 502.2 938.9 503.1 938.3C504.0 937.7 505.5 937.3 506.0 937.1L520.0 933.9C520.5 933.9 522.1 933.7 523.1 933.8C524.2 934.0 525.2 934.3 526.2 934.8C527.2 935.3 528.3 936.0 529.2 936.8C530.1 937.7 531.0 938.7 531.7 939.8C532.5 940.9 533.2 942.1 533.7 943.4C534.3 944.7 534.7 946.1 535.1 947.4C535.4 948.8 535.5 950.3 535.6 951.7C535.6 953.1 535.5 954.5 535.3 955.8C535.1 957.1 534.7 958.4 534.2 959.5C533.7 960.7 533.1 961.7 532.4 962.6C531.7 963.5 530.9 964.2 530.0 964.8C529.1 965.4 527.6 965.8 527.2 966.0Z" />
<ellipse class="sw" cx="509.5" cy="953.1" rx="11.7" ry="16.4" transform="rotate(167.5 509.5 953.1)"/>
<ellipse class="s" cx="509.5" cy="953.1" rx="11.7" ry="16.4" transform="rotate(-14 509.5 953.1)" style="stroke-width:6"/>
<ellipse class="s" cx="509.5" cy="953.4" rx="5.9" ry="9.4" transform="rotate(-14 509.5 953.4)" />
<path class="s" d="M500.1 954.7L518.9 951.2" />
<path class="st" d="M509.5 939.0L510.3 967.2" />
<path class="sw" d="M482.7 854.7C483.1 854.7 484.4 854.5 485.2 854.8C486.1 855.0 487.0 855.5 487.9 856.1C488.8 856.8 489.7 857.7 490.6 858.8C491.4 859.8 492.3 861.1 493.0 862.4C493.8 863.8 494.5 865.3 495.1 866.9C495.7 868.4 496.3 870.1 496.7 871.8C497.1 873.5 497.5 875.2 497.7 876.9C497.9 878.6 498.0 880.3 497.9 881.8C497.9 883.4 497.8 884.9 497.5 886.2C497.3 887.5 496.9 888.8 496.4 889.8C495.9 890.8 495.4 891.6 494.7 892.3C494.1 892.9 492.9 893.3 492.5 893.5L444.8 905.6C444.4 905.6 443.1 905.7 442.3 905.5C441.4 905.3 440.5 904.8 439.6 904.1C438.7 903.5 437.8 902.6 436.9 901.5C436.1 900.5 435.2 899.2 434.5 897.9C433.7 896.5 433.0 895.0 432.4 893.4C431.8 891.8 431.2 890.1 430.8 888.5C430.4 886.8 430.0 885.0 429.8 883.3C429.6 881.7 429.5 880.0 429.6 878.4C429.6 876.9 429.7 875.4 430.0 874.0C430.2 872.7 430.6 871.5 431.1 870.5C431.6 869.5 432.2 868.6 432.8 868.0C433.5 867.4 434.6 866.9 435.0 866.7Z" />
<ellipse class="sw" cx="487.6" cy="874.1" rx="9.4" ry="20.0" transform="rotate(-14.2 487.6 874.1)"/>
<ellipse class="sb" cx="439.9" cy="886.2" rx="16.4" ry="21.9" transform="rotate(-14 439.9 886.2)" />
<ellipse class="st" cx="434.4" cy="876.5" rx="2.5" ry="1.4" transform="rotate(-14 434.4 876.5)" style="fill:#fff;stroke:none"/>
<ellipse class="st" cx="445.4" cy="878.0" rx="2.5" ry="1.4" transform="rotate(-14 445.4 878.0)" style="fill:#fff;stroke:none"/>
<ellipse class="st" cx="431.3" cy="888.2" rx="2.5" ry="1.4" transform="rotate(-14 431.3 888.2)" style="fill:#fff;stroke:none"/>
<ellipse class="st" cx="442.2" cy="888.2" rx="2.5" ry="1.4" transform="rotate(-14 442.2 888.2)" style="fill:#fff;stroke:none"/>
<ellipse class="st" cx="436.0" cy="896.8" rx="2.5" ry="1.4" transform="rotate(-14 436.0 896.8)" style="fill:#fff;stroke:none"/>
<ellipse class="st" cx="446.9" cy="895.2" rx="2.5" ry="1.4" transform="rotate(-14 446.9 895.2)" style="fill:#fff;stroke:none"/>
<path class="sb" d="M485.3 857.7L509.5 853.0L512.6 892.1L487.6 897.6Z" />
<path class="sw" d="M590.2 844.9C590.5 845.1 591.5 845.3 592.1 845.7C592.7 846.2 593.3 846.7 593.7 847.4C594.2 848.1 594.6 849.0 594.9 849.9C595.2 850.8 595.5 851.8 595.6 852.9C595.8 854.0 595.8 855.1 595.8 856.3C595.8 857.5 595.7 858.7 595.4 859.9C595.2 861.0 594.9 862.2 594.5 863.3C594.2 864.4 593.7 865.5 593.2 866.4C592.7 867.4 592.1 868.3 591.4 869.0C590.8 869.8 590.1 870.4 589.5 870.9C588.8 871.4 588.1 871.7 587.4 871.9C586.7 872.1 585.6 872.0 585.3 872.0L568.1 868.9C567.8 868.7 566.7 868.5 566.2 868.1C565.6 867.6 565.0 867.1 564.6 866.4C564.1 865.7 563.7 864.8 563.3 863.9C563.0 863.0 562.8 862.0 562.6 860.9C562.5 859.8 562.4 858.6 562.5 857.5C562.5 856.3 562.6 855.1 562.8 853.9C563.0 852.8 563.4 851.6 563.7 850.5C564.1 849.4 564.6 848.3 565.1 847.3C565.6 846.4 566.2 845.5 566.8 844.8C567.5 844.0 568.1 843.4 568.8 842.9C569.5 842.4 570.2 842.1 570.9 841.9C571.6 841.7 572.7 841.8 573.0 841.8Z" />
<ellipse class="sw" cx="587.7" cy="858.5" rx="7.8" ry="13.8" transform="rotate(10.3 587.7 858.5)"/>
<path class="sb" d="M564.5 894.4C563.6 894.5 560.9 894.9 559.1 894.5C557.2 894.2 555.2 893.4 553.3 892.2C551.5 891.0 549.5 889.4 547.8 887.6C546.0 885.7 544.3 883.5 542.8 881.0C541.2 878.6 539.8 875.8 538.6 873.0C537.4 870.1 536.4 867.0 535.6 863.9C534.9 860.9 534.3 857.6 534.0 854.6C533.7 851.5 533.7 848.4 533.9 845.5C534.1 842.6 534.5 839.8 535.2 837.4C535.9 834.9 536.8 832.6 538.0 830.7C539.1 828.8 540.4 827.1 541.9 825.9C543.4 824.7 546.0 823.8 546.8 823.4L559.3 820.3C560.2 820.3 562.9 819.8 564.8 820.2C566.7 820.6 568.6 821.4 570.5 822.5C572.4 823.7 574.3 825.3 576.1 827.1C577.8 829.0 579.6 831.3 581.1 833.7C582.6 836.1 584.1 838.9 585.2 841.8C586.4 844.6 587.5 847.7 588.2 850.8C589.0 853.9 589.5 857.1 589.8 860.2C590.1 863.2 590.2 866.4 590.0 869.2C589.8 872.1 589.3 874.9 588.6 877.4C588.0 879.8 587.0 882.1 585.9 884.1C584.8 886.0 583.4 887.6 581.9 888.8C580.5 890.0 577.9 890.9 577.1 891.3Z" />
<path class="st" d="M545.1 825.1C545.4 824.9 546.4 824.1 547.1 823.7C547.8 823.4 548.5 823.0 549.3 822.8C550.0 822.6 550.8 822.4 551.6 822.3C552.4 822.3 553.2 822.3 554.0 822.3C554.8 822.4 555.7 822.6 556.5 822.8C557.3 823.0 558.2 823.3 559.0 823.7C559.8 824.1 560.7 824.6 561.5 825.1C562.3 825.6 563.2 826.3 564.0 826.9C564.8 827.6 565.6 828.3 566.4 829.1C567.2 830.0 567.9 830.8 568.7 831.8C569.4 832.7 570.1 833.7 570.8 834.7C571.5 835.7 572.2 836.8 572.9 838.0C573.5 839.1 574.1 840.3 574.7 841.5C575.3 842.7 575.8 843.9 576.3 845.2C576.8 846.5 577.3 847.8 577.7 849.1C578.1 850.4 578.5 851.8 578.8 853.2C579.2 854.5 579.5 855.9 579.7 857.2C580.0 858.6 580.2 860.0 580.3 861.3C580.5 862.7 580.6 864.1 580.7 865.4C580.7 866.7 580.7 868.1 580.7 869.4C580.7 870.7 580.6 872.0 580.4 873.2C580.3 874.4 580.1 875.7 579.9 876.8C579.7 878.0 579.4 879.1 579.1 880.2C578.8 881.3 578.4 882.3 578.0 883.3C577.6 884.3 577.2 885.2 576.7 886.0C576.2 886.9 575.7 887.7 575.1 888.4C574.6 889.2 574.0 889.8 573.4 890.4C572.7 891.0 572.1 891.6 571.4 892.0C570.7 892.5 570.0 892.8 569.3 893.1C568.5 893.4 567.8 893.7 567.0 893.8C566.2 894.0 565.4 894.0 564.6 894.0C563.8 894.0 562.6 893.8 562.2 893.8" style="stroke:#fff;stroke-width:3.2;stroke-dasharray:9 9;stroke-dashoffset:5;stroke-linecap:butt"/>
<path class="st" d="M548.2 824.3C548.5 824.1 549.5 823.3 550.2 823.0C550.9 822.6 551.7 822.3 552.4 822.0C553.2 821.8 554.0 821.6 554.7 821.6C555.5 821.5 556.3 821.5 557.2 821.6C558.0 821.6 558.8 821.8 559.6 822.0C560.5 822.3 561.3 822.6 562.1 822.9C563.0 823.3 563.8 823.8 564.6 824.3C565.5 824.9 566.3 825.5 567.1 826.1C567.9 826.8 568.7 827.6 569.5 828.4C570.3 829.2 571.1 830.0 571.8 831.0C572.5 831.9 573.3 832.9 574.0 833.9C574.7 835.0 575.3 836.0 576.0 837.2C576.6 838.3 577.2 839.5 577.8 840.7C578.4 841.9 578.9 843.2 579.4 844.4C579.9 845.7 580.4 847.0 580.8 848.3C581.2 849.7 581.6 851.0 582.0 852.4C582.3 853.7 582.6 855.1 582.8 856.5C583.1 857.8 583.3 859.2 583.5 860.6C583.6 861.9 583.7 863.3 583.8 864.6C583.8 866.0 583.9 867.3 583.8 868.6C583.8 869.9 583.7 871.2 583.6 872.4C583.4 873.7 583.3 874.9 583.0 876.0C582.8 877.2 582.5 878.3 582.2 879.4C581.9 880.5 581.6 881.5 581.2 882.5C580.8 883.5 580.3 884.4 579.8 885.3C579.3 886.1 578.8 886.9 578.3 887.7C577.7 888.4 577.1 889.1 576.5 889.7C575.9 890.3 575.2 890.8 574.5 891.2C573.8 891.7 573.1 892.1 572.4 892.4C571.7 892.7 570.9 892.9 570.1 893.0C569.4 893.2 568.6 893.2 567.7 893.2C566.9 893.2 565.7 893.0 565.3 893.0" style="stroke:#fff;stroke-width:3.2;stroke-dasharray:9 9;stroke-dashoffset:10;stroke-linecap:butt"/>
<path class="st" d="M551.3 823.6C551.7 823.3 552.7 822.6 553.4 822.2C554.1 821.8 554.8 821.5 555.6 821.2C556.3 821.0 557.1 820.9 557.9 820.8C558.7 820.7 559.5 820.7 560.3 820.8C561.1 820.8 561.9 821.0 562.8 821.2C563.6 821.5 564.4 821.8 565.3 822.2C566.1 822.6 566.9 823.0 567.8 823.5C568.6 824.1 569.4 824.7 570.2 825.4C571.0 826.0 571.8 826.8 572.6 827.6C573.4 828.4 574.2 829.3 574.9 830.2C575.7 831.1 576.4 832.1 577.1 833.1C577.8 834.2 578.5 835.3 579.1 836.4C579.8 837.5 580.4 838.7 580.9 839.9C581.5 841.1 582.1 842.4 582.6 843.7C583.1 844.9 583.5 846.2 584.0 847.6C584.4 848.9 584.8 850.2 585.1 851.6C585.4 852.9 585.7 854.3 586.0 855.7C586.2 857.0 586.4 858.4 586.6 859.8C586.7 861.1 586.8 862.5 586.9 863.8C587.0 865.2 587.0 866.5 586.9 867.8C586.9 869.1 586.8 870.4 586.7 871.6C586.6 872.9 586.4 874.1 586.2 875.3C585.9 876.4 585.7 877.6 585.4 878.6C585.0 879.7 584.7 880.7 584.3 881.7C583.9 882.7 583.4 883.6 583.0 884.5C582.5 885.3 582.0 886.1 581.4 886.9C580.8 887.6 580.2 888.3 579.6 888.9C579.0 889.5 578.3 890.0 577.7 890.4C577.0 890.9 576.3 891.3 575.5 891.6C574.8 891.9 574.0 892.1 573.3 892.3C572.5 892.4 571.7 892.5 570.9 892.5C570.1 892.4 568.8 892.2 568.4 892.2" style="stroke:#fff;stroke-width:3.2;stroke-dasharray:9 9;stroke-dashoffset:15;stroke-linecap:butt"/>
<ellipse class="sw" cx="555.7" cy="858.9" rx="20.7" ry="36.6" transform="rotate(-14 555.7 858.9)" style="stroke-width:5"/>
<path class="s" d="M576.6 853.7C576.8 854.9 577.7 858.5 578.0 860.9C578.3 863.3 578.5 865.7 578.5 868.0C578.5 870.4 578.4 872.7 578.1 874.8C577.9 877.0 577.5 879.1 576.9 881.0C576.4 882.9 575.7 884.7 574.9 886.3C574.1 887.9 573.1 889.4 572.1 890.6C571.0 891.8 569.9 892.8 568.7 893.6C567.4 894.4 566.1 895.0 564.8 895.4C563.4 895.7 561.9 895.8 560.5 895.7C559.0 895.6 557.5 895.2 556.0 894.6C554.6 894.0 553.0 893.2 551.6 892.1C550.1 891.1 548.7 889.8 547.3 888.4C545.9 887.0 544.5 885.3 543.3 883.5C542.1 881.7 540.9 879.8 539.8 877.7C538.7 875.6 537.7 873.4 536.9 871.2C536.1 868.9 535.3 866.5 534.7 864.2C534.1 861.8 533.7 859.3 533.4 856.9C533.0 854.6 532.9 852.1 532.8 849.8C532.8 847.5 532.9 845.2 533.2 843.0C533.5 840.9 533.9 838.8 534.4 836.9C535.0 834.9 535.7 833.1 536.5 831.5C537.3 829.9 538.2 828.5 539.3 827.3C540.3 826.0 541.5 825.0 542.7 824.2C543.9 823.4 545.2 822.8 546.6 822.5C547.9 822.2 549.4 822.0 550.8 822.2C552.3 822.3 553.8 822.7 555.3 823.3C556.8 823.9 558.3 824.7 559.8 825.7C561.2 826.8 562.7 828.0 564.1 829.5C565.4 830.9 566.8 832.6 568.0 834.3C569.3 836.1 570.5 838.1 571.5 840.2C572.6 842.2 573.6 844.4 574.4 846.7C575.3 849.0 576.3 852.5 576.6 853.7" style="stroke-width:11;stroke-dasharray:8 7;stroke-linecap:butt"/>
<path class="sb" d="M545.6 908.3C544.4 908.3 540.9 908.9 538.5 908.4C536.1 908.0 533.6 907.0 531.2 905.6C528.8 904.2 526.3 902.2 524.1 899.9C521.8 897.6 519.6 894.9 517.7 891.8C515.8 888.8 514.0 885.4 512.5 881.9C511.0 878.3 509.7 874.5 508.7 870.7C507.8 866.9 507.1 862.9 506.8 859.1C506.4 855.3 506.4 851.4 506.7 847.8C507.0 844.3 507.6 840.8 508.5 837.7C509.4 834.6 510.7 831.7 512.1 829.4C513.6 827.0 515.3 824.9 517.2 823.4C519.1 821.9 522.5 820.8 523.5 820.2L536.1 817.1C537.2 817.1 540.7 816.5 543.1 816.9C545.5 817.4 548.0 818.4 550.4 819.8C552.8 821.2 555.3 823.1 557.5 825.4C559.8 827.7 562.0 830.5 563.9 833.5C565.8 836.5 567.6 840.0 569.1 843.5C570.6 847.0 571.9 850.9 572.9 854.7C573.8 858.5 574.5 862.5 574.8 866.3C575.2 870.1 575.2 874.0 574.9 877.5C574.6 881.1 574.0 884.6 573.1 887.7C572.2 890.8 571.0 893.6 569.5 896.0C568.0 898.4 566.3 900.4 564.4 902.0C562.5 903.5 559.1 904.6 558.1 905.1Z" />
<path class="st" d="M520.4 822.6C520.8 822.3 522.1 821.4 523.0 820.9C523.9 820.4 524.9 820.0 525.9 819.7C526.8 819.4 527.8 819.2 528.8 819.1C529.9 819.0 530.9 818.9 531.9 819.0C533.0 819.1 534.1 819.3 535.1 819.6C536.2 819.9 537.3 820.2 538.3 820.7C539.4 821.2 540.5 821.7 541.5 822.4C542.6 823.1 543.6 823.8 544.7 824.6C545.7 825.5 546.7 826.4 547.7 827.4C548.7 828.3 549.7 829.4 550.7 830.6C551.6 831.7 552.5 832.9 553.4 834.2C554.3 835.5 555.2 836.8 556.0 838.2C556.8 839.6 557.6 841.1 558.3 842.6C559.0 844.1 559.7 845.6 560.3 847.2C560.9 848.8 561.5 850.4 562.1 852.0C562.6 853.7 563.1 855.4 563.5 857.0C563.9 858.7 564.3 860.4 564.6 862.1C564.9 863.8 565.1 865.5 565.3 867.2C565.5 868.9 565.6 870.6 565.7 872.2C565.7 873.9 565.7 875.6 565.7 877.2C565.6 878.8 565.5 880.4 565.3 881.9C565.1 883.5 564.9 885.0 564.6 886.4C564.3 887.9 563.9 889.3 563.5 890.6C563.1 892.0 562.6 893.3 562.1 894.5C561.6 895.7 561.0 896.8 560.4 897.9C559.7 899.0 559.1 900.0 558.3 900.9C557.6 901.8 556.8 902.7 556.0 903.4C555.2 904.2 554.4 904.8 553.5 905.4C552.6 906.0 551.7 906.4 550.7 906.8C549.8 907.2 548.8 907.5 547.8 907.7C546.8 907.9 545.8 908.0 544.7 908.0C543.7 908.0 542.1 907.7 541.6 907.7" style="stroke:#fff;stroke-width:3.2;stroke-dasharray:10 9;stroke-dashoffset:5;stroke-linecap:butt"/>
<path class="st" d="M523.5 821.8C524.0 821.5 525.3 820.6 526.2 820.1C527.1 819.6 528.0 819.2 529.0 818.9C530.0 818.6 531.0 818.4 532.0 818.3C533.0 818.2 534.0 818.2 535.1 818.3C536.1 818.3 537.2 818.5 538.3 818.8C539.3 819.1 540.4 819.5 541.5 819.9C542.5 820.4 543.6 821.0 544.7 821.6C545.7 822.3 546.8 823.0 547.8 823.8C548.8 824.7 549.9 825.6 550.9 826.6C551.9 827.6 552.8 828.6 553.8 829.8C554.7 830.9 555.7 832.1 556.5 833.4C557.4 834.7 558.3 836.0 559.1 837.4C559.9 838.8 560.7 840.3 561.4 841.8C562.1 843.3 562.8 844.8 563.4 846.4C564.1 848.0 564.7 849.6 565.2 851.3C565.7 852.9 566.2 854.6 566.6 856.3C567.0 857.9 567.4 859.6 567.7 861.3C568.0 863.0 568.2 864.7 568.4 866.4C568.6 868.1 568.7 869.8 568.8 871.5C568.9 873.1 568.9 874.8 568.8 876.4C568.7 878.0 568.6 879.6 568.4 881.1C568.3 882.7 568.0 884.2 567.7 885.6C567.4 887.1 567.1 888.5 566.6 889.8C566.2 891.2 565.8 892.5 565.2 893.7C564.7 894.9 564.1 896.1 563.5 897.1C562.9 898.2 562.2 899.2 561.5 900.1C560.7 901.0 560.0 901.9 559.2 902.6C558.3 903.4 557.5 904.0 556.6 904.6C555.7 905.2 554.8 905.7 553.9 906.0C552.9 906.4 551.9 906.7 550.9 906.9C549.9 907.1 548.9 907.2 547.9 907.2C546.8 907.2 545.3 906.9 544.7 906.9" style="stroke:#fff;stroke-width:3.2;stroke-dasharray:10 9;stroke-dashoffset:10;stroke-linecap:butt"/>
<path class="st" d="M526.7 821.0C527.1 820.8 528.4 819.8 529.3 819.3C530.2 818.8 531.2 818.4 532.1 818.1C533.1 817.8 534.1 817.6 535.1 817.5C536.1 817.4 537.2 817.4 538.2 817.5C539.3 817.6 540.3 817.7 541.4 818.0C542.4 818.3 543.5 818.7 544.6 819.1C545.7 819.6 546.7 820.2 547.8 820.8C548.8 821.5 549.9 822.2 550.9 823.1C552.0 823.9 553.0 824.8 554.0 825.8C555.0 826.8 556.0 827.9 556.9 829.0C557.9 830.1 558.8 831.4 559.7 832.6C560.6 833.9 561.4 835.3 562.2 836.7C563.0 838.1 563.8 839.5 564.5 841.0C565.3 842.5 565.9 844.1 566.6 845.6C567.2 847.2 567.8 848.8 568.3 850.5C568.8 852.1 569.3 853.8 569.7 855.5C570.2 857.1 570.5 858.8 570.8 860.5C571.1 862.2 571.4 863.9 571.6 865.6C571.7 867.3 571.9 869.0 571.9 870.7C572.0 872.3 572.0 874.0 571.9 875.6C571.9 877.2 571.8 878.8 571.6 880.4C571.4 881.9 571.1 883.4 570.8 884.9C570.5 886.3 570.2 887.7 569.8 889.1C569.4 890.4 568.9 891.7 568.4 892.9C567.8 894.1 567.2 895.3 566.6 896.4C566.0 897.4 565.3 898.4 564.6 899.3C563.9 900.3 563.1 901.1 562.3 901.8C561.5 902.6 560.6 903.3 559.7 903.8C558.9 904.4 557.9 904.9 557.0 905.3C556.0 905.6 555.1 905.9 554.1 906.1C553.1 906.3 552.0 906.4 551.0 906.4C550.0 906.4 548.4 906.1 547.9 906.1" style="stroke:#fff;stroke-width:3.2;stroke-dasharray:10 9;stroke-dashoffset:15;stroke-linecap:butt"/>
<ellipse class="sb" cx="534.5" cy="864.2" rx="26.6" ry="45.4" transform="rotate(-14 534.5 864.2)" style="stroke-width:5"/>
<path class="s" stroke="#fff" d="M557.3 858.6C557.6 859.9 558.5 863.8 558.8 866.4C559.2 869.0 559.4 871.7 559.4 874.2C559.4 876.8 559.3 879.3 559.0 881.6C558.7 884.0 558.3 886.3 557.7 888.4C557.1 890.4 556.3 892.4 555.4 894.2C554.6 895.9 553.5 897.5 552.4 898.8C551.3 900.2 550.0 901.3 548.7 902.2C547.4 903.0 545.9 903.7 544.5 904.0C543.0 904.4 541.4 904.5 539.8 904.4C538.3 904.2 536.6 903.8 535.0 903.2C533.4 902.5 531.7 901.6 530.1 900.5C528.6 899.3 527.0 898.0 525.5 896.4C524.0 894.8 522.5 893.0 521.1 891.1C519.8 889.1 518.5 887.0 517.3 884.7C516.1 882.5 515.1 880.0 514.2 877.6C513.2 875.1 512.4 872.5 511.8 869.9C511.1 867.3 510.6 864.7 510.3 862.1C509.9 859.4 509.7 856.8 509.7 854.3C509.7 851.7 509.8 849.2 510.1 846.9C510.4 844.5 510.8 842.2 511.4 840.1C512.0 838.1 512.8 836.1 513.7 834.3C514.5 832.6 515.6 831.0 516.7 829.7C517.8 828.3 519.1 827.2 520.4 826.3C521.7 825.5 523.2 824.8 524.6 824.5C526.1 824.1 527.7 824.0 529.3 824.1C530.8 824.3 532.5 824.7 534.1 825.3C535.7 826.0 537.4 826.9 539.0 828.0C540.5 829.2 542.1 830.5 543.6 832.1C545.1 833.7 546.6 835.5 548.0 837.4C549.3 839.4 550.6 841.5 551.8 843.8C553.0 846.0 554.0 848.5 554.9 850.9C555.9 853.4 556.9 857.3 557.3 858.6" style="stroke:#fff;stroke-width:5;stroke-dasharray:6 7;stroke-linecap:butt"/>
<ellipse class="st" cx="534.5" cy="864.2" rx="14.9" ry="26.6" transform="rotate(-14 534.5 864.2)" style="stroke:#fff;stroke-width:3;stroke-dasharray:8 6"/>
<path class="s" d="M524.3 904.0C523.7 903.8 522.0 903.5 520.8 903.0C519.6 902.5 518.4 901.8 517.2 901.0C516.0 900.1 514.8 899.0 513.7 897.8C512.5 896.6 511.3 895.2 510.2 893.7C509.2 892.2 508.1 890.5 507.1 888.7C506.1 887.0 505.1 885.0 504.2 883.1C503.4 881.1 502.5 879.0 501.8 876.9C501.1 874.8 500.5 872.6 499.9 870.4C499.4 868.2 498.9 865.9 498.5 863.7C498.2 861.5 497.9 859.3 497.8 857.1C497.6 854.9 497.6 852.8 497.6 850.8C497.7 848.7 497.8 846.8 498.1 844.9C498.3 843.0 498.7 841.3 499.2 839.7C499.6 838.0 500.2 836.5 500.8 835.2C501.5 833.9 502.2 832.7 503.0 831.7C503.8 830.7 505.2 829.6 505.6 829.2" style="stroke:#fff;stroke-width:2.5"/>
<ellipse class="sw" cx="617.5" cy="850.6" rx="9.1" ry="19.6" transform="rotate(-15 617.5 850.6)" style="stroke-width:5.5"/>
<path class="sw" d="M453.0 573.4C455.3 572.5 460.8 573.9 463.4 574.4C466.0 574.9 468.3 574.4 468.7 576.5C469.0 578.6 465.9 583.3 465.5 586.9C465.2 590.6 466.9 594.4 466.6 598.4C466.2 602.4 465.0 609.4 463.4 610.9C461.9 612.5 459.4 609.4 457.2 607.8C454.9 606.2 451.4 604.1 449.9 601.5C448.3 598.9 447.8 595.8 447.8 592.2C447.8 588.5 449.0 582.8 449.9 579.6C450.8 576.5 450.8 574.2 453.0 573.4Z" style="stroke-width:5"/>
<path class="s" d="M452.0 589.0L464.5 593.2" />
<path class="s" d="M463.4 575.5L464.5 592.2L462.4 609.9" />
<path class="sb" d="M470.7 576.5C472.1 573.6 475.6 574.1 478.0 574.4C480.5 574.8 483.6 576.7 485.3 578.6C487.1 580.5 486.9 583.8 488.5 585.9C490.0 588.0 493.9 588.3 494.7 591.1C495.6 593.9 494.9 598.9 493.7 602.6C492.5 606.2 489.5 610.4 487.4 613.0C485.3 615.6 483.8 617.9 481.2 618.2C478.6 618.6 474.0 617.0 471.8 615.1C469.5 613.2 468.0 610.6 467.6 606.8C467.3 602.9 469.2 597.2 469.7 592.2C470.2 587.1 469.4 579.5 470.7 576.5Z" />
<path class="st" d="M469.7 578.6C470.4 579.1 473.4 579.8 473.9 581.7C474.4 583.6 473.7 588.0 472.8 590.1C472.0 592.2 469.4 593.5 468.7 594.2" style="fill:#fff"/>
<ellipse class="sw" cx="506.2" cy="610.1" rx="9.6" ry="18.3" transform="rotate(15 506.2 610.1)" style="stroke-width:5.5"/>
<ellipse class="s" cx="506.2" cy="610.1" rx="3.1" ry="10.4" transform="rotate(15 506.2 610.1)" style="stroke-width:3"/>
<path class="s" d="M433.2 580.7L447.8 585.9" /></g>
<g><text class="lb" x="417.7" y="636.9" font-size="27" text-anchor="middle" >33</text></g>
<g filter="url(#rough)"><path class="ld" d="M405.6 642.7L434.2 642.7" style="stroke-width:5"/>
<path class="ld" d="M434.2 642.7L470.7 619.3" style="stroke-width:4.5;stroke-dasharray:5 1.5"/></g>
<g><text class="lb" x="271.8" y="731.0" font-size="27" text-anchor="middle" >43</text></g>
<g filter="url(#rough)"><path class="ld" d="M264.0 736.0L284.0 736.0" style="stroke-width:3.4"/>
<path class="ld" d="M266.0 737.0L256.2 813.0" /></g>
<g><text class="lb" x="533.9" y="740.5" font-size="27" text-anchor="middle" >47</text></g>
<g filter="url(#rough)"><path class="ld" d="M524.0 746.4L546.0 746.4" style="stroke-width:3.4"/>
<path class="ld" d="M526.0 747.2L512.4 828.5" /></g>
<g><text class="lb" x="586.7" y="736.6" font-size="27" text-anchor="middle" >48</text></g>
<g filter="url(#rough)"><path class="ld" d="M579.0 743.3L598.4 744.5" style="stroke-width:3.4"/>
<path class="ld" d="M598.4 744.5L610.2 828.5" /></g>
<g><text class="lb" x="463.5" y="1051.5" font-size="27" text-anchor="middle" >46</text></g>
<g filter="url(#rough)"><path class="ld" d="M434.0 1055.4L450.0 1056.2" style="stroke-width:3.4"/>
<path class="ld" d="M436.0 1055.0L428.3 1045.6" /></g>
<g><text class="lb" x="332.5" y="1079.0" font-size="27" text-anchor="middle" >45</text></g>
<g filter="url(#rough)"><path class="ld" d="M315.0 1084.7L329.0 1084.7" style="stroke-width:3.4"/>
<path class="ld" d="M315.0 1084.7L250.3 985.0" /></g>
<g><text class="lb" x="273.0" y="1098.5" font-size="27" text-anchor="middle" >44</text></g>
<g filter="url(#rough)"><path class="ld" d="M245.0 1104.0L262.0 1104.0" style="stroke-width:3.4"/>
<path class="ld" d="M245.0 1104.0L219.0 1045.6" /></g>
<g><text class="lb" x="577.3" y="694.8" font-size="27" text-anchor="middle" >49</text></g>
<g filter="url(#rough)"><path class="ld" d="M565.0 703.4L591.0 703.4" style="stroke-width:3"/>
<path class="ld" d="M591.0 703.4L735.3 660.4" /></g></g>
<g id="60_lower"><g filter="url(#rough)"><path class="sw" d="M1365.1 882.6C1365.7 883.0 1367.5 884.2 1368.5 885.4C1369.4 886.5 1370.2 887.9 1370.8 889.5C1371.4 891.0 1371.7 892.8 1371.9 894.6C1372.1 896.4 1372.0 898.4 1371.7 900.4C1371.5 902.4 1371.0 904.5 1370.3 906.5C1369.6 908.5 1368.7 910.6 1367.7 912.5C1366.7 914.4 1365.4 916.3 1364.1 917.9C1362.8 919.6 1361.3 921.1 1359.8 922.4C1358.2 923.7 1356.6 924.8 1355.0 925.7C1353.3 926.6 1351.7 927.2 1350.0 927.6C1348.4 927.9 1346.8 928.0 1345.3 927.8C1343.8 927.7 1341.8 926.7 1341.1 926.5L1284.4 895.6C1283.9 895.2 1282.0 894.0 1281.1 892.8C1280.1 891.7 1279.3 890.2 1278.7 888.7C1278.2 887.2 1277.8 885.4 1277.6 883.6C1277.5 881.7 1277.5 879.7 1277.8 877.7C1278.0 875.8 1278.5 873.7 1279.2 871.6C1279.9 869.6 1280.8 867.6 1281.8 865.7C1282.8 863.8 1284.1 861.9 1285.4 860.3C1286.7 858.6 1288.2 857.1 1289.7 855.8C1291.3 854.5 1292.9 853.3 1294.5 852.5C1296.2 851.6 1297.9 851.0 1299.5 850.6C1301.1 850.3 1302.7 850.2 1304.2 850.3C1305.7 850.5 1307.7 851.4 1308.4 851.7Z" />
<ellipse class="sw" cx="1353.1" cy="904.5" rx="16.6" ry="25.0" transform="rotate(28.6 1353.1 904.5)"/>
<path class="s" d="M1331.4 921.6C1330.9 921.3 1329.5 920.4 1328.7 919.7C1328.0 918.9 1327.3 917.9 1326.7 916.9C1326.1 915.9 1325.6 914.7 1325.3 913.5C1324.9 912.3 1324.7 910.9 1324.5 909.6C1324.4 908.2 1324.4 906.7 1324.5 905.2C1324.7 903.8 1324.9 902.2 1325.3 900.7C1325.6 899.2 1326.1 897.6 1326.7 896.1C1327.3 894.6 1328.0 893.1 1328.7 891.7C1329.5 890.3 1330.4 888.9 1331.4 887.6C1332.3 886.3 1333.4 885.0 1334.4 883.9C1335.5 882.8 1336.7 881.7 1337.9 880.8C1339.0 879.9 1340.3 879.1 1341.5 878.5C1342.7 877.8 1344.0 877.3 1345.2 877.0C1346.4 876.6 1347.6 876.4 1348.8 876.3C1350.0 876.2 1351.2 876.3 1352.2 876.5C1353.3 876.8 1354.8 877.5 1355.3 877.7" />
<ellipse class="s" cx="1353.1" cy="904.5" rx="13.7" ry="21.1" transform="rotate(28.6 1353.1 904.5)" style="stroke-width:5"/>
<path class="sw" d="M1385.4 918.2C1390.9 908.8 1412.8 872.2 1418.6 861.5C1424.5 850.8 1418.3 855.9 1420.6 854.1C1422.9 852.3 1428.2 850.2 1432.3 850.8C1436.4 851.3 1443.1 853.5 1445.0 857.6C1447.0 861.7 1447.8 866.4 1444.1 875.2C1440.3 884.0 1426.1 904.5 1422.5 910.4" style="stroke-width:4.5"/>
<path class="s" d="M1420.6 854.1L1421.6 865.4L1395.2 912.4" />
<path class="s" d="M1421.6 865.4L1434.3 869.3L1406.9 916.3" />
<path class="s" d="M1434.3 869.3L1444.1 863.5" />
<path class="st" d="M1421.6 854.7L1433.3 859.6L1434.3 869.3" />
<path class="sw" d="M1381.5 920.2L1384.4 941.7L1418.6 957.3L1426.5 955.4" style="stroke-width:4.5"/>
<path class="s" d="M1381.5 920.2L1403.0 928.0L1410.8 949.5" />
<path class="sw" d="M1433.3 913.9C1433.8 914.2 1435.5 915.0 1436.4 915.9C1437.4 916.8 1438.2 917.9 1438.8 919.1C1439.4 920.3 1439.9 921.8 1440.3 923.3C1440.6 924.8 1440.7 926.5 1440.7 928.2C1440.7 929.9 1440.5 931.7 1440.1 933.5C1439.8 935.2 1439.2 937.0 1438.6 938.7C1437.9 940.4 1437.0 942.1 1436.1 943.6C1435.1 945.1 1434.0 946.6 1432.9 947.8C1431.7 949.1 1430.5 950.2 1429.2 951.0C1427.9 951.9 1426.5 952.6 1425.2 953.1C1423.9 953.5 1422.5 953.8 1421.3 953.8C1420.0 953.8 1418.2 953.2 1417.6 953.1L1399.1 945.7C1398.5 945.3 1396.9 944.5 1395.9 943.6C1395.0 942.8 1394.2 941.7 1393.6 940.4C1392.9 939.2 1392.4 937.7 1392.1 936.2C1391.8 934.7 1391.6 933.0 1391.7 931.3C1391.7 929.6 1391.9 927.8 1392.2 926.1C1392.6 924.3 1393.1 922.5 1393.8 920.8C1394.5 919.1 1395.4 917.4 1396.3 915.9C1397.2 914.4 1398.3 913.0 1399.5 911.7C1400.6 910.5 1401.9 909.4 1403.2 908.5C1404.5 907.6 1405.8 906.9 1407.2 906.5C1408.5 906.0 1409.8 905.8 1411.1 905.8C1412.4 905.8 1414.1 906.3 1414.7 906.4Z" />
<ellipse class="sw" cx="1425.5" cy="933.5" rx="14.1" ry="21.1" transform="rotate(21.8 1425.5 933.5)"/>
<ellipse class="s" cx="1425.5" cy="933.5" rx="10.8" ry="17.2" transform="rotate(25 1425.5 933.5)" style="stroke-width:4"/>
<ellipse class="sb" cx="1401.4" cy="926.1" rx="4.3" ry="4.3" transform="rotate(0 1401.4 926.1)" />
<ellipse class="sw" cx="1458.7" cy="951.5" rx="17.2" ry="22.5" transform="rotate(15 1458.7 951.5)" style="stroke-width:5.5"/>
<ellipse class="sw" cx="1500.8" cy="966.1" rx="17.6" ry="21.9" transform="rotate(15 1500.8 966.1)" style="stroke-width:5.5"/>
<path class="s" d="M1345.3 945.6L1371.7 957.3" style="stroke-width:6"/>
<path class="s" d="M1371.7 957.3L1379.9 967.1L1382.5 955.4L1380.5 931.9" /></g>
<g><text class="lb" x="1396.1" y="1000.8" font-size="27" text-anchor="middle" >36</text></g>
<g filter="url(#rough)"><path class="ld" d="M1379.5 1006.2L1388.3 1006.2" style="stroke-width:3.4"/>
<path class="ld" d="M1379.5 1006.2L1361.9 974.9L1356.1 959.3" /></g>
<g><text class="lb" x="1489.0" y="891.8" font-size="27" text-anchor="middle" >35</text></g>
<g filter="url(#rough)"><path class="ld" d="M1471.4 881.1L1455.8 881.1L1426.5 910.4" /></g>
<g><text class="lb" x="1655.3" y="962.2" font-size="27" text-anchor="middle" >37</text></g>
<g filter="url(#rough)"><path class="ld" d="M1646.5 968.1L1662.1 968.1" style="stroke-width:3.4"/>
<path class="ld" d="M1646.5 968.1L1631.8 992.5" /></g>
<g><path class="kw" d="M1644.0 996.9C1644.2 997.1 1645.0 997.5 1645.4 998.1C1645.8 998.7 1646.2 999.5 1646.4 1000.5C1646.6 1001.4 1646.7 1002.6 1646.7 1003.8C1646.7 1005.1 1646.6 1006.5 1646.4 1007.9C1646.2 1009.4 1645.9 1011.0 1645.5 1012.5C1645.2 1014.1 1644.7 1015.7 1644.1 1017.3C1643.6 1018.8 1642.9 1020.4 1642.3 1021.9C1641.6 1023.4 1640.9 1024.8 1640.1 1026.0C1639.4 1027.3 1638.6 1028.5 1637.8 1029.4C1637.0 1030.4 1636.2 1031.2 1635.4 1031.8C1634.7 1032.4 1633.9 1032.9 1633.2 1033.1C1632.6 1033.3 1631.7 1033.1 1631.4 1033.1L1524.8 996.0C1524.5 995.8 1523.7 995.4 1523.3 994.8C1522.9 994.2 1522.6 993.4 1522.4 992.4C1522.2 991.5 1522.1 990.3 1522.1 989.1C1522.0 987.8 1522.1 986.4 1522.3 985.0C1522.5 983.5 1522.8 981.9 1523.2 980.4C1523.6 978.8 1524.1 977.2 1524.6 975.6C1525.2 974.1 1525.8 972.5 1526.5 971.0C1527.1 969.6 1527.9 968.1 1528.6 966.9C1529.4 965.6 1530.2 964.5 1531.0 963.5C1531.8 962.5 1532.6 961.7 1533.3 961.1C1534.1 960.5 1534.8 960.0 1535.5 959.8C1536.2 959.6 1537.1 959.8 1537.4 959.8Z" style="stroke-width:4.5"/>
<path class="kw" d="M1532.1 962.2C1530.8 963.0 1526.2 964.0 1524.2 967.1C1522.3 970.2 1520.3 976.2 1520.3 980.8C1520.3 985.4 1522.3 991.4 1524.2 994.5C1526.2 997.6 1530.8 998.6 1532.1 999.4" style="stroke-width:4.5"/>
<ellipse class="k" cx="1538.9" cy="979.8" rx="6.6" ry="9.8" transform="rotate(20 1538.9 979.8)" style="stroke-width:5.5"/>
<path class="k" d="M1563.8 969.0C1564.0 969.1 1564.6 969.4 1564.9 969.8C1565.2 970.1 1565.5 970.6 1565.7 971.2C1565.9 971.8 1566.1 972.5 1566.2 973.2C1566.3 974.0 1566.4 974.9 1566.4 975.8C1566.4 976.8 1566.3 977.8 1566.2 978.8C1566.1 979.9 1565.9 981.0 1565.7 982.2C1565.5 983.3 1565.2 984.5 1564.9 985.7C1564.6 986.9 1564.2 988.1 1563.8 989.3C1563.4 990.4 1562.9 991.6 1562.4 992.8C1561.9 993.9 1561.4 995.0 1560.9 996.0C1560.3 997.1 1559.8 998.1 1559.2 999.0C1558.6 999.9 1558.0 1000.7 1557.5 1001.4C1556.9 1002.2 1556.3 1002.8 1555.7 1003.3C1555.2 1003.9 1554.6 1004.3 1554.1 1004.6C1553.5 1005.0 1553.0 1005.2 1552.5 1005.3C1552.0 1005.3 1551.4 1005.2 1551.2 1005.2" style="stroke-width:3"/>
<path class="k" d="M1574.5 972.7C1574.7 972.9 1575.3 973.1 1575.6 973.5C1576.0 973.9 1576.2 974.4 1576.5 974.9C1576.7 975.5 1576.9 976.2 1577.0 977.0C1577.1 977.8 1577.1 978.6 1577.1 979.6C1577.1 980.5 1577.1 981.5 1577.0 982.6C1576.9 983.6 1576.7 984.8 1576.5 985.9C1576.2 987.1 1576.0 988.3 1575.6 989.4C1575.3 990.6 1574.9 991.8 1574.5 993.0C1574.1 994.2 1573.7 995.4 1573.2 996.5C1572.7 997.6 1572.2 998.7 1571.6 999.8C1571.1 1000.8 1570.5 1001.8 1570.0 1002.7C1569.4 1003.6 1568.8 1004.4 1568.2 1005.2C1567.6 1005.9 1567.1 1006.6 1566.5 1007.1C1565.9 1007.6 1565.4 1008.1 1564.8 1008.4C1564.3 1008.7 1563.8 1008.9 1563.3 1009.0C1562.8 1009.1 1562.2 1008.9 1561.9 1008.9" style="stroke-width:6"/>
<path class="k" d="M1581.4 975.1C1581.6 975.2 1582.2 975.5 1582.5 975.9C1582.8 976.3 1583.1 976.7 1583.3 977.3C1583.5 977.9 1583.7 978.6 1583.8 979.4C1583.9 980.2 1584.0 981.0 1584.0 982.0C1584.0 982.9 1583.9 983.9 1583.8 985.0C1583.7 986.0 1583.5 987.2 1583.3 988.3C1583.1 989.5 1582.8 990.6 1582.5 991.8C1582.2 993.0 1581.8 994.2 1581.4 995.4C1581.0 996.6 1580.5 997.8 1580.0 998.9C1579.5 1000.0 1579.0 1001.1 1578.5 1002.2C1577.9 1003.2 1577.4 1004.2 1576.8 1005.1C1576.2 1006.0 1575.6 1006.8 1575.1 1007.6C1574.5 1008.3 1573.9 1008.9 1573.3 1009.5C1572.8 1010.0 1572.2 1010.5 1571.7 1010.8C1571.1 1011.1 1570.6 1011.3 1570.1 1011.4C1569.6 1011.5 1569.0 1011.3 1568.8 1011.3" style="stroke-width:3"/>
<path class="k" d="M1606.8 984.0C1607.0 984.1 1607.6 984.4 1607.9 984.8C1608.2 985.1 1608.5 985.6 1608.7 986.2C1609.0 986.8 1609.1 987.5 1609.2 988.2C1609.4 989.0 1609.4 989.9 1609.4 990.8C1609.4 991.8 1609.3 992.8 1609.2 993.8C1609.1 994.9 1608.9 996.0 1608.7 997.2C1608.5 998.3 1608.2 999.5 1607.9 1000.7C1607.6 1001.9 1607.2 1003.1 1606.8 1004.3C1606.4 1005.4 1605.9 1006.6 1605.4 1007.8C1605.0 1008.9 1604.4 1010.0 1603.9 1011.0C1603.4 1012.1 1602.8 1013.1 1602.2 1014.0C1601.7 1014.9 1601.1 1015.7 1600.5 1016.4C1599.9 1017.2 1599.3 1017.8 1598.8 1018.3C1598.2 1018.9 1597.6 1019.3 1597.1 1019.6C1596.6 1020.0 1596.0 1020.2 1595.6 1020.3C1595.1 1020.3 1594.4 1020.2 1594.2 1020.2" style="stroke-width:7"/>
<path class="k" d="M1616.6 987.4C1616.8 987.5 1617.4 987.8 1617.7 988.2C1618.0 988.5 1618.3 989.0 1618.5 989.6C1618.7 990.2 1618.9 990.9 1619.0 991.7C1619.1 992.4 1619.2 993.3 1619.2 994.2C1619.2 995.2 1619.1 996.2 1619.0 997.2C1618.9 998.3 1618.7 999.4 1618.5 1000.6C1618.3 1001.7 1618.0 1002.9 1617.7 1004.1C1617.4 1005.3 1617.0 1006.5 1616.6 1007.7C1616.2 1008.9 1615.7 1010.0 1615.2 1011.2C1614.7 1012.3 1614.2 1013.4 1613.7 1014.4C1613.1 1015.5 1612.6 1016.5 1612.0 1017.4C1611.4 1018.3 1610.9 1019.1 1610.3 1019.8C1609.7 1020.6 1609.1 1021.2 1608.5 1021.8C1608.0 1022.3 1607.4 1022.7 1606.9 1023.0C1606.3 1023.4 1605.8 1023.6 1605.3 1023.7C1604.9 1023.8 1604.2 1023.6 1604.0 1023.6" style="stroke-width:4"/>
<path class="k" d="M1628.3 991.5C1628.5 991.6 1629.1 991.9 1629.4 992.3C1629.8 992.6 1630.0 993.1 1630.2 993.7C1630.5 994.3 1630.6 995.0 1630.8 995.7C1630.9 996.5 1630.9 997.4 1630.9 998.3C1630.9 999.3 1630.9 1000.3 1630.7 1001.3C1630.6 1002.4 1630.5 1003.5 1630.2 1004.7C1630.0 1005.8 1629.7 1007.0 1629.4 1008.2C1629.1 1009.4 1628.7 1010.6 1628.3 1011.8C1627.9 1012.9 1627.4 1014.1 1627.0 1015.3C1626.5 1016.4 1625.9 1017.5 1625.4 1018.5C1624.9 1019.6 1624.3 1020.6 1623.7 1021.5C1623.2 1022.4 1622.6 1023.2 1622.0 1023.9C1621.4 1024.7 1620.8 1025.3 1620.3 1025.8C1619.7 1026.4 1619.1 1026.8 1618.6 1027.1C1618.1 1027.5 1617.5 1027.7 1617.1 1027.8C1616.6 1027.8 1615.9 1027.7 1615.7 1027.7" style="stroke-width:3.5"/>
<path class="k" d="M1638.1 994.9C1638.3 995.0 1638.9 995.3 1639.2 995.7C1639.5 996.0 1639.8 996.5 1640.0 997.1C1640.2 997.7 1640.4 998.4 1640.5 999.2C1640.6 999.9 1640.7 1000.8 1640.7 1001.7C1640.7 1002.7 1640.6 1003.7 1640.5 1004.7C1640.4 1005.8 1640.2 1006.9 1640.0 1008.1C1639.8 1009.2 1639.5 1010.4 1639.2 1011.6C1638.9 1012.8 1638.5 1014.0 1638.1 1015.2C1637.7 1016.3 1637.2 1017.5 1636.7 1018.7C1636.2 1019.8 1635.7 1020.9 1635.2 1021.9C1634.7 1023.0 1634.1 1024.0 1633.5 1024.9C1633.0 1025.8 1632.4 1026.6 1631.8 1027.3C1631.2 1028.1 1630.6 1028.7 1630.0 1029.3C1629.5 1029.8 1628.9 1030.2 1628.4 1030.5C1627.8 1030.9 1627.3 1031.1 1626.8 1031.2C1626.4 1031.3 1625.7 1031.1 1625.5 1031.1" style="stroke-width:3.5"/>
<path class="kw" d="M1625.2 991.3C1629.5 991.9 1645.0 993.2 1651.3 995.2C1657.6 997.2 1660.2 999.8 1663.0 1003.0C1665.8 1006.3 1665.7 1004.8 1668.2 1014.8C1670.7 1024.7 1675.2 1050.4 1678.0 1063.0C1680.8 1075.6 1682.4 1081.0 1685.1 1090.4C1687.9 1099.7 1694.3 1112.5 1694.3 1119.0C1694.3 1125.6 1689.1 1127.0 1685.1 1129.5C1681.2 1132.0 1675.6 1134.3 1670.8 1134.0C1666.0 1133.8 1660.6 1130.5 1656.5 1128.2C1652.3 1125.9 1648.2 1123.8 1646.0 1120.3C1643.9 1116.9 1647.6 1120.3 1643.4 1107.3C1639.3 1094.3 1625.6 1054.5 1621.3 1042.1C1616.9 1029.7 1618.0 1034.5 1617.4 1033.0" style="stroke-width:5"/>
<path class="k" d="M1630.4 1036.9C1630.1 1034.3 1627.4 1026.5 1628.4 1021.3C1629.5 1016.1 1633.3 1009.3 1636.9 1005.6C1640.5 1001.9 1646.3 999.8 1650.0 999.1C1653.6 998.5 1657.6 1001.3 1659.1 1001.7" />
<path class="k" d="M1629.1 1038.2L1657.1 1107.3" />
<path class="k" d="M1657.1 1107.3C1657.9 1105.8 1659.4 1100.8 1661.7 1098.2C1664.0 1095.6 1667.6 1093.2 1670.8 1091.7C1674.1 1090.1 1679.5 1089.5 1681.2 1089.1" style="stroke-width:5"/>
<ellipse class="kw" cx="1680.6" cy="1115.8" rx="10.7" ry="14.6" transform="rotate(20 1680.6 1115.8)" style="stroke-width:4"/>
<path class="k" d="M1669.4 1128.5C1669.1 1128.4 1668.1 1128.0 1667.5 1127.5C1666.9 1127.1 1666.4 1126.6 1665.9 1126.0C1665.5 1125.4 1665.0 1124.8 1664.7 1124.0C1664.3 1123.3 1664.1 1122.5 1663.8 1121.6C1663.6 1120.8 1663.5 1119.9 1663.4 1119.0C1663.3 1118.0 1663.3 1117.1 1663.4 1116.1C1663.5 1115.1 1663.6 1114.1 1663.8 1113.1C1664.0 1112.1 1664.3 1111.1 1664.7 1110.2C1665.0 1109.2 1665.4 1108.3 1665.9 1107.4C1666.4 1106.5 1666.9 1105.6 1667.5 1104.8C1668.1 1104.0 1668.7 1103.3 1669.3 1102.6C1670.0 1102.0 1670.7 1101.4 1671.4 1100.9C1672.1 1100.3 1672.9 1099.9 1673.6 1099.6C1674.3 1099.2 1675.1 1099.0 1675.8 1098.8C1676.6 1098.7 1677.3 1098.7 1678.0 1098.7C1678.7 1098.7 1679.7 1099.1 1680.1 1099.1" />
<path class="kw" d="M1678.0 1063.0L1690.4 1057.8L1712.5 1064.3L1723.0 1099.5L1694.9 1116.4L1685.1 1090.4Z" style="stroke-width:5"/>
<path class="k" d="M1681.2 1076.0L1704.7 1068.2L1715.1 1103.4" style="stroke-width:4"/>
<path class="k" d="M1698.2 1079.9L1707.3 1107.3" style="stroke-width:5"/>
<path class="k" d="M1690.4 1059.1L1698.2 1079.9" />
<path class="k" d="M1704.7 1068.2L1712.5 1064.3" />
<path class="k" d="M1685.1 1077.3L1689.1 1089.1" /></g>
<g filter="url(#rough)"><path class="dt" d="M1272.0 875.2L1522.3 973.0" style="stroke-dasharray:30 7"/></g></g>
<g id="70_bottom"><g filter="url(#rough)"><path class="sw" d="M1517.4 1289.5C1518.1 1290.0 1520.2 1291.2 1521.3 1292.5C1522.5 1293.7 1523.4 1295.3 1524.2 1296.9C1524.9 1298.6 1525.4 1300.5 1525.7 1302.5C1526.0 1304.5 1526.0 1306.7 1525.8 1308.9C1525.6 1311.1 1525.2 1313.4 1524.6 1315.6C1523.9 1317.8 1523.0 1320.0 1522.0 1322.1C1520.9 1324.2 1519.7 1326.3 1518.3 1328.1C1516.9 1329.9 1515.3 1331.7 1513.6 1333.1C1512.0 1334.6 1510.2 1335.8 1508.5 1336.8C1506.7 1337.7 1504.8 1338.5 1503.0 1338.9C1501.3 1339.3 1499.5 1339.4 1497.8 1339.3C1496.1 1339.1 1493.8 1338.1 1493.0 1337.9L1432.1 1307.2C1431.5 1306.7 1429.3 1305.5 1428.2 1304.2C1427.1 1303.0 1426.1 1301.5 1425.4 1299.8C1424.6 1298.1 1424.1 1296.2 1423.8 1294.2C1423.6 1292.2 1423.5 1290.0 1423.7 1287.8C1423.9 1285.6 1424.3 1283.3 1425.0 1281.1C1425.6 1278.9 1426.5 1276.7 1427.5 1274.6C1428.6 1272.5 1429.9 1270.4 1431.3 1268.6C1432.7 1266.8 1434.3 1265.0 1435.9 1263.6C1437.5 1262.2 1439.3 1260.9 1441.1 1259.9C1442.8 1259.0 1444.7 1258.2 1446.5 1257.8C1448.3 1257.4 1450.1 1257.3 1451.7 1257.4C1453.4 1257.6 1455.7 1258.6 1456.5 1258.8Z" />
<ellipse class="sw" cx="1505.2" cy="1313.7" rx="18.8" ry="27.1" transform="rotate(26.7 1505.2 1313.7)"/>
<path class="s" d="M1482.6 1332.7C1482.1 1332.3 1480.5 1331.4 1479.6 1330.6C1478.7 1329.7 1477.8 1328.7 1477.1 1327.6C1476.4 1326.5 1475.8 1325.3 1475.3 1323.9C1474.9 1322.6 1474.5 1321.1 1474.3 1319.6C1474.1 1318.1 1474.0 1316.5 1474.1 1314.9C1474.1 1313.3 1474.3 1311.6 1474.6 1309.9C1474.9 1308.3 1475.4 1306.6 1476.0 1304.9C1476.5 1303.3 1477.2 1301.6 1478.0 1300.0C1478.8 1298.5 1479.7 1296.9 1480.7 1295.5C1481.7 1294.0 1482.8 1292.7 1484.0 1291.4C1485.1 1290.2 1486.3 1289.0 1487.6 1288.0C1488.9 1287.0 1490.2 1286.1 1491.5 1285.4C1492.9 1284.6 1494.3 1284.1 1495.6 1283.6C1496.9 1283.2 1498.3 1283.0 1499.6 1282.9C1500.9 1282.8 1502.2 1282.8 1503.5 1283.1C1504.7 1283.3 1506.4 1284.0 1507.0 1284.2" />
<ellipse class="s" cx="1505.2" cy="1313.7" rx="15.0" ry="22.5" transform="rotate(26.7 1505.2 1313.7)" style="stroke-width:5"/>
<path class="s" d="M1560.4 1320.6C1560.3 1321.8 1560.1 1325.8 1559.6 1328.3C1559.1 1330.8 1558.2 1333.4 1557.2 1335.6C1556.2 1337.9 1555.0 1340.1 1553.6 1341.8C1552.3 1343.5 1550.7 1345.0 1549.2 1346.0C1547.7 1347.0 1546.0 1347.6 1544.5 1347.7C1543.0 1347.9 1541.5 1347.5 1540.1 1346.8C1538.8 1346.1 1537.5 1344.8 1536.6 1343.3C1535.6 1341.8 1534.8 1339.8 1534.2 1337.7C1533.7 1335.6 1533.4 1333.0 1533.4 1330.6C1533.5 1328.1 1533.8 1325.4 1534.3 1322.9C1534.8 1320.4 1535.7 1317.8 1536.7 1315.5C1537.6 1313.3 1538.9 1311.1 1540.3 1309.3C1541.6 1307.6 1543.2 1306.1 1544.7 1305.1C1546.2 1304.2 1547.8 1303.5 1549.4 1303.4C1550.9 1303.3 1552.4 1303.6 1553.7 1304.3C1555.1 1305.1 1556.7 1307.3 1557.3 1307.8" style="stroke-width:11"/>
<ellipse class="sw" cx="1586.6" cy="1342.3" rx="17.7" ry="25.0" transform="rotate(12 1586.6 1342.3)" style="stroke-width:5.5"/>
<ellipse class="sw" cx="1630.4" cy="1358.5" rx="17.7" ry="25.0" transform="rotate(12 1630.4 1358.5)" style="stroke-width:5.5"/>
<path class="sw" d="M1657.5 1400.3C1657.1 1405.1 1657.8 1420.8 1655.4 1429.5C1653.0 1438.1 1644.6 1446.5 1642.9 1452.4C1641.2 1458.3 1642.9 1462.0 1645.0 1464.9C1647.1 1467.9 1650.9 1469.4 1655.4 1470.1C1659.9 1470.8 1667.2 1473.1 1672.1 1469.1C1677.0 1465.1 1680.4 1454.1 1684.6 1446.1C1688.8 1438.1 1695.0 1425.3 1697.1 1421.1" style="stroke-width:4.5"/>
<path class="s" d="M1669.0 1408.6C1668.4 1412.1 1668.4 1421.5 1665.8 1429.5C1663.2 1437.4 1654.5 1450.0 1653.3 1456.6C1652.1 1463.2 1657.7 1467.0 1658.5 1469.1" />
<path class="sw" d="M1738.8 1433.6C1737.8 1436.4 1736.4 1443.0 1732.6 1450.3C1728.8 1457.6 1718.3 1470.8 1715.9 1477.4C1713.5 1484.0 1715.9 1486.8 1718.0 1489.9C1720.1 1493.1 1723.9 1495.5 1728.4 1496.2C1732.9 1496.9 1739.2 1500.0 1745.1 1494.1C1751.0 1488.2 1757.3 1473.3 1763.9 1460.7C1770.5 1448.2 1781.3 1426.0 1784.7 1419.0" style="stroke-width:4.5"/>
<path class="s" d="M1747.2 1439.9C1746.1 1442.7 1744.4 1449.6 1740.9 1456.6C1737.5 1463.5 1727.9 1475.2 1726.3 1481.6C1724.8 1488.0 1730.7 1492.9 1731.5 1495.2" />
<path class="s" d="M1655.4 1373.1C1655.8 1370.7 1654.7 1362.9 1657.5 1358.5C1660.3 1354.2 1667.6 1348.8 1672.1 1347.1C1676.6 1345.3 1682.5 1347.9 1684.6 1348.1" style="stroke-width:4.5"/>
<path class="s" d="M1672.1 1347.1L1759.7 1381.5" style="stroke-width:4.5"/>
<path class="sw" d="M1655.4 1373.1L1658.5 1405.5L1737.8 1436.8L1738.8 1406.5" style="stroke-width:4.5"/>
<path class="s" d="M1655.4 1373.1L1738.8 1406.5" style="stroke-width:6"/>
<ellipse class="sw" cx="1761.8" cy="1406.5" rx="25.0" ry="31.7" transform="rotate(15 1761.8 1406.5)" style="stroke-width:4.5"/>
<path class="s" d="M1759.7 1381.5C1757.3 1382.5 1748.8 1383.6 1745.1 1387.7C1741.5 1391.9 1738.8 1398.5 1737.8 1406.5C1736.8 1414.5 1738.7 1430.8 1738.8 1435.7" style="stroke-width:4.5"/>
<ellipse class="s" cx="1760.7" cy="1409.6" rx="16.3" ry="21.9" transform="rotate(15 1760.7 1409.6)" style="stroke-width:4.5"/>
<ellipse class="s" cx="1695.0" cy="1402.8" rx="7.3" ry="4.2" transform="rotate(25 1695.0 1402.8)" style="stroke-width:4"/></g>
<g><text class="lb" x="1593.9" y="1243.8" font-size="27" text-anchor="middle" >38</text></g>
<g filter="url(#rough)"><path class="ld" d="M1584.5 1255.3L1600.1 1255.3" style="stroke-width:3.4"/>
<path class="ld" d="M1584.5 1255.3L1555.3 1302.2" /></g>
<g><text class="lb" x="1708.6" y="1243.8" font-size="27" text-anchor="middle" >39</text></g>
<g filter="url(#rough)"><path class="ld" d="M1700.3 1255.3L1713.8 1255.3" style="stroke-width:3.4"/>
<path class="ld" d="M1700.3 1255.3L1682.5 1346.0" />
<path class="sw" d="M2103.9 1514.9C2104.3 1515.2 2105.4 1515.8 2106.0 1516.6C2106.6 1517.3 2107.1 1518.4 2107.4 1519.6C2107.7 1520.8 2108.0 1522.2 2108.0 1523.8C2108.1 1525.3 2108.0 1527.1 2107.8 1528.9C2107.5 1530.7 2107.2 1532.6 2106.7 1534.5C2106.2 1536.4 2105.6 1538.4 2104.9 1540.3C2104.2 1542.2 2103.3 1544.1 2102.5 1545.9C2101.6 1547.7 2100.6 1549.4 2099.6 1550.9C2098.6 1552.4 2097.5 1553.7 2096.4 1554.9C2095.3 1556.0 2094.2 1557.0 2093.2 1557.7C2092.2 1558.4 2091.1 1558.8 2090.2 1559.0C2089.2 1559.2 2088.0 1558.9 2087.5 1558.9L1809.8 1455.2C1809.5 1455.0 1808.3 1454.4 1807.7 1453.6C1807.2 1452.8 1806.7 1451.8 1806.3 1450.6C1806.0 1449.4 1805.8 1447.9 1805.7 1446.4C1805.7 1444.8 1805.8 1443.1 1806.0 1441.3C1806.2 1439.5 1806.6 1437.6 1807.1 1435.6C1807.5 1433.7 1808.2 1431.7 1808.9 1429.8C1809.6 1427.9 1810.4 1426.0 1811.3 1424.3C1812.2 1422.5 1813.2 1420.8 1814.2 1419.3C1815.2 1417.8 1816.3 1416.4 1817.4 1415.3C1818.4 1414.2 1819.5 1413.2 1820.6 1412.5C1821.6 1411.8 1822.6 1411.3 1823.6 1411.1C1824.5 1410.9 1825.8 1411.3 1826.2 1411.3Z" style="stroke-width:4"/>
<path class="sw" d="M1821.9 1405.9C1819.0 1405.6 1808.9 1401.0 1804.3 1403.9C1799.8 1406.9 1795.2 1416.3 1794.6 1423.5C1793.9 1430.7 1797.5 1441.7 1800.4 1447.0C1803.4 1452.2 1810.2 1453.5 1812.2 1454.8" style="stroke-width:4"/>
<path class="s" d="M1813.4 1456.0C1813.2 1455.8 1812.3 1455.4 1811.8 1454.9C1811.3 1454.4 1810.9 1453.7 1810.6 1452.9C1810.2 1452.2 1810.0 1451.3 1809.8 1450.2C1809.6 1449.2 1809.5 1448.1 1809.5 1446.9C1809.4 1445.7 1809.5 1444.4 1809.6 1443.0C1809.7 1441.7 1809.9 1440.2 1810.2 1438.8C1810.5 1437.3 1810.9 1435.8 1811.3 1434.3C1811.7 1432.8 1812.2 1431.3 1812.8 1429.8C1813.3 1428.4 1814.0 1426.9 1814.6 1425.5C1815.3 1424.1 1816.0 1422.7 1816.7 1421.4C1817.5 1420.1 1818.3 1418.9 1819.0 1417.8C1819.8 1416.7 1820.7 1415.7 1821.5 1414.8C1822.3 1413.9 1823.1 1413.1 1823.9 1412.5C1824.7 1411.8 1825.5 1411.3 1826.3 1411.0C1827.0 1410.6 1827.8 1410.4 1828.5 1410.3C1829.2 1410.2 1830.1 1410.5 1830.4 1410.5" />
<path class="s" d="M2087.2 1559.6C2087.0 1559.4 2086.1 1559.0 2085.6 1558.5C2085.1 1558.0 2084.7 1557.4 2084.4 1556.6C2084.0 1555.8 2083.8 1554.9 2083.6 1553.9C2083.4 1552.9 2083.3 1551.8 2083.2 1550.6C2083.2 1549.3 2083.3 1548.0 2083.4 1546.7C2083.5 1545.3 2083.7 1543.9 2084.0 1542.4C2084.3 1541.0 2084.7 1539.5 2085.1 1538.0C2085.5 1536.5 2086.0 1535.0 2086.6 1533.5C2087.1 1532.0 2087.7 1530.5 2088.4 1529.1C2089.1 1527.7 2089.8 1526.3 2090.5 1525.1C2091.3 1523.8 2092.0 1522.5 2092.8 1521.4C2093.6 1520.3 2094.4 1519.3 2095.3 1518.4C2096.1 1517.5 2096.9 1516.8 2097.7 1516.1C2098.5 1515.5 2099.3 1515.0 2100.1 1514.6C2100.8 1514.3 2101.6 1514.0 2102.3 1514.0C2103.0 1513.9 2103.9 1514.2 2104.2 1514.2" style="stroke-width:4.5"/>
<path class="st" d="M2081.4 1557.7C2081.1 1557.5 2080.2 1557.1 2079.7 1556.6C2079.3 1556.1 2078.9 1555.4 2078.5 1554.6C2078.2 1553.9 2077.9 1552.9 2077.7 1551.9C2077.5 1550.9 2077.4 1549.8 2077.4 1548.6C2077.4 1547.4 2077.4 1546.1 2077.5 1544.7C2077.7 1543.4 2077.9 1541.9 2078.2 1540.5C2078.4 1539.0 2078.8 1537.5 2079.2 1536.0C2079.6 1534.5 2080.2 1533.0 2080.7 1531.5C2081.3 1530.1 2081.9 1528.6 2082.5 1527.2C2083.2 1525.8 2083.9 1524.4 2084.7 1523.1C2085.4 1521.8 2086.2 1520.6 2087.0 1519.5C2087.8 1518.4 2088.6 1517.4 2089.4 1516.5C2090.2 1515.6 2091.0 1514.8 2091.8 1514.2C2092.6 1513.5 2093.4 1513.0 2094.2 1512.7C2095.0 1512.3 2095.7 1512.1 2096.4 1512.0C2097.1 1511.9 2098.0 1512.2 2098.4 1512.2" />
<path class="sw" d="M2153.4 1574.1A37.8 37.8 0 0 1 2093.6 1527.9L2383.6 1151.9A37.8 37.8 0 0 1 2443.4 1198.1Z" style="stroke-width:4"/>
<path class="sw" d="M2163.4 1580.6A37.8 37.8 0 0 1 2103.6 1534.4L2393.5 1158.9A37.8 37.8 0 0 1 2453.3 1205.1Z" style="stroke-width:4"/>
<ellipse class="s" cx="2423.4" cy="1182.2" rx="24.0" ry="29.7" transform="rotate(8 2423.4 1182.2)" style="stroke-width:4"/>
<ellipse class="s" cx="2425.0" cy="1183.0" rx="17.0" ry="22.5" transform="rotate(8 2425.0 1183.0)" style="stroke-width:3.5"/>
<ellipse class="s" cx="2427.0" cy="1184.0" rx="12.0" ry="17.0" transform="rotate(8 2427.0 1184.0)" style="stroke-width:4"/>
<path class="sw" d="M2302.7 1111.0C2303.3 1111.4 2305.1 1112.3 2306.1 1113.6C2307.0 1114.9 2307.7 1116.6 2308.3 1118.6C2308.8 1120.6 2309.1 1123.0 2309.2 1125.5C2309.3 1128.1 2309.1 1131.0 2308.8 1134.0C2308.4 1137.0 2307.8 1140.2 2307.0 1143.4C2306.2 1146.6 2305.2 1149.9 2304.0 1153.1C2302.9 1156.3 2301.5 1159.5 2300.1 1162.4C2298.6 1165.4 2297.0 1168.2 2295.4 1170.7C2293.8 1173.3 2292.0 1175.6 2290.3 1177.5C2288.6 1179.4 2286.8 1181.1 2285.1 1182.2C2283.4 1183.4 2281.8 1184.3 2280.2 1184.6C2278.7 1185.0 2276.7 1184.5 2276.0 1184.5L2232.9 1168.9C2232.4 1168.4 2230.5 1167.5 2229.6 1166.2C2228.7 1164.9 2227.9 1163.2 2227.4 1161.3C2226.9 1159.3 2226.5 1156.9 2226.5 1154.3C2226.4 1151.7 2226.5 1148.8 2226.9 1145.8C2227.3 1142.9 2227.9 1139.6 2228.7 1136.4C2229.4 1133.3 2230.5 1129.9 2231.6 1126.7C2232.8 1123.6 2234.1 1120.4 2235.6 1117.4C2237.0 1114.5 2238.6 1111.6 2240.3 1109.1C2241.9 1106.6 2243.7 1104.2 2245.4 1102.3C2247.1 1100.4 2248.9 1098.8 2250.5 1097.6C2252.2 1096.4 2253.9 1095.6 2255.4 1095.2C2256.9 1094.8 2259.0 1095.3 2259.7 1095.3Z" />
<ellipse class="sw" cx="2289.3" cy="1147.7" rx="15.6" ry="39.1" transform="rotate(20.0 2289.3 1147.7)"/>
<path class="sw" d="M2262.0 1093.0C2257.4 1093.6 2241.1 1092.0 2234.6 1096.9C2228.1 1101.8 2224.5 1113.5 2222.8 1122.3C2221.2 1131.1 2221.5 1142.5 2224.8 1149.7C2228.1 1156.9 2234.3 1161.8 2242.4 1165.3C2250.6 1168.9 2268.5 1170.2 2273.7 1171.2" style="stroke-width:4.5"/>
<path class="s" d="M2262.0 1093.0L2297.2 1100.8" />
<path class="s" d="M2258.0 1094.9L2273.7 1089.1L2289.3 1096.9L2273.7 1106.7L2258.0 1094.9" style="stroke-width:3"/>
<path class="sw" d="M2364.6 1144.1C2364.8 1144.3 2365.7 1144.6 2366.1 1145.2C2366.6 1145.7 2367.0 1146.5 2367.3 1147.4C2367.6 1148.2 2367.8 1149.3 2367.9 1150.5C2368.1 1151.7 2368.1 1153.0 2368.0 1154.4C2368.0 1155.8 2367.8 1157.3 2367.5 1158.8C2367.3 1160.2 2366.9 1161.8 2366.5 1163.3C2366.1 1164.8 2365.6 1166.3 2365.0 1167.7C2364.5 1169.1 2363.9 1170.5 2363.2 1171.7C2362.6 1172.9 2361.8 1174.1 2361.1 1175.0C2360.4 1176.0 2359.7 1176.8 2359.0 1177.4C2358.2 1178.0 2357.5 1178.4 2356.8 1178.7C2356.2 1178.9 2355.2 1178.7 2354.9 1178.8L2284.5 1159.2C2284.3 1159.0 2283.4 1158.7 2282.9 1158.1C2282.5 1157.6 2282.1 1156.8 2281.8 1155.9C2281.5 1155.1 2281.3 1154.0 2281.1 1152.8C2281.0 1151.6 2281.0 1150.3 2281.1 1148.9C2281.1 1147.5 2281.3 1146.0 2281.5 1144.5C2281.8 1143.1 2282.1 1141.5 2282.6 1140.0C2283.0 1138.5 2283.5 1137.0 2284.0 1135.6C2284.6 1134.2 2285.2 1132.8 2285.9 1131.6C2286.5 1130.4 2287.2 1129.2 2287.9 1128.3C2288.7 1127.3 2289.4 1126.5 2290.1 1125.9C2290.8 1125.3 2291.6 1124.9 2292.2 1124.6C2292.9 1124.4 2293.8 1124.6 2294.2 1124.5Z" />
<ellipse class="sw" cx="2359.7" cy="1161.4" rx="7.0" ry="18.0" transform="rotate(15.5 2359.7 1161.4)"/>
<path class="s" d="M2303.9 1130.0C2304.1 1130.1 2304.7 1130.3 2305.0 1130.6C2305.3 1131.0 2305.6 1131.4 2305.9 1131.9C2306.1 1132.5 2306.3 1133.1 2306.5 1133.8C2306.6 1134.6 2306.7 1135.4 2306.8 1136.3C2306.8 1137.1 2306.8 1138.1 2306.8 1139.1C2306.8 1140.1 2306.7 1141.2 2306.5 1142.2C2306.4 1143.3 2306.2 1144.5 2306.0 1145.6C2305.7 1146.7 2305.5 1147.9 2305.1 1149.0C2304.8 1150.1 2304.5 1151.3 2304.1 1152.3C2303.7 1153.4 2303.3 1154.5 2302.8 1155.5C2302.4 1156.5 2301.9 1157.5 2301.5 1158.4C2301.0 1159.2 2300.5 1160.0 2300.0 1160.8C2299.5 1161.5 2299.0 1162.1 2298.5 1162.7C2298.0 1163.2 2297.5 1163.7 2297.0 1164.0C2296.5 1164.3 2296.0 1164.5 2295.6 1164.7C2295.1 1164.8 2294.5 1164.7 2294.3 1164.7" style="stroke-width:4.5"/>
<path class="s" d="M2313.3 1132.6C2313.5 1132.7 2314.1 1132.9 2314.4 1133.3C2314.7 1133.6 2315.0 1134.0 2315.3 1134.6C2315.5 1135.1 2315.7 1135.7 2315.9 1136.5C2316.0 1137.2 2316.1 1138.0 2316.2 1138.9C2316.2 1139.7 2316.2 1140.7 2316.2 1141.7C2316.1 1142.7 2316.1 1143.8 2315.9 1144.8C2315.8 1145.9 2315.6 1147.1 2315.4 1148.2C2315.1 1149.3 2314.8 1150.5 2314.5 1151.6C2314.2 1152.7 2313.9 1153.9 2313.5 1155.0C2313.1 1156.0 2312.7 1157.1 2312.2 1158.1C2311.8 1159.1 2311.3 1160.1 2310.8 1161.0C2310.4 1161.8 2309.9 1162.7 2309.4 1163.4C2308.9 1164.1 2308.4 1164.7 2307.9 1165.3C2307.4 1165.8 2306.9 1166.3 2306.4 1166.6C2305.9 1166.9 2305.4 1167.2 2305.0 1167.3C2304.5 1167.4 2303.9 1167.3 2303.7 1167.3" style="stroke-width:4.5"/>
<path class="s" d="M2322.7 1135.2C2322.9 1135.3 2323.5 1135.5 2323.8 1135.9C2324.1 1136.2 2324.4 1136.6 2324.6 1137.2C2324.9 1137.7 2325.1 1138.3 2325.2 1139.1C2325.4 1139.8 2325.5 1140.6 2325.6 1141.5C2325.6 1142.3 2325.6 1143.3 2325.6 1144.3C2325.5 1145.3 2325.4 1146.4 2325.3 1147.5C2325.2 1148.5 2325.0 1149.7 2324.7 1150.8C2324.5 1151.9 2324.2 1153.1 2323.9 1154.2C2323.6 1155.3 2323.3 1156.5 2322.9 1157.6C2322.5 1158.7 2322.1 1159.7 2321.6 1160.7C2321.2 1161.7 2320.7 1162.7 2320.2 1163.6C2319.8 1164.4 2319.3 1165.3 2318.8 1166.0C2318.3 1166.7 2317.7 1167.4 2317.2 1167.9C2316.7 1168.4 2316.2 1168.9 2315.8 1169.2C2315.3 1169.5 2314.8 1169.8 2314.4 1169.9C2313.9 1170.0 2313.3 1169.9 2313.1 1169.9" style="stroke-width:4.5"/>
<path class="s" d="M2332.1 1137.8C2332.3 1137.9 2332.8 1138.2 2333.2 1138.5C2333.5 1138.8 2333.8 1139.2 2334.0 1139.8C2334.3 1140.3 2334.5 1141.0 2334.6 1141.7C2334.8 1142.4 2334.9 1143.2 2334.9 1144.1C2335.0 1145.0 2335.0 1145.9 2335.0 1146.9C2334.9 1147.9 2334.8 1149.0 2334.7 1150.1C2334.6 1151.1 2334.4 1152.3 2334.1 1153.4C2333.9 1154.5 2333.6 1155.7 2333.3 1156.8C2333.0 1158.0 2332.6 1159.1 2332.3 1160.2C2331.9 1161.3 2331.4 1162.3 2331.0 1163.3C2330.6 1164.3 2330.1 1165.3 2329.6 1166.2C2329.1 1167.1 2328.6 1167.9 2328.1 1168.6C2327.6 1169.3 2327.1 1170.0 2326.6 1170.5C2326.1 1171.0 2325.6 1171.5 2325.1 1171.8C2324.7 1172.1 2324.2 1172.4 2323.7 1172.5C2323.3 1172.6 2322.7 1172.5 2322.5 1172.5" style="stroke-width:4.5"/>
<path class="s" d="M2341.5 1140.4C2341.7 1140.5 2342.2 1140.8 2342.6 1141.1C2342.9 1141.4 2343.2 1141.9 2343.4 1142.4C2343.7 1142.9 2343.9 1143.6 2344.0 1144.3C2344.2 1145.0 2344.3 1145.8 2344.3 1146.7C2344.4 1147.6 2344.4 1148.5 2344.4 1149.5C2344.3 1150.5 2344.2 1151.6 2344.1 1152.7C2343.9 1153.8 2343.7 1154.9 2343.5 1156.0C2343.3 1157.2 2343.0 1158.3 2342.7 1159.4C2342.4 1160.6 2342.0 1161.7 2341.6 1162.8C2341.3 1163.9 2340.8 1164.9 2340.4 1165.9C2340.0 1166.9 2339.5 1167.9 2339.0 1168.8C2338.5 1169.7 2338.0 1170.5 2337.5 1171.2C2337.0 1171.9 2336.5 1172.6 2336.0 1173.1C2335.5 1173.6 2335.0 1174.1 2334.5 1174.4C2334.0 1174.8 2333.6 1175.0 2333.1 1175.1C2332.7 1175.2 2332.1 1175.1 2331.9 1175.1" style="stroke-width:4.5"/>
<path class="s" d="M2350.9 1143.0C2351.0 1143.1 2351.6 1143.4 2351.9 1143.7C2352.3 1144.0 2352.6 1144.5 2352.8 1145.0C2353.0 1145.5 2353.2 1146.2 2353.4 1146.9C2353.6 1147.6 2353.7 1148.4 2353.7 1149.3C2353.8 1150.2 2353.8 1151.1 2353.7 1152.1C2353.7 1153.1 2353.6 1154.2 2353.5 1155.3C2353.3 1156.4 2353.1 1157.5 2352.9 1158.6C2352.7 1159.8 2352.4 1160.9 2352.1 1162.0C2351.8 1163.2 2351.4 1164.3 2351.0 1165.4C2350.6 1166.5 2350.2 1167.6 2349.8 1168.6C2349.3 1169.6 2348.9 1170.5 2348.4 1171.4C2347.9 1172.3 2347.4 1173.1 2346.9 1173.8C2346.4 1174.5 2345.9 1175.2 2345.4 1175.7C2344.9 1176.3 2344.4 1176.7 2343.9 1177.0C2343.4 1177.4 2343.0 1177.6 2342.5 1177.7C2342.1 1177.8 2341.5 1177.7 2341.2 1177.7" style="stroke-width:4.5"/>
<path class="s" d="M2360.2 1145.6C2360.4 1145.8 2361.0 1146.0 2361.3 1146.3C2361.7 1146.6 2361.9 1147.1 2362.2 1147.6C2362.4 1148.1 2362.6 1148.8 2362.8 1149.5C2362.9 1150.2 2363.0 1151.0 2363.1 1151.9C2363.2 1152.8 2363.2 1153.7 2363.1 1154.7C2363.1 1155.7 2363.0 1156.8 2362.9 1157.9C2362.7 1159.0 2362.5 1160.1 2362.3 1161.2C2362.1 1162.4 2361.8 1163.5 2361.5 1164.7C2361.2 1165.8 2360.8 1166.9 2360.4 1168.0C2360.0 1169.1 2359.6 1170.2 2359.2 1171.2C2358.7 1172.2 2358.3 1173.1 2357.8 1174.0C2357.3 1174.9 2356.8 1175.7 2356.3 1176.4C2355.8 1177.1 2355.3 1177.8 2354.8 1178.3C2354.3 1178.9 2353.8 1179.3 2353.3 1179.6C2352.8 1180.0 2352.3 1180.2 2351.9 1180.3C2351.5 1180.4 2350.8 1180.3 2350.6 1180.3" style="stroke-width:4.5"/>
<ellipse class="sw" cx="2473.2" cy="1200.5" rx="14.1" ry="18.8" transform="rotate(10 2473.2 1200.5)" style="stroke-width:5.5"/>
<path class="sw" d="M2490.8 1210.3L2498.6 1194.7L2516.2 1188.8L2533.8 1198.6L2539.7 1216.2L2531.8 1233.8L2514.2 1239.7L2496.6 1229.9Z" style="stroke-width:4.5"/>
<ellipse class="s" cx="2518.1" cy="1215.4" rx="11.7" ry="14.1" transform="rotate(0 2518.1 1215.4)" style="stroke-width:5"/>
<path class="st" d="M2498.6 1194.7L2504.5 1212.3L2496.6 1229.9" />
<path class="st" d="M2504.5 1212.3L2490.8 1210.3" />
<path class="s" d="M1971.7 1382.4L1969.4 1415.7" style="stroke-width:8"/>
<path class="st" d="M1971.7 1385.2L1969.4 1411.8" style="stroke:#fff;stroke-width:2"/></g>
<g><path class="k" d="M1969.4 1415.7L1964.7 1523.2" style="stroke-width:2"/>
<text class="lb" x="1870.0" y="1310.0" font-size="27" text-anchor="middle" >40</text></g>
<g filter="url(#rough)"><path class="ld" d="M1863.0 1319.0L1879.0 1319.0" style="stroke-width:3.4"/>
<path class="ld" d="M1863.0 1319.8L1847.4 1409.8" /></g>
<g><text class="lb" x="2004.6" y="1284.0" font-size="27" text-anchor="middle" >41</text></g>
<g filter="url(#rough)"><path class="ld" d="M1998.0 1292.5L2012.0 1292.5" style="stroke-width:3.4"/>
<path class="ld" d="M1998.0 1293.2L1978.4 1378.5" /></g>
<g><text class="lb" x="2312.0" y="1049.0" font-size="27" text-anchor="middle" >42</text></g>
<g filter="url(#rough)"><path class="ld" d="M2298.0 1057.0L2318.0 1057.0" style="stroke-width:3.4"/>
<path class="ld" d="M2300.0 1058.0L2292.0 1105.0" /></g></g>
<g id="80_axes"><g filter="url(#rough)"><path class="d" d="M642.0 519.0L945.0 631.0" />
<path class="d" d="M425.0 488.8L640.0 570.0L1000.0 697.0L1340.0 812.0L1535.6 877.6L2130.0 1079.7" />
<path class="d" d="M2134.0 1083.6L1336.0 1245.9" />
<path class="dt" d="M1336.0 1246.0L1687.0 1388.3L2150.0 1563.0" style="stroke-dasharray:34 8"/>
<path class="d" d="M517.7 613.0L813.7 716.0" />
<path class="d" d="M73.0 916.0L120.0 905.0" />
<path class="d" d="M473.5 826.4L760.0 761.5L1016.0 711.0L1383.0 634.0" style="stroke-dasharray:40 6"/>
<path class="d" d="M412.0 892.0L440.0 886.0" />
<path class="d" d="M628.4 850.6L760.0 820.1L1176.0 743.8L1277.7 722.3" style="stroke-dasharray:40 6"/>
<path class="d" d="M536.0 951.6L760.0 904.6L960.0 861.7L1240.5 810.3L1450.0 765.3L1467.0 763.0" style="stroke-dasharray:40 6"/>
<path class="dt" d="M2367.6 1161.4L2500.5 1204.5" /></g></g>
<g id="wm" fill="#161616" opacity="0.3">
<rect x="1005.5" y="716.7" width="41.5" height="27.3"/><rect x="1110" y="716.7" width="41" height="27"/>
<!-- H -->
<path d="M782.7 770.3H837.8V836.1H899.1V770.3H954.8V957H899.1V884H837.8V957H782.7Z"/>
<!-- U -->
<path d="M992.1 770.3H1047.7V886A31 31 0 0 0 1109.8 886V770.3H1165.5V870A86.7 87 0 0 1 992.1 870Z"/>
<!-- T -->
<path d="M1188 770.3H1358V816H1301.2V957H1245.8V816H1188Z"/>
<!-- E -->
<path d="M1384.3 770.3H1536V814.5H1437.3V841H1526.4V877H1437.3V914.4H1536V957H1384.3Z"/>
<!-- R -->
<path fill-rule="evenodd" d="M1566.6 770.3H1680C1715 770.3 1730 795 1730 821C1730 850 1712 868 1690 874L1742.8 957H1685L1640 881H1621.6V957H1566.6Z M1621.6 809.5H1668C1678 809.5 1680 818 1680 827C1680 838 1676 845 1666 845H1621.6Z"/>
<!-- swoosh gray -->
<path d="M1634.2 764.1C1636 745 1642 726 1653.1 713.1C1662 702 1668 696 1675.2 692.1H1752L1738 713.1H1701.8C1694 718 1689 723 1684.1 728.6C1675 738 1670 745 1666.4 750.8C1663 755 1661 760 1659.7 764.1Z"/>

<path fill="#de000c" stroke="#fff" stroke-width="3" d="M1660.8 788.4C1661 780 1663 772 1666.4 764.1C1669 755 1674 747 1679.6 739.7C1686 731 1693 723 1701.8 716.4H1768.3L1755 735.3H1728.4C1722 739 1716 744 1710.7 750.8C1704 758 1699 765 1695.2 772.9C1692 779 1690 785 1689.6 790.7Z"/>
<path fill="#f2f200" stroke="#fff" stroke-width="3" d="M1728.4 736.8H1794.9L1759.4 808.8H1688.5C1688 800 1690 792 1692.9 784C1697 773 1703 763 1710.7 755.2C1716 748 1722 742 1728.4 736.8Z"/>
</g>

</svg></body></html>
